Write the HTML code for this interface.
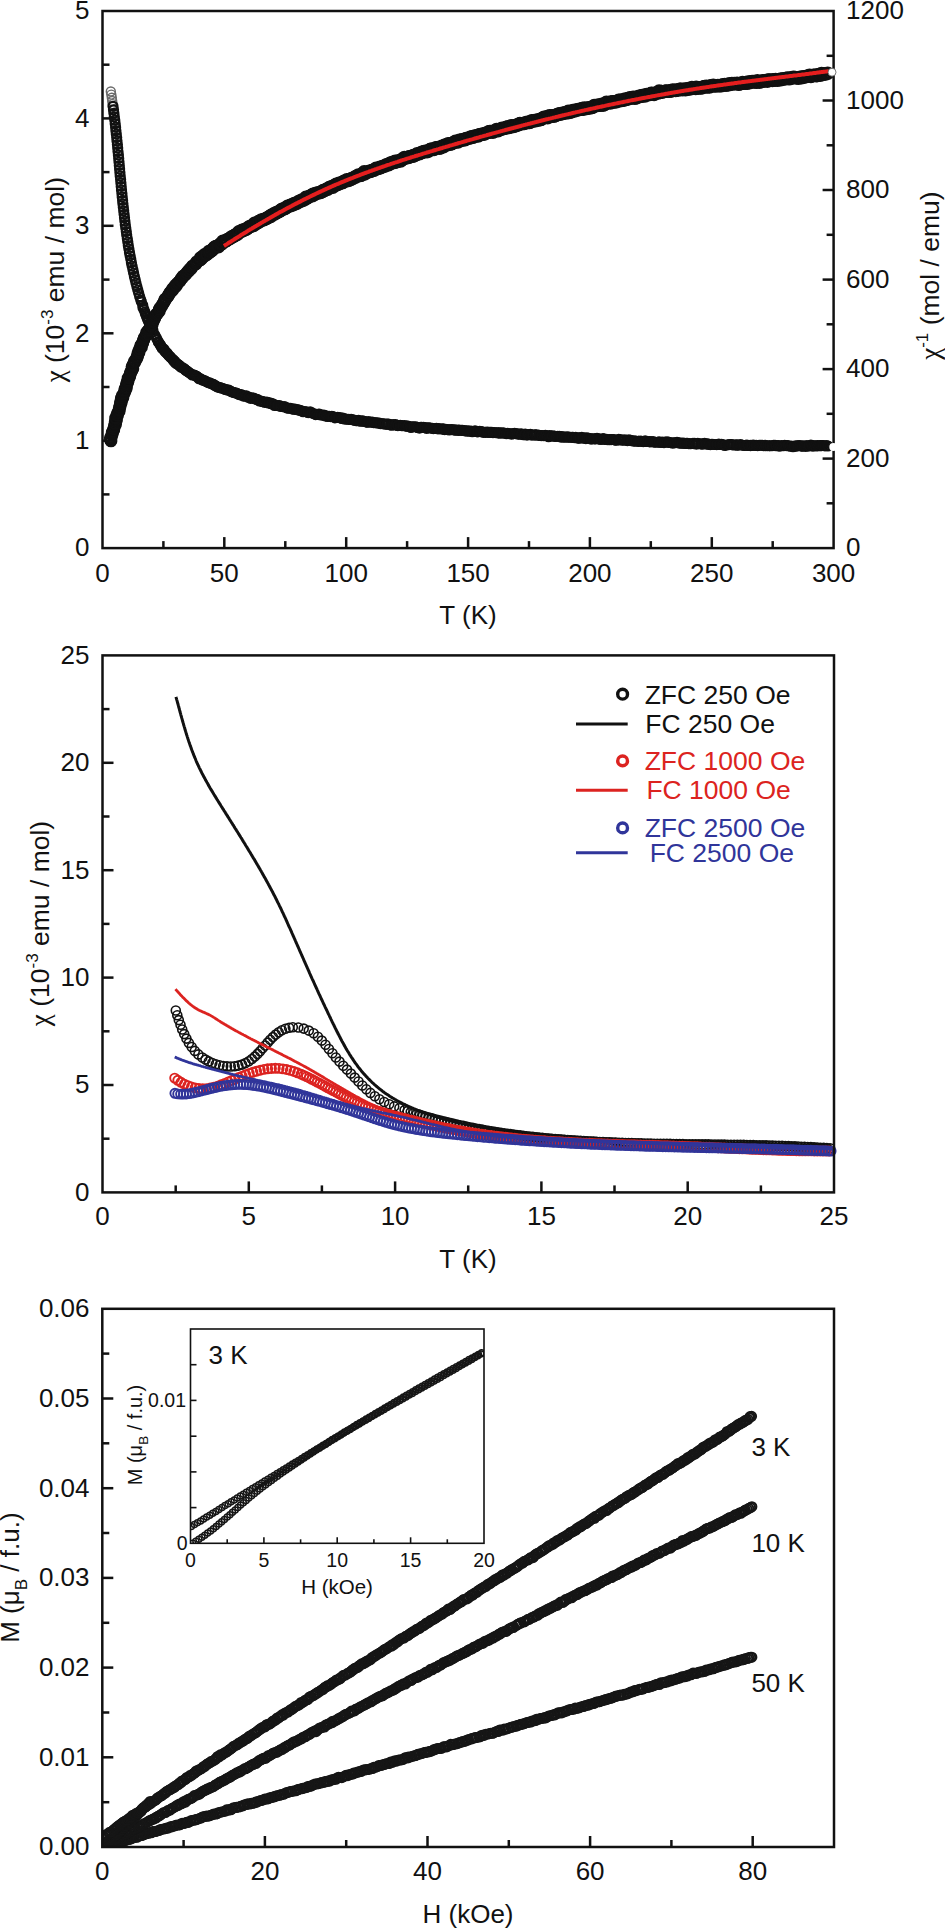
<!DOCTYPE html>
<html><head><meta charset="utf-8"><style>
html,body{margin:0;padding:0;background:#fff;}
svg{display:block;font-family:"Liberation Sans", sans-serif;}
</style></head><body>
<svg width="945" height="1929" viewBox="0 0 945 1929">
<rect width="945" height="1929" fill="#fff"/>
<g fill="none" stroke="#6a6a6a" stroke-width="1.40"><circle cx="110.8" cy="91.5" r="4.50"/><circle cx="111.3" cy="94.6" r="4.50"/><circle cx="111.8" cy="97.8" r="4.50"/><circle cx="112.2" cy="101.0" r="4.50"/><circle cx="112.7" cy="104.1" r="4.50"/></g>
<g fill="none" stroke="#111" stroke-width="2.20"><circle cx="113.0" cy="106.3" r="4.50"/><circle cx="113.5" cy="109.8" r="4.50"/><circle cx="113.9" cy="113.3" r="4.50"/><circle cx="114.3" cy="116.8" r="4.50"/><circle cx="114.8" cy="120.2" r="4.50"/><circle cx="115.2" cy="123.7" r="4.50"/><circle cx="115.6" cy="127.2" r="4.50"/><circle cx="115.9" cy="130.7" r="4.50"/><circle cx="116.3" cy="134.1" r="4.50"/><circle cx="116.7" cy="137.6" r="4.50"/><circle cx="117.0" cy="141.1" r="4.50"/><circle cx="117.4" cy="144.6" r="4.50"/><circle cx="117.7" cy="148.1" r="4.50"/><circle cx="118.0" cy="151.6" r="4.50"/><circle cx="118.4" cy="155.0" r="4.50"/><circle cx="118.7" cy="158.5" r="4.50"/><circle cx="119.0" cy="162.0" r="4.50"/><circle cx="119.3" cy="165.5" r="4.50"/><circle cx="119.6" cy="169.0" r="4.50"/><circle cx="119.9" cy="172.5" r="4.50"/><circle cx="120.2" cy="176.0" r="4.50"/><circle cx="120.6" cy="179.4" r="4.50"/><circle cx="120.9" cy="182.9" r="4.50"/><circle cx="121.2" cy="186.4" r="4.50"/><circle cx="121.5" cy="189.9" r="4.50"/><circle cx="121.9" cy="193.4" r="4.50"/><circle cx="122.2" cy="196.9" r="4.50"/><circle cx="122.6" cy="200.4" r="4.50"/><circle cx="122.9" cy="203.8" r="4.50"/><circle cx="123.3" cy="207.3" r="4.50"/><circle cx="123.7" cy="210.8" r="4.50"/><circle cx="124.1" cy="214.3" r="4.50"/><circle cx="124.5" cy="217.7" r="4.50"/><circle cx="124.9" cy="221.2" r="4.50"/><circle cx="125.3" cy="224.7" r="4.50"/><circle cx="125.8" cy="228.2" r="4.50"/><circle cx="126.3" cy="231.6" r="4.50"/><circle cx="126.7" cy="235.1" r="4.50"/><circle cx="127.3" cy="238.6" r="4.50"/><circle cx="127.8" cy="242.0" r="4.50"/><circle cx="128.3" cy="245.5" r="4.50"/><circle cx="128.9" cy="248.9" r="4.50"/><circle cx="129.5" cy="252.4" r="4.50"/><circle cx="130.1" cy="255.8" r="4.50"/><circle cx="130.8" cy="259.3" r="4.50"/><circle cx="131.4" cy="262.7" r="4.50"/><circle cx="132.1" cy="266.1" r="4.50"/><circle cx="132.9" cy="269.6" r="4.50"/><circle cx="133.6" cy="273.0" r="4.50"/><circle cx="134.4" cy="276.4" r="4.50"/><circle cx="135.2" cy="279.8" r="4.50"/><circle cx="136.0" cy="283.2" r="4.50"/><circle cx="136.9" cy="286.6" r="4.50"/><circle cx="137.8" cy="290.0" r="4.50"/><circle cx="138.7" cy="293.3" r="4.50"/><circle cx="139.7" cy="296.7" r="4.50"/></g>
<g fill="none" stroke="#111" stroke-width="2.30"><circle cx="140.8" cy="299.9" r="4.40"/><circle cx="141.3" cy="301.7" r="4.40"/><circle cx="142.8" cy="305.2" r="4.40"/><circle cx="142.9" cy="307.4" r="4.40"/><circle cx="143.9" cy="309.4" r="4.40"/><circle cx="144.9" cy="311.8" r="4.40"/><circle cx="145.4" cy="314.0" r="4.40"/><circle cx="146.5" cy="316.6" r="4.40"/><circle cx="147.4" cy="318.8" r="4.40"/><circle cx="148.2" cy="321.0" r="4.40"/><circle cx="149.4" cy="323.6" r="4.40"/><circle cx="150.3" cy="326.0" r="4.40"/><circle cx="150.9" cy="328.4" r="4.40"/><circle cx="152.9" cy="329.9" r="4.40"/><circle cx="152.9" cy="332.2" r="4.40"/><circle cx="154.8" cy="334.9" r="4.40"/><circle cx="156.1" cy="337.3" r="4.40"/><circle cx="157.0" cy="339.3" r="4.40"/><circle cx="158.2" cy="341.6" r="4.40"/><circle cx="158.6" cy="342.4" r="4.40"/><circle cx="159.8" cy="344.3" r="4.40"/><circle cx="160.3" cy="344.6" r="4.40"/><circle cx="161.1" cy="346.4" r="4.40"/><circle cx="162.0" cy="347.6" r="4.40"/><circle cx="162.3" cy="348.7" r="4.40"/><circle cx="164.0" cy="349.1" r="4.40"/><circle cx="164.6" cy="351.0" r="4.40"/><circle cx="165.5" cy="352.0" r="4.40"/><circle cx="167.0" cy="352.9" r="4.40"/><circle cx="167.1" cy="353.6" r="4.40"/><circle cx="168.3" cy="354.9" r="4.40"/><circle cx="169.0" cy="355.9" r="4.40"/><circle cx="170.2" cy="356.7" r="4.40"/><circle cx="170.5" cy="357.3" r="4.40"/><circle cx="172.3" cy="359.0" r="4.40"/><circle cx="173.4" cy="360.0" r="4.40"/><circle cx="173.7" cy="361.1" r="4.40"/><circle cx="175.0" cy="361.5" r="4.40"/><circle cx="175.8" cy="363.4" r="4.40"/><circle cx="177.2" cy="363.9" r="4.40"/><circle cx="178.1" cy="364.4" r="4.40"/><circle cx="179.5" cy="365.5" r="4.40"/><circle cx="180.1" cy="366.4" r="4.40"/><circle cx="181.2" cy="367.3" r="4.40"/><circle cx="182.9" cy="367.8" r="4.40"/><circle cx="184.2" cy="368.7" r="4.40"/><circle cx="184.9" cy="369.5" r="4.40"/><circle cx="186.0" cy="370.5" r="4.40"/><circle cx="187.1" cy="371.1" r="4.40"/><circle cx="188.2" cy="371.8" r="4.40"/><circle cx="189.1" cy="372.7" r="4.40"/><circle cx="190.9" cy="373.8" r="4.40"/><circle cx="192.2" cy="375.0" r="4.40"/><circle cx="193.3" cy="374.8" r="4.40"/><circle cx="194.9" cy="375.3" r="4.40"/><circle cx="195.9" cy="376.0" r="4.40"/><circle cx="196.9" cy="376.4" r="4.40"/><circle cx="198.3" cy="377.6" r="4.40"/><circle cx="199.0" cy="378.8" r="4.40"/><circle cx="200.8" cy="378.9" r="4.40"/><circle cx="201.6" cy="379.5" r="4.40"/><circle cx="203.0" cy="380.4" r="4.40"/><circle cx="204.6" cy="380.5" r="4.40"/><circle cx="205.4" cy="381.2" r="4.40"/><circle cx="206.5" cy="381.7" r="4.40"/><circle cx="208.1" cy="382.7" r="4.40"/><circle cx="209.8" cy="382.8" r="4.40"/><circle cx="210.9" cy="383.5" r="4.40"/><circle cx="212.6" cy="384.2" r="4.40"/><circle cx="213.5" cy="384.4" r="4.40"/><circle cx="214.4" cy="385.3" r="4.40"/><circle cx="215.8" cy="385.9" r="4.40"/><circle cx="216.7" cy="386.5" r="4.40"/><circle cx="218.2" cy="387.3" r="4.40"/><circle cx="219.7" cy="387.6" r="4.40"/><circle cx="220.7" cy="387.9" r="4.40"/><circle cx="222.2" cy="388.2" r="4.40"/><circle cx="223.7" cy="388.7" r="4.40"/><circle cx="225.1" cy="389.5" r="4.40"/><circle cx="226.6" cy="389.7" r="4.40"/><circle cx="227.3" cy="390.0" r="4.40"/><circle cx="228.9" cy="390.1" r="4.40"/><circle cx="230.5" cy="391.1" r="4.40"/><circle cx="231.6" cy="391.9" r="4.40"/><circle cx="233.2" cy="392.2" r="4.40"/><circle cx="234.0" cy="392.7" r="4.40"/><circle cx="235.7" cy="392.7" r="4.40"/><circle cx="237.2" cy="393.6" r="4.40"/><circle cx="237.7" cy="393.9" r="4.40"/><circle cx="239.2" cy="394.7" r="4.40"/><circle cx="241.2" cy="394.5" r="4.40"/><circle cx="242.0" cy="395.3" r="4.40"/><circle cx="243.5" cy="396.1" r="4.40"/><circle cx="245.1" cy="396.0" r="4.40"/><circle cx="246.4" cy="395.9" r="4.40"/><circle cx="247.7" cy="397.2" r="4.40"/><circle cx="248.9" cy="397.1" r="4.40"/><circle cx="250.4" cy="398.4" r="4.40"/><circle cx="251.7" cy="397.8" r="4.40"/><circle cx="253.4" cy="398.0" r="4.40"/><circle cx="254.4" cy="398.8" r="4.40"/><circle cx="255.9" cy="399.1" r="4.40"/><circle cx="257.4" cy="399.9" r="4.40"/><circle cx="257.8" cy="399.6" r="4.40"/><circle cx="259.5" cy="401.0" r="4.40"/><circle cx="261.0" cy="401.0" r="4.40"/><circle cx="262.3" cy="401.6" r="4.40"/><circle cx="263.8" cy="401.8" r="4.40"/><circle cx="264.7" cy="402.4" r="4.40"/><circle cx="266.8" cy="402.1" r="4.40"/><circle cx="268.4" cy="403.0" r="4.40"/><circle cx="268.9" cy="402.6" r="4.40"/><circle cx="270.6" cy="403.7" r="4.40"/><circle cx="271.6" cy="403.4" r="4.40"/><circle cx="273.5" cy="404.1" r="4.40"/><circle cx="274.4" cy="405.5" r="4.40"/><circle cx="276.5" cy="405.3" r="4.40"/><circle cx="277.1" cy="405.5" r="4.40"/><circle cx="277.9" cy="405.7" r="4.40"/><circle cx="279.7" cy="405.6" r="4.40"/><circle cx="280.8" cy="406.5" r="4.40"/><circle cx="282.7" cy="406.7" r="4.40"/><circle cx="284.3" cy="406.8" r="4.40"/><circle cx="285.0" cy="406.8" r="4.40"/><circle cx="286.6" cy="407.9" r="4.40"/><circle cx="288.0" cy="408.2" r="4.40"/><circle cx="289.1" cy="408.2" r="4.40"/><circle cx="290.6" cy="408.2" r="4.40"/><circle cx="292.7" cy="409.2" r="4.40"/><circle cx="293.3" cy="409.0" r="4.40"/><circle cx="294.9" cy="409.1" r="4.40"/><circle cx="296.4" cy="409.5" r="4.40"/><circle cx="297.5" cy="409.8" r="4.40"/><circle cx="298.9" cy="410.0" r="4.40"/><circle cx="299.9" cy="410.4" r="4.40"/><circle cx="301.5" cy="410.9" r="4.40"/><circle cx="303.1" cy="411.8" r="4.40"/><circle cx="304.7" cy="411.5" r="4.40"/><circle cx="306.1" cy="411.7" r="4.40"/><circle cx="307.7" cy="412.3" r="4.40"/><circle cx="308.2" cy="412.7" r="4.40"/><circle cx="310.2" cy="411.9" r="4.40"/><circle cx="311.1" cy="412.8" r="4.40"/><circle cx="312.1" cy="412.9" r="4.40"/><circle cx="313.8" cy="413.7" r="4.40"/><circle cx="315.6" cy="414.6" r="4.40"/><circle cx="316.7" cy="414.4" r="4.40"/><circle cx="318.3" cy="414.4" r="4.40"/><circle cx="319.3" cy="414.0" r="4.40"/><circle cx="320.8" cy="415.0" r="4.40"/><circle cx="322.8" cy="415.2" r="4.40"/><circle cx="323.9" cy="415.1" r="4.40"/><circle cx="325.6" cy="416.0" r="4.40"/><circle cx="326.3" cy="415.8" r="4.40"/><circle cx="327.6" cy="416.5" r="4.40"/><circle cx="329.4" cy="416.3" r="4.40"/><circle cx="330.8" cy="416.6" r="4.40"/><circle cx="331.9" cy="416.4" r="4.40"/><circle cx="333.0" cy="416.5" r="4.40"/><circle cx="334.9" cy="417.9" r="4.40"/><circle cx="335.6" cy="417.5" r="4.40"/><circle cx="337.7" cy="417.4" r="4.40"/><circle cx="339.0" cy="417.5" r="4.40"/><circle cx="340.7" cy="417.9" r="4.40"/><circle cx="341.7" cy="418.5" r="4.40"/><circle cx="342.9" cy="418.0" r="4.40"/><circle cx="344.3" cy="419.0" r="4.40"/><circle cx="345.8" cy="419.0" r="4.40"/><circle cx="346.9" cy="419.2" r="4.40"/><circle cx="348.8" cy="419.4" r="4.40"/><circle cx="350.6" cy="419.5" r="4.40"/><circle cx="351.1" cy="419.3" r="4.40"/><circle cx="353.1" cy="419.9" r="4.40"/><circle cx="354.5" cy="420.3" r="4.40"/><circle cx="356.0" cy="420.7" r="4.40"/><circle cx="356.8" cy="420.6" r="4.40"/><circle cx="358.6" cy="420.4" r="4.40"/><circle cx="360.1" cy="421.3" r="4.40"/><circle cx="361.4" cy="421.0" r="4.40"/><circle cx="362.6" cy="420.9" r="4.40"/><circle cx="363.9" cy="421.3" r="4.40"/><circle cx="365.3" cy="421.5" r="4.40"/><circle cx="366.7" cy="422.2" r="4.40"/><circle cx="367.6" cy="422.3" r="4.40"/><circle cx="368.8" cy="421.5" r="4.40"/><circle cx="370.8" cy="422.3" r="4.40"/><circle cx="372.3" cy="422.0" r="4.40"/><circle cx="373.6" cy="422.7" r="4.40"/><circle cx="375.4" cy="422.8" r="4.40"/><circle cx="376.5" cy="422.7" r="4.40"/><circle cx="377.7" cy="423.0" r="4.40"/><circle cx="379.4" cy="423.0" r="4.40"/><circle cx="380.3" cy="423.7" r="4.40"/><circle cx="382.5" cy="423.8" r="4.40"/><circle cx="383.4" cy="423.7" r="4.40"/><circle cx="385.0" cy="424.1" r="4.40"/><circle cx="386.6" cy="424.2" r="4.40"/><circle cx="387.2" cy="424.1" r="4.40"/><circle cx="388.6" cy="424.0" r="4.40"/><circle cx="390.7" cy="424.8" r="4.40"/><circle cx="391.3" cy="425.3" r="4.40"/><circle cx="393.1" cy="424.6" r="4.40"/><circle cx="394.6" cy="425.0" r="4.40"/><circle cx="395.6" cy="424.6" r="4.40"/><circle cx="397.3" cy="425.4" r="4.40"/><circle cx="397.9" cy="425.6" r="4.40"/><circle cx="400.2" cy="425.4" r="4.40"/><circle cx="401.5" cy="425.6" r="4.40"/><circle cx="402.6" cy="425.7" r="4.40"/><circle cx="404.6" cy="425.5" r="4.40"/><circle cx="405.7" cy="426.2" r="4.40"/><circle cx="406.8" cy="426.1" r="4.40"/><circle cx="408.0" cy="426.1" r="4.40"/><circle cx="409.8" cy="426.6" r="4.40"/><circle cx="410.9" cy="427.5" r="4.40"/><circle cx="412.4" cy="426.8" r="4.40"/><circle cx="413.9" cy="426.7" r="4.40"/><circle cx="415.8" cy="426.8" r="4.40"/><circle cx="417.2" cy="427.4" r="4.40"/><circle cx="417.8" cy="427.5" r="4.40"/><circle cx="419.4" cy="428.2" r="4.40"/><circle cx="420.8" cy="427.2" r="4.40"/><circle cx="421.8" cy="427.2" r="4.40"/><circle cx="423.6" cy="427.4" r="4.40"/><circle cx="424.8" cy="427.6" r="4.40"/><circle cx="426.5" cy="428.4" r="4.40"/><circle cx="427.4" cy="427.9" r="4.40"/><circle cx="429.0" cy="427.7" r="4.40"/><circle cx="430.3" cy="428.0" r="4.40"/><circle cx="432.3" cy="428.3" r="4.40"/><circle cx="433.3" cy="428.7" r="4.40"/><circle cx="435.0" cy="428.5" r="4.40"/><circle cx="436.4" cy="428.4" r="4.40"/><circle cx="437.9" cy="428.9" r="4.40"/><circle cx="439.0" cy="428.5" r="4.40"/><circle cx="440.9" cy="429.0" r="4.40"/><circle cx="442.8" cy="428.9" r="4.40"/><circle cx="443.5" cy="429.1" r="4.40"/><circle cx="444.7" cy="429.6" r="4.40"/><circle cx="445.8" cy="429.4" r="4.40"/><circle cx="447.5" cy="429.6" r="4.40"/><circle cx="449.0" cy="429.9" r="4.40"/><circle cx="450.5" cy="429.8" r="4.40"/><circle cx="451.6" cy="429.5" r="4.40"/><circle cx="452.8" cy="429.8" r="4.40"/><circle cx="454.7" cy="429.9" r="4.40"/><circle cx="455.5" cy="430.3" r="4.40"/><circle cx="457.0" cy="430.0" r="4.40"/><circle cx="458.6" cy="430.4" r="4.40"/><circle cx="459.3" cy="430.1" r="4.40"/><circle cx="461.5" cy="430.4" r="4.40"/><circle cx="462.6" cy="430.4" r="4.40"/><circle cx="464.6" cy="430.5" r="4.40"/><circle cx="465.8" cy="431.0" r="4.40"/><circle cx="466.9" cy="431.0" r="4.40"/><circle cx="468.3" cy="430.8" r="4.40"/><circle cx="469.5" cy="431.3" r="4.40"/><circle cx="471.1" cy="431.0" r="4.40"/><circle cx="472.3" cy="431.8" r="4.40"/><circle cx="474.2" cy="431.3" r="4.40"/><circle cx="475.2" cy="430.9" r="4.40"/><circle cx="476.9" cy="431.6" r="4.40"/><circle cx="477.8" cy="431.9" r="4.40"/><circle cx="479.8" cy="431.4" r="4.40"/><circle cx="480.8" cy="431.6" r="4.40"/><circle cx="482.4" cy="431.8" r="4.40"/><circle cx="483.3" cy="432.4" r="4.40"/><circle cx="485.3" cy="432.4" r="4.40"/><circle cx="487.0" cy="432.0" r="4.40"/><circle cx="488.1" cy="432.4" r="4.40"/><circle cx="489.6" cy="432.2" r="4.40"/><circle cx="490.6" cy="432.4" r="4.40"/><circle cx="491.9" cy="432.3" r="4.40"/><circle cx="493.0" cy="432.6" r="4.40"/><circle cx="494.7" cy="432.5" r="4.40"/><circle cx="496.3" cy="432.8" r="4.40"/><circle cx="498.3" cy="432.9" r="4.40"/><circle cx="498.7" cy="432.9" r="4.40"/><circle cx="500.4" cy="433.1" r="4.40"/><circle cx="501.7" cy="432.8" r="4.40"/><circle cx="503.2" cy="433.0" r="4.40"/><circle cx="504.2" cy="433.0" r="4.40"/><circle cx="506.1" cy="433.7" r="4.40"/><circle cx="507.5" cy="433.3" r="4.40"/><circle cx="509.1" cy="433.7" r="4.40"/><circle cx="510.8" cy="433.8" r="4.40"/><circle cx="511.7" cy="434.1" r="4.40"/><circle cx="513.6" cy="433.6" r="4.40"/><circle cx="514.6" cy="433.3" r="4.40"/><circle cx="515.8" cy="433.7" r="4.40"/><circle cx="517.3" cy="433.9" r="4.40"/><circle cx="518.7" cy="434.1" r="4.40"/><circle cx="520.3" cy="434.3" r="4.40"/><circle cx="521.3" cy="433.9" r="4.40"/><circle cx="523.3" cy="434.8" r="4.40"/><circle cx="524.2" cy="434.6" r="4.40"/><circle cx="525.2" cy="434.1" r="4.40"/><circle cx="527.0" cy="435.1" r="4.40"/><circle cx="528.2" cy="434.5" r="4.40"/><circle cx="530.4" cy="434.2" r="4.40"/><circle cx="531.5" cy="435.0" r="4.40"/><circle cx="532.6" cy="435.0" r="4.40"/><circle cx="534.9" cy="434.7" r="4.40"/><circle cx="535.4" cy="435.1" r="4.40"/><circle cx="536.7" cy="434.8" r="4.40"/><circle cx="538.8" cy="435.4" r="4.40"/><circle cx="539.2" cy="435.2" r="4.40"/><circle cx="541.2" cy="435.6" r="4.40"/><circle cx="542.0" cy="435.5" r="4.40"/><circle cx="543.9" cy="435.8" r="4.40"/><circle cx="545.4" cy="435.2" r="4.40"/><circle cx="547.2" cy="435.9" r="4.40"/><circle cx="548.6" cy="436.8" r="4.40"/><circle cx="549.4" cy="435.6" r="4.40"/><circle cx="551.1" cy="436.0" r="4.40"/><circle cx="552.1" cy="435.9" r="4.40"/><circle cx="554.2" cy="436.1" r="4.40"/><circle cx="554.6" cy="436.2" r="4.40"/><circle cx="556.1" cy="436.5" r="4.40"/><circle cx="557.7" cy="436.2" r="4.40"/><circle cx="559.4" cy="436.4" r="4.40"/><circle cx="560.9" cy="437.1" r="4.40"/><circle cx="561.9" cy="436.6" r="4.40"/><circle cx="563.5" cy="437.1" r="4.40"/><circle cx="564.8" cy="437.0" r="4.40"/><circle cx="566.2" cy="437.1" r="4.40"/><circle cx="567.8" cy="436.9" r="4.40"/><circle cx="568.9" cy="437.2" r="4.40"/><circle cx="570.2" cy="437.3" r="4.40"/><circle cx="572.0" cy="437.4" r="4.40"/><circle cx="573.0" cy="437.2" r="4.40"/><circle cx="575.1" cy="437.8" r="4.40"/><circle cx="575.7" cy="437.4" r="4.40"/><circle cx="578.0" cy="438.1" r="4.40"/><circle cx="578.8" cy="438.1" r="4.40"/><circle cx="579.8" cy="437.9" r="4.40"/><circle cx="581.8" cy="437.4" r="4.40"/><circle cx="582.8" cy="438.3" r="4.40"/><circle cx="584.7" cy="437.9" r="4.40"/><circle cx="585.9" cy="438.7" r="4.40"/><circle cx="587.1" cy="437.9" r="4.40"/><circle cx="588.6" cy="438.2" r="4.40"/><circle cx="590.4" cy="438.5" r="4.40"/><circle cx="591.1" cy="439.2" r="4.40"/><circle cx="592.6" cy="438.7" r="4.40"/><circle cx="594.4" cy="438.9" r="4.40"/><circle cx="595.6" cy="438.9" r="4.40"/><circle cx="597.0" cy="438.4" r="4.40"/><circle cx="598.3" cy="438.9" r="4.40"/><circle cx="599.7" cy="439.0" r="4.40"/><circle cx="601.0" cy="439.5" r="4.40"/><circle cx="603.0" cy="438.5" r="4.40"/><circle cx="604.0" cy="439.0" r="4.40"/><circle cx="604.6" cy="439.4" r="4.40"/><circle cx="606.6" cy="439.3" r="4.40"/><circle cx="608.0" cy="439.8" r="4.40"/><circle cx="609.9" cy="439.6" r="4.40"/><circle cx="611.2" cy="439.6" r="4.40"/><circle cx="612.4" cy="439.5" r="4.40"/><circle cx="613.8" cy="439.6" r="4.40"/><circle cx="615.3" cy="440.1" r="4.40"/><circle cx="616.6" cy="440.3" r="4.40"/><circle cx="618.8" cy="439.4" r="4.40"/><circle cx="619.3" cy="439.9" r="4.40"/><circle cx="620.6" cy="439.7" r="4.40"/><circle cx="622.2" cy="440.1" r="4.40"/><circle cx="623.3" cy="440.2" r="4.40"/><circle cx="624.8" cy="439.7" r="4.40"/><circle cx="626.7" cy="440.4" r="4.40"/><circle cx="627.4" cy="440.6" r="4.40"/><circle cx="628.9" cy="439.9" r="4.40"/><circle cx="630.8" cy="440.2" r="4.40"/><circle cx="631.9" cy="440.8" r="4.40"/><circle cx="633.7" cy="441.2" r="4.40"/><circle cx="634.8" cy="440.7" r="4.40"/><circle cx="636.0" cy="441.3" r="4.40"/><circle cx="638.1" cy="441.2" r="4.40"/><circle cx="638.7" cy="441.4" r="4.40"/><circle cx="640.2" cy="441.0" r="4.40"/><circle cx="641.6" cy="441.4" r="4.40"/><circle cx="643.2" cy="441.6" r="4.40"/><circle cx="644.9" cy="441.5" r="4.40"/><circle cx="645.2" cy="440.9" r="4.40"/><circle cx="647.4" cy="441.5" r="4.40"/><circle cx="649.4" cy="441.6" r="4.40"/><circle cx="650.1" cy="441.9" r="4.40"/><circle cx="651.8" cy="441.7" r="4.40"/><circle cx="653.0" cy="441.5" r="4.40"/><circle cx="654.0" cy="442.2" r="4.40"/><circle cx="655.3" cy="442.2" r="4.40"/><circle cx="657.3" cy="442.2" r="4.40"/><circle cx="658.8" cy="442.2" r="4.40"/><circle cx="659.2" cy="441.8" r="4.40"/><circle cx="661.1" cy="442.5" r="4.40"/><circle cx="662.3" cy="442.0" r="4.40"/><circle cx="664.0" cy="442.7" r="4.40"/><circle cx="665.1" cy="442.0" r="4.40"/><circle cx="667.1" cy="441.8" r="4.40"/><circle cx="668.4" cy="442.4" r="4.40"/><circle cx="669.2" cy="442.4" r="4.40"/><circle cx="670.8" cy="442.7" r="4.40"/><circle cx="672.6" cy="443.1" r="4.40"/><circle cx="673.9" cy="442.8" r="4.40"/><circle cx="675.1" cy="442.8" r="4.40"/><circle cx="677.0" cy="442.3" r="4.40"/><circle cx="678.3" cy="442.8" r="4.40"/><circle cx="679.5" cy="443.1" r="4.40"/><circle cx="681.1" cy="443.1" r="4.40"/><circle cx="682.2" cy="443.2" r="4.40"/><circle cx="683.7" cy="443.1" r="4.40"/><circle cx="685.1" cy="443.5" r="4.40"/><circle cx="686.5" cy="443.3" r="4.40"/><circle cx="687.5" cy="443.3" r="4.40"/><circle cx="688.7" cy="443.6" r="4.40"/><circle cx="690.4" cy="443.8" r="4.40"/><circle cx="693.0" cy="443.4" r="4.40"/><circle cx="693.9" cy="443.7" r="4.40"/><circle cx="694.7" cy="443.4" r="4.40"/><circle cx="696.4" cy="444.1" r="4.40"/><circle cx="697.8" cy="443.3" r="4.40"/><circle cx="698.7" cy="443.7" r="4.40"/><circle cx="700.9" cy="443.9" r="4.40"/><circle cx="702.0" cy="444.2" r="4.40"/><circle cx="703.2" cy="443.9" r="4.40"/><circle cx="704.6" cy="443.4" r="4.40"/><circle cx="706.2" cy="444.1" r="4.40"/><circle cx="707.7" cy="443.7" r="4.40"/><circle cx="708.6" cy="444.4" r="4.40"/><circle cx="710.3" cy="444.6" r="4.40"/><circle cx="711.4" cy="444.3" r="4.40"/><circle cx="712.8" cy="444.3" r="4.40"/><circle cx="714.3" cy="444.5" r="4.40"/><circle cx="716.2" cy="444.5" r="4.40"/><circle cx="716.7" cy="444.7" r="4.40"/><circle cx="718.8" cy="444.1" r="4.40"/><circle cx="719.8" cy="444.5" r="4.40"/><circle cx="721.6" cy="444.4" r="4.40"/><circle cx="722.4" cy="444.6" r="4.40"/><circle cx="724.3" cy="445.3" r="4.40"/><circle cx="725.3" cy="445.4" r="4.40"/><circle cx="727.6" cy="444.8" r="4.40"/><circle cx="728.9" cy="444.7" r="4.40"/><circle cx="730.1" cy="444.5" r="4.40"/><circle cx="731.3" cy="444.5" r="4.40"/><circle cx="732.2" cy="444.8" r="4.40"/><circle cx="733.8" cy="445.0" r="4.40"/><circle cx="735.8" cy="444.9" r="4.40"/><circle cx="736.9" cy="445.0" r="4.40"/><circle cx="737.7" cy="445.1" r="4.40"/><circle cx="739.6" cy="445.0" r="4.40"/><circle cx="740.7" cy="444.5" r="4.40"/><circle cx="742.4" cy="445.2" r="4.40"/><circle cx="744.2" cy="445.5" r="4.40"/><circle cx="745.7" cy="445.3" r="4.40"/><circle cx="747.0" cy="445.1" r="4.40"/><circle cx="748.2" cy="445.5" r="4.40"/><circle cx="750.2" cy="445.3" r="4.40"/><circle cx="750.5" cy="445.7" r="4.40"/><circle cx="752.0" cy="445.3" r="4.40"/><circle cx="753.5" cy="445.1" r="4.40"/><circle cx="755.4" cy="445.5" r="4.40"/><circle cx="756.2" cy="445.4" r="4.40"/><circle cx="757.7" cy="445.6" r="4.40"/><circle cx="759.1" cy="445.2" r="4.40"/><circle cx="760.4" cy="445.3" r="4.40"/><circle cx="762.1" cy="445.2" r="4.40"/><circle cx="763.4" cy="445.6" r="4.40"/><circle cx="765.5" cy="445.8" r="4.40"/><circle cx="765.3" cy="445.4" r="4.40"/><circle cx="767.5" cy="445.7" r="4.40"/><circle cx="769.5" cy="445.8" r="4.40"/><circle cx="769.7" cy="445.7" r="4.40"/><circle cx="771.9" cy="445.8" r="4.40"/><circle cx="773.6" cy="445.3" r="4.40"/><circle cx="775.0" cy="445.2" r="4.40"/><circle cx="776.0" cy="445.8" r="4.40"/><circle cx="778.1" cy="445.5" r="4.40"/><circle cx="778.3" cy="445.9" r="4.40"/><circle cx="780.0" cy="446.2" r="4.40"/><circle cx="781.4" cy="445.5" r="4.40"/><circle cx="783.4" cy="445.8" r="4.40"/><circle cx="784.7" cy="445.3" r="4.40"/><circle cx="786.3" cy="445.6" r="4.40"/><circle cx="787.5" cy="445.5" r="4.40"/><circle cx="788.2" cy="445.7" r="4.40"/><circle cx="790.1" cy="446.3" r="4.40"/><circle cx="791.5" cy="446.0" r="4.40"/><circle cx="793.0" cy="446.8" r="4.40"/><circle cx="794.0" cy="446.2" r="4.40"/><circle cx="795.6" cy="445.9" r="4.40"/><circle cx="796.9" cy="446.2" r="4.40"/><circle cx="798.1" cy="445.5" r="4.40"/><circle cx="799.8" cy="445.5" r="4.40"/><circle cx="801.4" cy="446.1" r="4.40"/><circle cx="802.4" cy="446.1" r="4.40"/><circle cx="803.8" cy="445.8" r="4.40"/><circle cx="805.4" cy="446.4" r="4.40"/><circle cx="806.8" cy="445.6" r="4.40"/><circle cx="808.0" cy="446.2" r="4.40"/><circle cx="809.1" cy="445.7" r="4.40"/><circle cx="810.9" cy="445.1" r="4.40"/><circle cx="812.3" cy="446.2" r="4.40"/><circle cx="813.9" cy="445.6" r="4.40"/><circle cx="815.4" cy="446.0" r="4.40"/><circle cx="817.2" cy="445.6" r="4.40"/><circle cx="817.9" cy="445.8" r="4.40"/><circle cx="819.4" cy="445.8" r="4.40"/><circle cx="820.8" cy="445.6" r="4.40"/><circle cx="821.7" cy="445.6" r="4.40"/><circle cx="823.2" cy="445.5" r="4.40"/><circle cx="824.9" cy="445.9" r="4.40"/><circle cx="826.7" cy="445.5" r="4.40"/><circle cx="827.9" cy="446.0" r="4.40"/></g>
<g fill="none" stroke="#111" stroke-width="2.40"><circle cx="111.0" cy="440.9" r="5.20"/><circle cx="110.7" cy="440.4" r="5.20"/><circle cx="110.7" cy="439.1" r="5.20"/><circle cx="110.4" cy="437.8" r="5.20"/><circle cx="111.2" cy="437.8" r="5.20"/><circle cx="112.0" cy="435.0" r="5.20"/><circle cx="112.2" cy="433.5" r="5.20"/><circle cx="112.2" cy="432.3" r="5.20"/><circle cx="113.2" cy="431.0" r="5.20"/><circle cx="113.8" cy="429.7" r="5.20"/><circle cx="113.7" cy="429.0" r="5.20"/><circle cx="114.3" cy="426.9" r="5.20"/><circle cx="114.4" cy="425.9" r="5.20"/><circle cx="115.6" cy="424.2" r="5.20"/><circle cx="115.1" cy="423.4" r="5.20"/><circle cx="115.2" cy="421.5" r="5.20"/><circle cx="116.3" cy="420.5" r="5.20"/><circle cx="116.4" cy="419.2" r="5.20"/><circle cx="115.6" cy="418.0" r="5.20"/><circle cx="116.7" cy="415.6" r="5.20"/><circle cx="117.6" cy="415.2" r="5.20"/><circle cx="117.7" cy="413.1" r="5.20"/><circle cx="118.2" cy="412.2" r="5.20"/><circle cx="119.2" cy="411.2" r="5.20"/><circle cx="119.1" cy="410.0" r="5.20"/><circle cx="119.3" cy="407.8" r="5.20"/><circle cx="120.0" cy="407.1" r="5.20"/><circle cx="120.1" cy="405.2" r="5.20"/><circle cx="120.6" cy="403.1" r="5.20"/><circle cx="121.2" cy="403.0" r="5.20"/><circle cx="120.7" cy="401.5" r="5.20"/><circle cx="121.4" cy="400.4" r="5.20"/><circle cx="121.3" cy="398.4" r="5.20"/><circle cx="122.9" cy="397.9" r="5.20"/><circle cx="122.1" cy="395.9" r="5.20"/><circle cx="123.5" cy="394.5" r="5.20"/><circle cx="124.4" cy="393.0" r="5.20"/><circle cx="124.4" cy="391.7" r="5.20"/><circle cx="125.2" cy="390.7" r="5.20"/><circle cx="124.9" cy="388.7" r="5.20"/><circle cx="126.2" cy="388.4" r="5.20"/><circle cx="126.2" cy="387.2" r="5.20"/><circle cx="126.5" cy="385.2" r="5.20"/><circle cx="126.5" cy="383.8" r="5.20"/><circle cx="127.8" cy="382.2" r="5.20"/><circle cx="127.4" cy="381.3" r="5.20"/><circle cx="128.2" cy="380.3" r="5.20"/><circle cx="128.1" cy="378.1" r="5.20"/><circle cx="129.0" cy="377.9" r="5.20"/><circle cx="129.8" cy="376.2" r="5.20"/><circle cx="129.8" cy="374.9" r="5.20"/><circle cx="130.3" cy="373.8" r="5.20"/><circle cx="130.6" cy="372.2" r="5.20"/><circle cx="131.3" cy="371.1" r="5.20"/><circle cx="131.9" cy="370.6" r="5.20"/><circle cx="132.9" cy="368.8" r="5.20"/><circle cx="132.0" cy="366.8" r="5.20"/><circle cx="133.0" cy="365.8" r="5.20"/><circle cx="132.9" cy="364.8" r="5.20"/><circle cx="134.7" cy="362.5" r="5.20"/><circle cx="134.4" cy="361.3" r="5.20"/><circle cx="135.3" cy="360.6" r="5.20"/><circle cx="136.6" cy="359.0" r="5.20"/><circle cx="136.6" cy="357.8" r="5.20"/><circle cx="137.5" cy="356.7" r="5.20"/><circle cx="137.9" cy="354.7" r="5.20"/><circle cx="137.8" cy="353.5" r="5.20"/><circle cx="139.0" cy="352.8" r="5.20"/><circle cx="138.8" cy="351.1" r="5.20"/><circle cx="139.6" cy="349.7" r="5.20"/><circle cx="139.6" cy="348.9" r="5.20"/><circle cx="141.5" cy="347.3" r="5.20"/><circle cx="140.9" cy="345.6" r="5.20"/><circle cx="141.1" cy="345.0" r="5.20"/><circle cx="142.5" cy="343.5" r="5.20"/><circle cx="142.9" cy="342.3" r="5.20"/><circle cx="143.4" cy="340.4" r="5.20"/><circle cx="143.7" cy="339.7" r="5.20"/><circle cx="144.2" cy="338.2" r="5.20"/><circle cx="144.7" cy="337.0" r="5.20"/><circle cx="146.0" cy="335.7" r="5.20"/><circle cx="146.2" cy="334.9" r="5.20"/><circle cx="147.1" cy="334.0" r="5.20"/><circle cx="146.6" cy="332.4" r="5.20"/><circle cx="147.9" cy="330.9" r="5.20"/><circle cx="149.0" cy="330.0" r="5.20"/><circle cx="149.7" cy="328.4" r="5.20"/><circle cx="150.6" cy="327.0" r="5.20"/><circle cx="150.5" cy="326.1" r="5.20"/><circle cx="151.0" cy="325.4" r="5.20"/><circle cx="152.3" cy="324.2" r="5.20"/><circle cx="152.5" cy="321.9" r="5.20"/><circle cx="153.2" cy="321.2" r="5.20"/><circle cx="153.6" cy="319.8" r="5.20"/><circle cx="154.5" cy="319.0" r="5.20"/><circle cx="154.9" cy="317.6" r="5.20"/><circle cx="155.6" cy="315.6" r="5.20"/><circle cx="156.2" cy="314.2" r="5.20"/><circle cx="157.3" cy="313.9" r="5.20"/><circle cx="158.0" cy="312.5" r="5.20"/><circle cx="159.3" cy="311.2" r="5.20"/><circle cx="159.4" cy="309.8" r="5.20"/><circle cx="159.4" cy="309.0" r="5.20"/><circle cx="160.1" cy="307.7" r="5.20"/><circle cx="161.5" cy="306.7" r="5.20"/><circle cx="162.2" cy="304.7" r="5.20"/><circle cx="163.1" cy="303.7" r="5.20"/><circle cx="163.6" cy="302.7" r="5.20"/><circle cx="164.4" cy="301.4" r="5.20"/><circle cx="164.9" cy="300.3" r="5.20"/><circle cx="165.1" cy="299.1" r="5.20"/><circle cx="166.3" cy="298.5" r="5.20"/><circle cx="168.0" cy="296.1" r="5.20"/><circle cx="168.4" cy="295.6" r="5.20"/><circle cx="168.7" cy="294.7" r="5.20"/><circle cx="169.7" cy="292.7" r="5.20"/><circle cx="170.6" cy="292.2" r="5.20"/><circle cx="171.6" cy="290.6" r="5.20"/><circle cx="172.6" cy="290.3" r="5.20"/><circle cx="172.7" cy="288.6" r="5.20"/><circle cx="174.0" cy="287.5" r="5.20"/><circle cx="175.6" cy="286.7" r="5.20"/><circle cx="175.3" cy="285.2" r="5.20"/><circle cx="176.6" cy="285.3" r="5.20"/><circle cx="177.4" cy="283.3" r="5.20"/><circle cx="178.5" cy="282.2" r="5.20"/><circle cx="180.1" cy="280.9" r="5.20"/><circle cx="180.4" cy="280.1" r="5.20"/><circle cx="181.2" cy="278.5" r="5.20"/><circle cx="182.6" cy="277.8" r="5.20"/><circle cx="182.8" cy="276.4" r="5.20"/><circle cx="183.4" cy="276.0" r="5.20"/><circle cx="185.1" cy="275.0" r="5.20"/><circle cx="186.1" cy="274.0" r="5.20"/><circle cx="186.6" cy="273.0" r="5.20"/><circle cx="187.7" cy="271.6" r="5.20"/><circle cx="188.7" cy="271.1" r="5.20"/><circle cx="189.5" cy="269.4" r="5.20"/><circle cx="190.7" cy="269.3" r="5.20"/><circle cx="191.3" cy="267.5" r="5.20"/><circle cx="192.3" cy="267.1" r="5.20"/><circle cx="192.6" cy="265.8" r="5.20"/><circle cx="194.9" cy="264.3" r="5.20"/><circle cx="196.0" cy="263.9" r="5.20"/><circle cx="196.2" cy="262.8" r="5.20"/><circle cx="196.8" cy="261.6" r="5.20"/><circle cx="199.2" cy="260.5" r="5.20"/><circle cx="200.3" cy="259.9" r="5.20"/><circle cx="201.0" cy="259.0" r="5.60"/><circle cx="200.8" cy="257.9" r="5.60"/><circle cx="202.8" cy="256.7" r="5.60"/><circle cx="203.3" cy="256.4" r="5.60"/><circle cx="204.6" cy="254.7" r="5.60"/><circle cx="205.7" cy="254.9" r="5.60"/><circle cx="206.9" cy="254.1" r="5.60"/><circle cx="208.8" cy="252.8" r="5.60"/><circle cx="208.9" cy="251.5" r="5.60"/><circle cx="210.4" cy="251.5" r="5.60"/><circle cx="211.7" cy="250.5" r="5.60"/><circle cx="212.5" cy="249.6" r="5.60"/><circle cx="213.7" cy="248.5" r="5.60"/><circle cx="214.5" cy="247.2" r="5.60"/><circle cx="215.9" cy="246.6" r="5.60"/><circle cx="216.9" cy="246.5" r="5.60"/><circle cx="218.4" cy="246.6" r="5.60"/><circle cx="220.0" cy="244.4" r="5.60"/><circle cx="221.1" cy="244.1" r="5.60"/><circle cx="221.7" cy="243.6" r="5.60"/><circle cx="222.8" cy="241.2" r="5.60"/><circle cx="224.6" cy="241.4" r="5.60"/><circle cx="226.1" cy="240.6" r="5.60"/><circle cx="226.2" cy="240.7" r="5.60"/><circle cx="227.4" cy="239.5" r="5.60"/><circle cx="229.6" cy="238.7" r="5.60"/><circle cx="230.2" cy="238.0" r="5.60"/><circle cx="231.8" cy="236.9" r="5.60"/><circle cx="232.9" cy="236.7" r="5.60"/><circle cx="234.8" cy="235.6" r="5.60"/><circle cx="234.7" cy="235.3" r="5.60"/><circle cx="236.1" cy="234.5" r="5.60"/><circle cx="237.5" cy="234.1" r="5.60"/><circle cx="238.4" cy="232.9" r="5.60"/><circle cx="238.9" cy="231.9" r="5.60"/><circle cx="241.7" cy="231.3" r="5.60"/><circle cx="242.0" cy="230.4" r="5.60"/><circle cx="243.8" cy="230.2" r="5.60"/><circle cx="244.3" cy="229.7" r="5.60"/><circle cx="246.1" cy="229.1" r="5.60"/><circle cx="246.9" cy="228.8" r="5.60"/><circle cx="248.6" cy="227.4" r="5.60"/><circle cx="249.4" cy="226.7" r="5.60"/><circle cx="251.2" cy="226.0" r="5.60"/><circle cx="252.5" cy="225.7" r="5.60"/><circle cx="253.9" cy="225.1" r="5.60"/><circle cx="254.5" cy="223.3" r="5.60"/><circle cx="255.9" cy="223.7" r="5.60"/><circle cx="257.1" cy="223.0" r="5.60"/><circle cx="258.1" cy="221.9" r="5.60"/><circle cx="259.1" cy="222.0" r="5.60"/><circle cx="260.8" cy="220.6" r="5.60"/><circle cx="261.4" cy="220.0" r="5.60"/><circle cx="263.8" cy="219.6" r="5.60"/><circle cx="264.2" cy="219.4" r="5.60"/><circle cx="266.3" cy="218.5" r="5.60"/><circle cx="267.2" cy="218.0" r="5.60"/><circle cx="268.4" cy="217.2" r="5.60"/><circle cx="269.1" cy="216.8" r="5.60"/><circle cx="270.7" cy="216.4" r="5.60"/><circle cx="271.1" cy="215.2" r="5.60"/><circle cx="273.5" cy="214.1" r="5.60"/><circle cx="274.6" cy="213.9" r="5.60"/><circle cx="275.9" cy="212.8" r="5.60"/><circle cx="276.8" cy="212.8" r="5.60"/><circle cx="278.6" cy="211.8" r="5.60"/><circle cx="279.4" cy="211.2" r="5.60"/><circle cx="281.0" cy="210.1" r="5.60"/><circle cx="281.4" cy="209.9" r="5.60"/><circle cx="282.7" cy="209.0" r="5.60"/><circle cx="284.4" cy="208.8" r="5.60"/><circle cx="285.2" cy="208.3" r="5.60"/><circle cx="286.2" cy="207.6" r="5.60"/><circle cx="287.5" cy="206.2" r="5.60"/><circle cx="289.7" cy="206.0" r="5.60"/><circle cx="290.4" cy="205.4" r="5.60"/><circle cx="292.1" cy="204.9" r="5.60"/><circle cx="293.2" cy="204.7" r="5.60"/><circle cx="294.2" cy="203.5" r="5.60"/><circle cx="295.5" cy="203.6" r="5.60"/><circle cx="297.4" cy="203.0" r="5.60"/><circle cx="298.2" cy="201.8" r="5.60"/><circle cx="299.9" cy="201.1" r="5.60"/><circle cx="301.1" cy="201.0" r="5.60"/><circle cx="301.8" cy="200.1" r="5.60"/><circle cx="303.3" cy="200.2" r="5.60"/><circle cx="305.6" cy="198.9" r="5.60"/><circle cx="305.9" cy="197.4" r="5.60"/><circle cx="307.2" cy="197.7" r="5.60"/><circle cx="308.0" cy="197.5" r="5.60"/><circle cx="309.0" cy="196.5" r="5.60"/><circle cx="311.0" cy="195.5" r="5.60"/><circle cx="312.5" cy="195.8" r="5.60"/><circle cx="312.9" cy="194.2" r="5.60"/><circle cx="315.0" cy="194.2" r="5.60"/><circle cx="315.5" cy="193.5" r="5.60"/><circle cx="317.3" cy="193.0" r="5.60"/><circle cx="318.9" cy="192.7" r="5.60"/><circle cx="320.6" cy="192.5" r="5.60"/><circle cx="321.4" cy="191.8" r="5.60"/><circle cx="323.0" cy="191.1" r="5.60"/><circle cx="323.2" cy="190.6" r="5.60"/><circle cx="325.0" cy="190.3" r="5.60"/><circle cx="326.3" cy="189.3" r="5.60"/><circle cx="327.7" cy="189.2" r="5.60"/><circle cx="328.9" cy="187.9" r="5.60"/><circle cx="330.2" cy="187.3" r="5.60"/><circle cx="331.5" cy="186.9" r="5.60"/><circle cx="332.8" cy="187.1" r="5.60"/><circle cx="333.8" cy="185.8" r="5.60"/><circle cx="335.2" cy="185.5" r="5.60"/><circle cx="336.1" cy="184.4" r="5.60"/><circle cx="337.8" cy="184.4" r="5.60"/><circle cx="339.1" cy="183.4" r="5.60"/><circle cx="340.1" cy="183.3" r="5.60"/><circle cx="342.3" cy="182.6" r="5.60"/><circle cx="343.1" cy="182.1" r="5.60"/><circle cx="343.9" cy="181.3" r="5.60"/><circle cx="345.5" cy="181.0" r="5.60"/><circle cx="346.9" cy="179.9" r="5.60"/><circle cx="348.6" cy="180.5" r="5.60"/><circle cx="349.4" cy="179.5" r="5.60"/><circle cx="350.9" cy="179.1" r="5.60"/><circle cx="351.5" cy="178.9" r="5.60"/><circle cx="353.2" cy="178.2" r="5.60"/><circle cx="354.7" cy="177.0" r="5.60"/><circle cx="355.9" cy="177.0" r="5.60"/><circle cx="356.9" cy="176.0" r="5.60"/><circle cx="358.4" cy="175.0" r="5.60"/><circle cx="360.4" cy="175.4" r="5.60"/><circle cx="361.2" cy="175.1" r="5.60"/><circle cx="362.1" cy="174.1" r="5.60"/><circle cx="364.5" cy="174.0" r="5.60"/><circle cx="364.2" cy="171.7" r="5.60"/><circle cx="366.0" cy="173.0" r="5.60"/><circle cx="367.5" cy="172.0" r="5.60"/><circle cx="369.2" cy="171.2" r="5.60"/><circle cx="370.4" cy="171.4" r="5.60"/><circle cx="371.8" cy="170.7" r="5.60"/><circle cx="372.7" cy="170.3" r="5.60"/><circle cx="374.1" cy="170.1" r="5.60"/><circle cx="376.6" cy="168.8" r="5.60"/><circle cx="376.0" cy="168.4" r="5.60"/><circle cx="378.3" cy="168.5" r="5.60"/><circle cx="379.9" cy="167.3" r="5.60"/><circle cx="380.5" cy="167.6" r="5.60"/><circle cx="381.7" cy="167.0" r="5.60"/><circle cx="383.3" cy="166.4" r="5.60"/><circle cx="385.0" cy="165.9" r="5.60"/><circle cx="386.4" cy="164.8" r="5.60"/><circle cx="387.5" cy="164.7" r="5.60"/><circle cx="388.8" cy="164.7" r="5.60"/><circle cx="389.9" cy="163.4" r="5.60"/><circle cx="391.0" cy="163.1" r="5.60"/><circle cx="392.9" cy="162.4" r="5.60"/><circle cx="394.4" cy="162.4" r="5.60"/><circle cx="395.2" cy="161.3" r="5.60"/><circle cx="396.7" cy="161.6" r="5.60"/><circle cx="397.2" cy="161.4" r="5.60"/><circle cx="399.9" cy="160.5" r="5.60"/><circle cx="400.7" cy="160.9" r="5.60"/><circle cx="402.3" cy="159.1" r="5.60"/><circle cx="403.2" cy="159.0" r="5.60"/><circle cx="404.4" cy="157.6" r="5.60"/><circle cx="406.1" cy="157.8" r="5.60"/><circle cx="407.2" cy="157.6" r="5.60"/><circle cx="408.8" cy="157.1" r="5.60"/><circle cx="409.5" cy="156.9" r="5.60"/><circle cx="411.7" cy="156.2" r="5.60"/><circle cx="413.0" cy="155.9" r="5.60"/><circle cx="413.5" cy="156.0" r="5.60"/><circle cx="414.8" cy="155.3" r="5.60"/><circle cx="416.2" cy="154.7" r="5.60"/><circle cx="417.2" cy="153.7" r="5.60"/><circle cx="419.5" cy="153.7" r="5.60"/><circle cx="420.4" cy="153.0" r="5.60"/><circle cx="421.9" cy="152.2" r="5.60"/><circle cx="422.6" cy="152.2" r="5.60"/><circle cx="424.1" cy="151.6" r="5.60"/><circle cx="425.7" cy="151.3" r="5.60"/><circle cx="427.0" cy="151.6" r="5.60"/><circle cx="428.8" cy="151.0" r="5.60"/><circle cx="429.7" cy="149.9" r="5.60"/><circle cx="430.5" cy="149.5" r="5.60"/><circle cx="431.5" cy="149.0" r="5.60"/><circle cx="434.0" cy="149.5" r="5.60"/><circle cx="435.4" cy="148.0" r="5.60"/><circle cx="436.6" cy="147.7" r="5.60"/><circle cx="438.0" cy="147.5" r="5.60"/><circle cx="439.4" cy="148.2" r="5.60"/><circle cx="440.8" cy="147.6" r="5.60"/><circle cx="441.8" cy="146.2" r="5.60"/><circle cx="443.6" cy="146.6" r="5.60"/><circle cx="444.2" cy="145.5" r="5.60"/><circle cx="445.2" cy="145.0" r="5.60"/><circle cx="447.4" cy="144.6" r="5.60"/><circle cx="448.2" cy="143.7" r="5.60"/><circle cx="449.9" cy="144.1" r="5.60"/><circle cx="451.3" cy="143.5" r="5.60"/><circle cx="451.9" cy="143.7" r="5.60"/><circle cx="453.7" cy="142.5" r="5.60"/><circle cx="455.4" cy="141.3" r="5.60"/><circle cx="456.4" cy="141.7" r="5.60"/><circle cx="457.9" cy="141.9" r="5.60"/><circle cx="459.3" cy="140.2" r="5.60"/><circle cx="460.3" cy="140.7" r="5.60"/><circle cx="461.9" cy="139.7" r="5.60"/><circle cx="462.5" cy="140.0" r="5.60"/><circle cx="464.6" cy="139.4" r="5.60"/><circle cx="465.2" cy="139.7" r="5.60"/><circle cx="466.0" cy="138.5" r="5.60"/><circle cx="469.4" cy="138.2" r="5.60"/><circle cx="470.0" cy="137.4" r="5.60"/><circle cx="471.8" cy="136.9" r="5.60"/><circle cx="472.7" cy="137.1" r="5.60"/><circle cx="473.5" cy="137.0" r="5.60"/><circle cx="474.7" cy="136.0" r="5.60"/><circle cx="476.6" cy="135.7" r="5.60"/><circle cx="478.1" cy="135.9" r="5.60"/><circle cx="479.2" cy="134.9" r="5.60"/><circle cx="480.4" cy="134.6" r="5.60"/><circle cx="482.3" cy="134.3" r="5.60"/><circle cx="483.5" cy="134.0" r="5.60"/><circle cx="484.4" cy="134.0" r="5.60"/><circle cx="485.6" cy="133.3" r="5.60"/><circle cx="488.0" cy="132.5" r="5.60"/><circle cx="488.7" cy="131.9" r="5.60"/><circle cx="489.9" cy="131.6" r="5.60"/><circle cx="491.3" cy="131.6" r="5.60"/><circle cx="492.9" cy="132.1" r="5.60"/><circle cx="494.3" cy="131.3" r="5.60"/><circle cx="495.5" cy="130.6" r="5.60"/><circle cx="496.5" cy="129.6" r="5.60"/><circle cx="498.2" cy="130.6" r="5.60"/><circle cx="499.8" cy="129.4" r="5.60"/><circle cx="501.6" cy="129.1" r="5.60"/><circle cx="502.0" cy="128.4" r="5.60"/><circle cx="503.2" cy="128.5" r="5.60"/><circle cx="505.8" cy="128.1" r="5.60"/><circle cx="505.9" cy="127.6" r="5.60"/><circle cx="507.6" cy="126.8" r="5.60"/><circle cx="509.1" cy="127.4" r="5.60"/><circle cx="510.5" cy="127.0" r="5.60"/><circle cx="511.2" cy="125.8" r="5.60"/><circle cx="513.6" cy="126.5" r="5.60"/><circle cx="513.9" cy="125.8" r="5.60"/><circle cx="515.8" cy="125.6" r="5.60"/><circle cx="517.3" cy="124.9" r="5.60"/><circle cx="518.6" cy="124.8" r="5.60"/><circle cx="519.9" cy="123.6" r="5.60"/><circle cx="520.1" cy="123.7" r="5.60"/><circle cx="522.0" cy="123.8" r="5.60"/><circle cx="524.2" cy="123.4" r="5.60"/><circle cx="525.2" cy="123.0" r="5.60"/><circle cx="527.1" cy="122.3" r="5.60"/><circle cx="528.4" cy="122.5" r="5.60"/><circle cx="529.5" cy="122.5" r="5.60"/><circle cx="530.4" cy="121.9" r="5.60"/><circle cx="531.7" cy="120.9" r="5.60"/><circle cx="533.0" cy="121.0" r="5.60"/><circle cx="534.4" cy="120.5" r="5.60"/><circle cx="535.7" cy="120.6" r="5.60"/><circle cx="538.2" cy="119.9" r="5.60"/><circle cx="539.5" cy="119.7" r="5.60"/><circle cx="541.1" cy="119.1" r="5.60"/><circle cx="541.0" cy="119.4" r="5.60"/><circle cx="542.9" cy="118.0" r="5.60"/><circle cx="544.0" cy="117.4" r="5.60"/><circle cx="545.6" cy="117.3" r="5.60"/><circle cx="547.6" cy="117.7" r="5.60"/><circle cx="547.7" cy="116.5" r="5.60"/><circle cx="549.5" cy="115.9" r="5.60"/><circle cx="551.0" cy="116.4" r="5.60"/><circle cx="552.1" cy="115.8" r="5.60"/><circle cx="554.0" cy="116.3" r="5.60"/><circle cx="555.8" cy="115.4" r="5.60"/><circle cx="556.9" cy="114.8" r="5.60"/><circle cx="558.1" cy="114.3" r="5.60"/><circle cx="559.5" cy="113.9" r="5.60"/><circle cx="560.2" cy="114.1" r="5.60"/><circle cx="562.2" cy="113.2" r="5.60"/><circle cx="563.1" cy="113.5" r="5.60"/><circle cx="564.8" cy="112.8" r="5.60"/><circle cx="566.1" cy="112.7" r="5.60"/><circle cx="568.0" cy="112.7" r="5.60"/><circle cx="568.3" cy="111.2" r="5.60"/><circle cx="570.2" cy="112.3" r="5.60"/><circle cx="571.6" cy="111.8" r="5.60"/><circle cx="572.7" cy="110.6" r="5.60"/><circle cx="574.5" cy="110.9" r="5.60"/><circle cx="575.9" cy="110.0" r="5.60"/><circle cx="577.0" cy="110.0" r="5.60"/><circle cx="578.6" cy="109.7" r="5.60"/><circle cx="579.4" cy="109.3" r="5.60"/><circle cx="581.6" cy="109.3" r="5.60"/><circle cx="582.1" cy="108.6" r="5.60"/><circle cx="583.4" cy="109.2" r="5.60"/><circle cx="584.4" cy="108.0" r="5.60"/><circle cx="586.8" cy="108.5" r="5.60"/><circle cx="587.8" cy="108.0" r="5.60"/><circle cx="589.6" cy="107.8" r="5.60"/><circle cx="590.6" cy="107.8" r="5.60"/><circle cx="592.1" cy="107.4" r="5.60"/><circle cx="592.9" cy="106.9" r="5.60"/><circle cx="594.2" cy="105.6" r="5.60"/><circle cx="596.3" cy="105.6" r="5.60"/><circle cx="597.6" cy="105.2" r="5.60"/><circle cx="599.5" cy="105.3" r="5.60"/><circle cx="599.7" cy="105.1" r="5.60"/><circle cx="601.9" cy="104.4" r="5.60"/><circle cx="603.1" cy="105.2" r="5.60"/><circle cx="604.6" cy="104.1" r="5.60"/><circle cx="605.4" cy="104.0" r="5.60"/><circle cx="606.4" cy="102.2" r="5.60"/><circle cx="608.1" cy="102.7" r="5.60"/><circle cx="610.5" cy="102.9" r="5.60"/><circle cx="610.7" cy="102.1" r="5.60"/><circle cx="612.7" cy="101.9" r="5.60"/><circle cx="613.6" cy="101.9" r="5.60"/><circle cx="615.3" cy="101.7" r="5.60"/><circle cx="616.6" cy="101.8" r="5.60"/><circle cx="618.6" cy="100.4" r="5.60"/><circle cx="620.4" cy="100.8" r="5.60"/><circle cx="621.2" cy="100.1" r="5.60"/><circle cx="622.2" cy="100.2" r="5.60"/><circle cx="623.5" cy="100.2" r="5.60"/><circle cx="625.1" cy="99.1" r="5.60"/><circle cx="626.1" cy="99.5" r="5.60"/><circle cx="627.8" cy="98.8" r="5.60"/><circle cx="628.8" cy="98.6" r="5.60"/><circle cx="629.8" cy="97.8" r="5.60"/><circle cx="632.3" cy="97.9" r="5.60"/><circle cx="633.1" cy="97.4" r="5.60"/><circle cx="634.9" cy="98.1" r="5.60"/><circle cx="635.7" cy="97.4" r="5.60"/><circle cx="636.8" cy="97.6" r="5.60"/><circle cx="638.9" cy="96.2" r="5.60"/><circle cx="640.4" cy="96.4" r="5.60"/><circle cx="641.4" cy="96.1" r="5.60"/><circle cx="642.3" cy="95.5" r="5.60"/><circle cx="644.2" cy="95.4" r="5.60"/><circle cx="645.0" cy="95.9" r="5.60"/><circle cx="646.6" cy="94.6" r="5.60"/><circle cx="647.8" cy="94.8" r="5.60"/><circle cx="649.8" cy="94.4" r="5.60"/><circle cx="651.2" cy="93.4" r="5.60"/><circle cx="652.0" cy="93.5" r="5.60"/><circle cx="653.6" cy="93.6" r="5.60"/><circle cx="654.1" cy="94.4" r="5.60"/><circle cx="656.0" cy="93.0" r="5.60"/><circle cx="658.0" cy="92.9" r="5.60"/><circle cx="659.1" cy="91.1" r="5.60"/><circle cx="660.0" cy="92.4" r="5.60"/><circle cx="661.4" cy="91.5" r="5.60"/><circle cx="662.3" cy="92.2" r="5.60"/><circle cx="664.8" cy="91.2" r="5.60"/><circle cx="665.9" cy="91.3" r="5.60"/><circle cx="666.9" cy="91.1" r="5.60"/><circle cx="668.9" cy="91.2" r="5.60"/><circle cx="670.6" cy="90.9" r="5.60"/><circle cx="671.3" cy="90.9" r="5.60"/><circle cx="672.7" cy="90.0" r="5.60"/><circle cx="674.8" cy="90.2" r="5.60"/><circle cx="675.7" cy="90.5" r="5.60"/><circle cx="676.6" cy="90.3" r="5.60"/><circle cx="678.7" cy="89.8" r="5.60"/><circle cx="680.0" cy="89.4" r="5.60"/><circle cx="680.4" cy="89.4" r="5.60"/><circle cx="682.3" cy="89.7" r="5.60"/><circle cx="684.1" cy="89.0" r="5.60"/><circle cx="685.5" cy="89.6" r="5.60"/><circle cx="687.3" cy="89.1" r="5.60"/><circle cx="688.4" cy="88.6" r="5.60"/><circle cx="689.6" cy="88.8" r="5.60"/><circle cx="690.9" cy="88.6" r="5.60"/><circle cx="691.9" cy="87.6" r="5.60"/><circle cx="693.1" cy="87.9" r="5.60"/><circle cx="695.7" cy="88.4" r="5.60"/><circle cx="696.2" cy="87.2" r="5.60"/><circle cx="698.3" cy="87.8" r="5.60"/><circle cx="698.8" cy="87.9" r="5.60"/><circle cx="700.8" cy="87.9" r="5.60"/><circle cx="702.3" cy="87.6" r="5.60"/><circle cx="703.6" cy="86.7" r="5.60"/><circle cx="704.8" cy="86.6" r="5.60"/><circle cx="706.6" cy="86.4" r="5.60"/><circle cx="707.1" cy="86.9" r="5.60"/><circle cx="709.5" cy="87.0" r="5.60"/><circle cx="710.9" cy="85.7" r="5.60"/><circle cx="711.6" cy="85.9" r="5.60"/><circle cx="713.3" cy="85.2" r="5.60"/><circle cx="714.7" cy="86.0" r="5.60"/><circle cx="715.7" cy="85.8" r="5.60"/><circle cx="717.9" cy="85.6" r="5.60"/><circle cx="719.3" cy="85.8" r="5.60"/><circle cx="720.4" cy="85.5" r="5.60"/><circle cx="721.5" cy="85.7" r="5.60"/><circle cx="722.8" cy="84.7" r="5.60"/><circle cx="724.7" cy="84.6" r="5.60"/><circle cx="726.0" cy="85.2" r="5.60"/><circle cx="727.2" cy="84.6" r="5.60"/><circle cx="729.0" cy="84.8" r="5.60"/><circle cx="729.4" cy="83.8" r="5.60"/><circle cx="731.9" cy="84.3" r="5.60"/><circle cx="731.9" cy="83.5" r="5.60"/><circle cx="734.2" cy="83.5" r="5.60"/><circle cx="735.7" cy="83.8" r="5.60"/><circle cx="737.1" cy="83.2" r="5.60"/><circle cx="738.6" cy="84.3" r="5.60"/><circle cx="739.4" cy="83.9" r="5.60"/><circle cx="741.5" cy="83.5" r="5.60"/><circle cx="742.5" cy="82.6" r="5.60"/><circle cx="743.6" cy="83.3" r="5.60"/><circle cx="745.7" cy="83.3" r="5.60"/><circle cx="747.1" cy="83.1" r="5.60"/><circle cx="747.9" cy="82.1" r="5.60"/><circle cx="749.6" cy="82.6" r="5.60"/><circle cx="750.9" cy="81.7" r="5.60"/><circle cx="752.1" cy="81.6" r="5.60"/><circle cx="753.7" cy="81.6" r="5.60"/><circle cx="755.0" cy="82.0" r="5.60"/><circle cx="756.5" cy="82.3" r="5.60"/><circle cx="757.4" cy="80.8" r="5.60"/><circle cx="759.6" cy="82.1" r="5.60"/><circle cx="761.2" cy="81.5" r="5.60"/><circle cx="762.3" cy="81.3" r="5.60"/><circle cx="762.9" cy="80.9" r="5.60"/><circle cx="765.0" cy="80.7" r="5.60"/><circle cx="767.0" cy="80.2" r="5.60"/><circle cx="767.4" cy="81.1" r="5.60"/><circle cx="768.8" cy="80.0" r="5.60"/><circle cx="769.8" cy="80.0" r="5.60"/><circle cx="772.4" cy="80.4" r="5.60"/><circle cx="773.4" cy="79.8" r="5.60"/><circle cx="774.9" cy="79.9" r="5.60"/><circle cx="775.6" cy="79.6" r="5.60"/><circle cx="777.4" cy="80.1" r="5.60"/><circle cx="778.7" cy="79.7" r="5.60"/><circle cx="780.9" cy="79.0" r="5.60"/><circle cx="781.0" cy="79.6" r="5.60"/><circle cx="783.1" cy="79.0" r="5.60"/><circle cx="784.4" cy="78.7" r="5.60"/><circle cx="785.9" cy="78.6" r="5.60"/><circle cx="787.4" cy="78.1" r="5.60"/><circle cx="788.2" cy="78.5" r="5.60"/><circle cx="789.7" cy="78.6" r="5.60"/><circle cx="791.3" cy="77.9" r="5.60"/><circle cx="792.8" cy="77.8" r="5.60"/><circle cx="793.4" cy="77.4" r="5.60"/><circle cx="795.1" cy="77.5" r="5.60"/><circle cx="796.9" cy="78.0" r="5.60"/><circle cx="798.5" cy="78.2" r="5.60"/><circle cx="800.1" cy="77.2" r="5.60"/><circle cx="801.7" cy="77.6" r="5.60"/><circle cx="802.2" cy="77.1" r="5.60"/><circle cx="804.2" cy="76.9" r="5.60"/><circle cx="805.6" cy="76.8" r="5.60"/><circle cx="806.9" cy="76.3" r="5.60"/><circle cx="808.1" cy="76.1" r="5.60"/><circle cx="809.6" cy="75.4" r="5.60"/><circle cx="810.9" cy="76.4" r="5.60"/><circle cx="812.4" cy="75.7" r="5.60"/><circle cx="813.7" cy="75.2" r="5.60"/><circle cx="814.6" cy="75.2" r="5.60"/><circle cx="816.2" cy="75.6" r="5.60"/><circle cx="817.3" cy="75.4" r="5.60"/><circle cx="818.5" cy="74.5" r="5.60"/><circle cx="820.5" cy="75.1" r="5.60"/><circle cx="821.6" cy="73.6" r="5.60"/><circle cx="823.4" cy="74.3" r="5.60"/><circle cx="824.2" cy="73.7" r="5.60"/><circle cx="825.7" cy="74.0" r="5.60"/><circle cx="827.7" cy="73.2" r="5.60"/></g>
<path d="M223.9 246.0L224.7 245.5L225.5 244.9L226.4 244.4L227.2 243.9L228.1 243.3L228.9 242.8L229.7 242.2L230.6 241.7L231.4 241.2L232.3 240.6L233.1 240.1L233.9 239.6L234.8 239.0L235.6 238.5L236.5 238.0L237.3 237.4L238.2 236.9L239.0 236.4L239.9 235.9L240.7 235.3L241.5 234.8L242.4 234.3L243.2 233.8L244.1 233.2L244.9 232.7L245.8 232.2L246.6 231.7L247.5 231.1L248.3 230.6L249.2 230.1L250.0 229.6L250.9 229.1L251.7 228.6L252.6 228.0L253.5 227.5L254.3 227.0L255.2 226.5L256.0 226.0L256.9 225.5L257.7 225.0L258.6 224.5L259.4 224.0L260.3 223.5L261.2 222.9L262.0 222.4L262.9 221.9L263.7 221.4L264.6 220.9L265.5 220.4L266.3 219.9L267.2 219.4L268.1 218.9L268.9 218.5L269.8 218.0L270.6 217.5L271.5 217.0L272.4 216.5L273.2 216.0L274.1 215.5L275.0 215.0L275.8 214.5L276.7 214.0L277.6 213.6L278.4 213.1L279.3 212.6L280.2 212.1L281.1 211.6L281.9 211.2L282.8 210.7L283.7 210.2L284.5 209.7L285.4 209.3L286.3 208.8L287.2 208.3L288.0 207.8L288.9 207.4L289.8 206.9L290.7 206.4L291.6 206.0L292.4 205.5L293.3 205.0L294.2 204.6L295.1 204.1L296.0 203.7L296.8 203.2L297.7 202.8L298.6 202.3L299.5 201.9L300.4 201.4L301.3 200.9L302.1 200.5L303.0 200.1L303.9 199.6L304.8 199.2L305.7 198.7L306.6 198.3L307.5 197.8L308.4 197.4L309.2 197.0L310.1 196.5L311.0 196.1L311.9 195.7L312.8 195.2L313.7 194.8L314.6 194.4L315.5 193.9L316.4 193.5L317.3 193.1L318.2 192.7L319.1 192.2L320.0 191.8L320.9 191.4L321.8 191.0L322.7 190.6L323.6 190.2L324.5 189.7L325.4 189.3L326.3 188.9L327.2 188.5L328.1 188.1L329.0 187.7L329.9 187.3L330.8 186.9L331.7 186.5L332.6 186.1L333.5 185.7L334.4 185.3L335.3 184.9L336.2 184.5L337.2 184.1L338.1 183.8L339.0 183.4L339.9 183.0L340.8 182.6L341.7 182.2L342.6 181.8L343.6 181.5L344.5 181.1L345.4 180.7L346.3 180.3L347.2 180.0L348.1 179.6L349.1 179.2L350.0 178.8L350.9 178.5L351.8 178.1L352.7 177.8L353.7 177.4L354.6 177.0L355.5 176.7L356.4 176.3L357.4 176.0L358.3 175.6L359.2 175.3L360.1 174.9L361.1 174.5L362.0 174.2L362.9 173.8L363.8 173.5L364.8 173.2L365.7 172.8L366.6 172.5L367.6 172.1L368.5 171.8L369.4 171.4L370.3 171.1L371.3 170.8L372.2 170.4L373.1 170.1L374.1 169.8L375.0 169.4L375.9 169.1L376.9 168.8L377.8 168.4L378.8 168.1L379.7 167.8L380.6 167.5L381.6 167.1L382.5 166.8L383.4 166.5L384.4 166.2L385.3 165.9L386.3 165.5L387.2 165.2L388.1 164.9L389.1 164.6L390.0 164.3L391.0 163.9L391.9 163.6L392.8 163.3L393.8 163.0L394.7 162.7L395.7 162.4L396.6 162.1L397.6 161.8L398.5 161.5L399.4 161.2L400.4 160.8L401.3 160.5L402.3 160.2L403.2 159.9L404.2 159.6L405.1 159.3L406.1 159.0L407.0 158.7L408.0 158.4L408.9 158.1L409.9 157.8L410.8 157.5L411.7 157.2L412.7 156.9L413.6 156.6L414.6 156.3L415.5 156.0L416.5 155.8L417.4 155.5L418.4 155.2L419.3 154.9L420.3 154.6L421.2 154.3L422.2 154.0L423.1 153.7L424.1 153.4L425.0 153.1L426.0 152.8L426.9 152.5L427.9 152.3L428.9 152.0L429.8 151.7L430.8 151.4L431.7 151.1L432.7 150.8L433.6 150.5L434.6 150.3L435.5 150.0L436.5 149.7L437.4 149.4L438.4 149.1L439.3 148.8L440.3 148.5L441.2 148.3L442.2 148.0L443.1 147.7L444.1 147.4L445.1 147.1L446.0 146.8L447.0 146.6L447.9 146.3L448.9 146.0L449.8 145.7L450.8 145.4L451.7 145.2L452.7 144.9L453.6 144.6L454.6 144.3L455.6 144.0L456.5 143.8L457.5 143.5L458.4 143.2L459.4 142.9L460.3 142.7L461.3 142.4L462.2 142.1L463.2 141.8L464.2 141.5L465.1 141.3L466.1 141.0L467.0 140.7L468.0 140.4L468.9 140.2L469.9 139.9L470.9 139.6L471.8 139.4L472.8 139.1L473.7 138.8L474.7 138.5L475.6 138.3L476.6 138.0L477.6 137.7L478.5 137.5L479.5 137.2L480.4 136.9L481.4 136.6L482.3 136.4L483.3 136.1L484.3 135.8L485.2 135.6L486.2 135.3L487.1 135.0L488.1 134.8L489.1 134.5L490.0 134.2L491.0 134.0L491.9 133.7L492.9 133.4L493.8 133.2L494.8 132.9L495.8 132.7L496.7 132.4L497.7 132.1L498.6 131.9L499.6 131.6L500.6 131.3L501.5 131.1L502.5 130.8L503.4 130.6L504.4 130.3L505.4 130.0L506.3 129.8L507.3 129.5L508.3 129.3L509.2 129.0L510.2 128.8L511.1 128.5L512.1 128.2L513.1 128.0L514.0 127.7L515.0 127.5L515.9 127.2L516.9 127.0L517.9 126.7L518.8 126.5L519.8 126.2L520.8 126.0L521.7 125.7L522.7 125.4L523.6 125.2L524.6 124.9L525.6 124.7L526.5 124.4L527.5 124.2L528.5 123.9L529.4 123.7L530.4 123.5L531.3 123.2L532.3 123.0L533.3 122.7L534.2 122.5L535.2 122.2L536.2 122.0L537.1 121.7L538.1 121.5L539.0 121.2L540.0 121.0L541.0 120.8L541.9 120.5L542.9 120.3L543.9 120.0L544.8 119.8L545.8 119.5L546.8 119.3L547.7 119.1L548.7 118.8L549.7 118.6L550.6 118.4L551.6 118.1L552.6 117.9L553.5 117.6L554.5 117.4L555.5 117.2L556.4 116.9L557.4 116.7L558.3 116.5L559.3 116.2L560.3 116.0L561.2 115.8L562.2 115.5L563.2 115.3L564.1 115.1L565.1 114.8L566.1 114.6L567.0 114.4L568.0 114.2L569.0 113.9L569.9 113.7L570.9 113.5L571.9 113.2L572.8 113.0L573.8 112.8L574.8 112.6L575.7 112.3L576.7 112.1L577.7 111.9L578.6 111.7L579.6 111.5L580.6 111.2L581.6 111.0L582.5 110.8L583.5 110.6L584.5 110.3L585.4 110.1L586.4 109.9L587.4 109.7L588.3 109.5L589.3 109.3L590.3 109.0L591.2 108.8L592.2 108.6L593.2 108.4L594.1 108.2L595.1 108.0L596.1 107.7L597.1 107.5L598.0 107.3L599.0 107.1L600.0 106.9L600.9 106.7L601.9 106.5L602.9 106.3L603.8 106.1L604.8 105.9L605.8 105.6L606.8 105.4L607.7 105.2L608.7 105.0L609.7 104.8L610.6 104.6L611.6 104.4L612.6 104.2L613.5 104.0L614.5 103.8L615.5 103.6L616.5 103.4L617.4 103.2L618.4 103.0L619.4 102.8L620.3 102.6L621.3 102.4L622.3 102.2L623.3 102.0L624.2 101.8L625.2 101.6L626.2 101.4L627.2 101.2L628.1 101.0L629.1 100.8L630.1 100.6L631.0 100.4L632.0 100.2L633.0 100.0L634.0 99.9L634.9 99.7L635.9 99.5L636.9 99.3L637.9 99.1L638.8 98.9L639.8 98.7L640.8 98.5L641.8 98.3L642.7 98.1L643.7 98.0L644.7 97.8L645.7 97.6L646.6 97.4L647.6 97.2L648.6 97.0L649.6 96.9L650.5 96.7L651.5 96.5L652.5 96.3L653.5 96.1L654.4 95.9L655.4 95.8L656.4 95.6L657.4 95.4L658.3 95.2L659.3 95.1L660.3 94.9L661.3 94.7L662.2 94.5L663.2 94.4L664.2 94.2L665.2 94.0L666.1 93.8L667.1 93.7L668.1 93.5L669.1 93.3L670.1 93.1L671.0 93.0L672.0 92.8L673.0 92.6L674.0 92.5L674.9 92.3L675.9 92.1L676.9 92.0L677.9 91.8L678.9 91.6L679.8 91.5L680.8 91.3L681.8 91.1L682.8 91.0L683.7 90.8L684.7 90.6L685.7 90.5L686.7 90.3L687.7 90.2L688.6 90.0L689.6 89.8L690.6 89.7L691.6 89.5L692.6 89.4L693.5 89.2L694.5 89.1L695.5 88.9L696.5 88.7L697.5 88.6L698.4 88.4L699.4 88.3L700.4 88.1L701.4 88.0L702.4 87.8L703.4 87.7L704.3 87.5L705.3 87.4L706.3 87.2L707.3 87.1L708.3 86.9L709.2 86.8L710.2 86.6L711.2 86.5L712.2 86.3L713.2 86.2L714.2 86.0L715.1 85.9L716.1 85.8L717.1 85.6L718.1 85.5L719.1 85.3L720.1 85.2L721.0 85.1L722.0 84.9L723.0 84.8L724.0 84.6L725.0 84.5L726.0 84.4L727.0 84.2L727.9 84.1L728.9 83.9L729.9 83.8L730.9 83.7L731.9 83.5L732.9 83.4L733.8 83.3L734.8 83.1L735.8 83.0L736.8 82.9L737.8 82.7L738.8 82.6L739.8 82.5L740.7 82.4L741.7 82.2L742.7 82.1L743.7 82.0L744.7 81.8L745.7 81.7L746.7 81.6L747.7 81.4L748.6 81.3L749.6 81.2L750.6 81.1L751.6 80.9L752.6 80.8L753.6 80.7L754.6 80.6L755.5 80.4L756.5 80.3L757.5 80.2L758.5 80.1L759.5 79.9L760.5 79.8L761.5 79.7L762.5 79.6L763.4 79.4L764.4 79.3L765.4 79.2L766.4 79.1L767.4 78.9L768.4 78.8L769.4 78.7L770.4 78.6L771.3 78.4L772.3 78.3L773.3 78.2L774.3 78.1L775.3 78.0L776.3 77.8L777.3 77.7L778.3 77.6L779.2 77.5L780.2 77.3L781.2 77.2L782.2 77.1L783.2 77.0L784.2 76.9L785.2 76.7L786.1 76.6L787.1 76.5L788.1 76.4L789.1 76.2L790.1 76.1L791.1 76.0L792.1 75.9L793.1 75.7L794.0 75.6L795.0 75.5L796.0 75.4L797.0 75.3L798.0 75.1L799.0 75.0L800.0 74.9L801.0 74.8L801.9 74.6L802.9 74.5L803.9 74.4L804.9 74.3L805.9 74.1L806.9 74.0L807.9 73.9L808.8 73.8L809.8 73.6L810.8 73.5L811.8 73.4L812.8 73.2L813.8 73.1L814.8 73.0L815.7 72.9L816.7 72.7L817.7 72.6L818.7 72.5L819.7 72.3L820.7 72.2L821.6 72.1L822.6 72.0L823.6 71.8L824.6 71.7L825.6 71.6L826.6 71.4L827.6 71.3L828.5 71.2" fill="none" stroke="#e41e1e" stroke-width="4.00" stroke-linejoin="round" stroke-linecap="butt" />
<rect x="102.5" y="11.0" width="731.1" height="537.1" fill="none" stroke="#111" stroke-width="2.50"/>
<circle cx="833.3" cy="446.9" r="4" fill="#fff"/><circle cx="832" cy="72.2" r="4" fill="#fff" stroke="#555" stroke-width="0.8"/>
<line x1="102.5" y1="494.4" x2="109.5" y2="494.4" stroke="#111" stroke-width="2.50"/>
<line x1="102.5" y1="440.7" x2="113.5" y2="440.7" stroke="#111" stroke-width="2.50"/>
<line x1="102.5" y1="387.0" x2="109.5" y2="387.0" stroke="#111" stroke-width="2.50"/>
<line x1="102.5" y1="333.3" x2="113.5" y2="333.3" stroke="#111" stroke-width="2.50"/>
<line x1="102.5" y1="279.6" x2="109.5" y2="279.6" stroke="#111" stroke-width="2.50"/>
<line x1="102.5" y1="225.8" x2="113.5" y2="225.8" stroke="#111" stroke-width="2.50"/>
<line x1="102.5" y1="172.1" x2="109.5" y2="172.1" stroke="#111" stroke-width="2.50"/>
<line x1="102.5" y1="118.4" x2="113.5" y2="118.4" stroke="#111" stroke-width="2.50"/>
<line x1="102.5" y1="64.7" x2="109.5" y2="64.7" stroke="#111" stroke-width="2.50"/>
<line x1="833.6" y1="503.3" x2="826.6" y2="503.3" stroke="#111" stroke-width="2.50"/>
<line x1="833.6" y1="458.6" x2="822.6" y2="458.6" stroke="#111" stroke-width="2.50"/>
<line x1="833.6" y1="413.8" x2="826.6" y2="413.8" stroke="#111" stroke-width="2.50"/>
<line x1="833.6" y1="369.1" x2="822.6" y2="369.1" stroke="#111" stroke-width="2.50"/>
<line x1="833.6" y1="324.3" x2="826.6" y2="324.3" stroke="#111" stroke-width="2.50"/>
<line x1="833.6" y1="279.6" x2="822.6" y2="279.6" stroke="#111" stroke-width="2.50"/>
<line x1="833.6" y1="234.8" x2="826.6" y2="234.8" stroke="#111" stroke-width="2.50"/>
<line x1="833.6" y1="190.0" x2="822.6" y2="190.0" stroke="#111" stroke-width="2.50"/>
<line x1="833.6" y1="145.3" x2="826.6" y2="145.3" stroke="#111" stroke-width="2.50"/>
<line x1="833.6" y1="100.5" x2="822.6" y2="100.5" stroke="#111" stroke-width="2.50"/>
<line x1="833.6" y1="55.8" x2="826.6" y2="55.8" stroke="#111" stroke-width="2.50"/>
<line x1="163.4" y1="548.1" x2="163.4" y2="541.1" stroke="#111" stroke-width="2.50"/>
<line x1="224.3" y1="548.1" x2="224.3" y2="537.1" stroke="#111" stroke-width="2.50"/>
<line x1="285.3" y1="548.1" x2="285.3" y2="541.1" stroke="#111" stroke-width="2.50"/>
<line x1="346.2" y1="548.1" x2="346.2" y2="537.1" stroke="#111" stroke-width="2.50"/>
<line x1="407.1" y1="548.1" x2="407.1" y2="541.1" stroke="#111" stroke-width="2.50"/>
<line x1="468.1" y1="548.1" x2="468.1" y2="537.1" stroke="#111" stroke-width="2.50"/>
<line x1="529.0" y1="548.1" x2="529.0" y2="541.1" stroke="#111" stroke-width="2.50"/>
<line x1="589.9" y1="548.1" x2="589.9" y2="537.1" stroke="#111" stroke-width="2.50"/>
<line x1="650.8" y1="548.1" x2="650.8" y2="541.1" stroke="#111" stroke-width="2.50"/>
<line x1="711.8" y1="548.1" x2="711.8" y2="537.1" stroke="#111" stroke-width="2.50"/>
<line x1="772.7" y1="548.1" x2="772.7" y2="541.1" stroke="#111" stroke-width="2.50"/>
<text x="89.5" y="556.4" font-size="26.0" text-anchor="end" fill="#111" >0</text>
<text x="89.5" y="449.0" font-size="26.0" text-anchor="end" fill="#111" >1</text>
<text x="89.5" y="341.6" font-size="26.0" text-anchor="end" fill="#111" >2</text>
<text x="89.5" y="234.1" font-size="26.0" text-anchor="end" fill="#111" >3</text>
<text x="89.5" y="126.7" font-size="26.0" text-anchor="end" fill="#111" >4</text>
<text x="89.5" y="19.3" font-size="26.0" text-anchor="end" fill="#111" >5</text>
<text x="846.0" y="556.4" font-size="26.0" text-anchor="start" fill="#111" >0</text>
<text x="846.0" y="466.9" font-size="26.0" text-anchor="start" fill="#111" >200</text>
<text x="846.0" y="377.4" font-size="26.0" text-anchor="start" fill="#111" >400</text>
<text x="846.0" y="287.9" font-size="26.0" text-anchor="start" fill="#111" >600</text>
<text x="846.0" y="198.3" font-size="26.0" text-anchor="start" fill="#111" >800</text>
<text x="846.0" y="108.8" font-size="26.0" text-anchor="start" fill="#111" >1000</text>
<text x="846.0" y="19.3" font-size="26.0" text-anchor="start" fill="#111" >1200</text>
<text x="102.5" y="581.5" font-size="26.0" text-anchor="middle" fill="#111" >0</text>
<text x="224.3" y="581.5" font-size="26.0" text-anchor="middle" fill="#111" >50</text>
<text x="346.2" y="581.5" font-size="26.0" text-anchor="middle" fill="#111" >100</text>
<text x="468.1" y="581.5" font-size="26.0" text-anchor="middle" fill="#111" >150</text>
<text x="589.9" y="581.5" font-size="26.0" text-anchor="middle" fill="#111" >200</text>
<text x="711.8" y="581.5" font-size="26.0" text-anchor="middle" fill="#111" >250</text>
<text x="833.6" y="581.5" font-size="26.0" text-anchor="middle" fill="#111" >300</text>
<text x="468.0" y="624.3" font-size="26.0" text-anchor="middle" fill="#111" >T (K)</text>
<text transform="translate(64.3,279.7) rotate(-90)" font-size="26.5" text-anchor="middle" fill="#111"><tspan font-family="Liberation Serif" font-size="27">&#967;</tspan> (10<tspan dy="-11" font-size="17">-3</tspan><tspan dy="11"> emu / mol)</tspan></text>
<text transform="translate(939,275.6) rotate(-90)" font-size="26.5" text-anchor="middle" fill="#111"><tspan font-family="Liberation Serif" font-size="27">&#967;</tspan><tspan dy="-11" font-size="17">-1</tspan><tspan dy="11"> (mol / emu)</tspan></text>
<g fill="none" stroke="#111" stroke-width="1.60"><circle cx="175.8" cy="1010.5" r="4.50"/><circle cx="177.3" cy="1015.3" r="4.50"/><circle cx="178.8" cy="1020.1" r="4.50"/><circle cx="180.5" cy="1024.8" r="4.50"/><circle cx="182.2" cy="1029.5" r="4.50"/><circle cx="184.2" cy="1034.1" r="4.50"/><circle cx="186.4" cy="1038.6" r="4.50"/><circle cx="188.9" cy="1042.9" r="4.50"/><circle cx="191.7" cy="1047.0" r="4.50"/><circle cx="194.8" cy="1050.9" r="4.50"/><circle cx="198.4" cy="1054.4" r="4.50"/><circle cx="202.3" cy="1057.5" r="4.50"/><circle cx="205.5" cy="1059.6" r="4.50"/><circle cx="208.8" cy="1061.4" r="4.50"/><circle cx="212.3" cy="1063.0" r="4.50"/><circle cx="215.8" cy="1064.3" r="4.50"/><circle cx="219.5" cy="1065.3" r="4.50"/><circle cx="223.2" cy="1066.0" r="4.50"/><circle cx="227.0" cy="1066.4" r="4.50"/><circle cx="230.8" cy="1066.5" r="4.50"/><circle cx="234.6" cy="1066.3" r="4.50"/><circle cx="238.3" cy="1065.6" r="4.50"/><circle cx="242.0" cy="1064.6" r="4.50"/><circle cx="245.5" cy="1063.1" r="4.50"/><circle cx="248.8" cy="1061.2" r="4.50"/><circle cx="251.9" cy="1059.0" r="4.50"/><circle cx="254.8" cy="1056.6" r="4.50"/><circle cx="257.5" cy="1053.9" r="4.50"/><circle cx="260.1" cy="1051.2" r="4.50"/><circle cx="262.6" cy="1048.3" r="4.50"/><circle cx="265.2" cy="1045.5" r="4.50"/><circle cx="267.7" cy="1042.6" r="4.50"/><circle cx="270.2" cy="1039.8" r="4.50"/><circle cx="272.9" cy="1037.1" r="4.50"/><circle cx="275.7" cy="1034.6" r="4.50"/><circle cx="278.7" cy="1032.2" r="4.50"/><circle cx="281.9" cy="1030.2" r="4.50"/><circle cx="285.4" cy="1028.7" r="4.50"/><circle cx="289.1" cy="1027.7" r="4.50"/><circle cx="292.8" cy="1027.2" r="4.50"/><circle cx="298.3" cy="1027.5" r="4.50"/><circle cx="303.7" cy="1028.6" r="4.50"/><circle cx="308.8" cy="1030.6" r="4.50"/><circle cx="313.6" cy="1033.3" r="4.50"/><circle cx="317.9" cy="1036.7" r="4.50"/><circle cx="321.8" cy="1040.6" r="4.50"/><circle cx="325.5" cy="1044.7" r="4.50"/><circle cx="328.9" cy="1049.0" r="4.50"/><circle cx="332.4" cy="1053.3" r="4.50"/><circle cx="335.9" cy="1057.5" r="4.50"/><circle cx="339.5" cy="1061.6" r="4.50"/><circle cx="343.2" cy="1065.7" r="4.50"/><circle cx="347.0" cy="1069.6" r="4.50"/><circle cx="350.9" cy="1073.6" r="4.50"/><circle cx="354.7" cy="1077.6" r="4.50"/><circle cx="358.5" cy="1081.5" r="4.50"/><circle cx="362.3" cy="1085.5" r="4.50"/><circle cx="366.3" cy="1089.3" r="4.50"/><circle cx="370.4" cy="1092.9" r="4.50"/><circle cx="374.8" cy="1096.3" r="4.50"/><circle cx="379.4" cy="1099.3" r="4.50"/><circle cx="384.2" cy="1102.0" r="4.50"/><circle cx="389.2" cy="1104.3" r="4.50"/><circle cx="394.2" cy="1106.4" r="4.50"/><circle cx="399.4" cy="1108.3" r="4.50"/><circle cx="404.6" cy="1110.1" r="4.50"/><circle cx="407.6" cy="1111.1" r="4.50"/><circle cx="410.7" cy="1112.1" r="4.50"/><circle cx="413.7" cy="1113.0" r="4.50"/><circle cx="416.8" cy="1114.0" r="4.50"/><circle cx="419.9" cy="1114.9" r="4.50"/><circle cx="422.9" cy="1115.8" r="4.50"/><circle cx="426.0" cy="1116.7" r="4.50"/><circle cx="429.1" cy="1117.6" r="4.50"/><circle cx="432.2" cy="1118.4" r="4.50"/><circle cx="435.3" cy="1119.3" r="4.50"/><circle cx="438.3" cy="1120.1" r="4.50"/><circle cx="441.4" cy="1120.9" r="4.50"/><circle cx="444.6" cy="1121.6" r="4.50"/><circle cx="447.7" cy="1122.4" r="4.50"/><circle cx="450.8" cy="1123.1" r="4.50"/><circle cx="453.9" cy="1123.9" r="4.50"/><circle cx="457.0" cy="1124.6" r="4.50"/><circle cx="460.1" cy="1125.3" r="4.50"/><circle cx="463.3" cy="1125.9" r="4.50"/><circle cx="466.4" cy="1126.6" r="4.50"/><circle cx="469.5" cy="1127.2" r="4.50"/><circle cx="472.7" cy="1127.8" r="4.50"/><circle cx="475.8" cy="1128.5" r="4.50"/><circle cx="479.0" cy="1129.0" r="4.50"/><circle cx="482.1" cy="1129.6" r="4.50"/><circle cx="485.3" cy="1130.2" r="4.50"/><circle cx="488.4" cy="1130.7" r="4.50"/><circle cx="491.6" cy="1131.3" r="4.50"/><circle cx="494.7" cy="1131.8" r="4.50"/><circle cx="497.9" cy="1132.3" r="4.50"/><circle cx="501.0" cy="1132.8" r="4.50"/><circle cx="504.2" cy="1133.2" r="4.50"/><circle cx="507.4" cy="1133.7" r="4.50"/><circle cx="510.5" cy="1134.1" r="4.50"/><circle cx="513.7" cy="1134.6" r="4.50"/><circle cx="516.9" cy="1135.0" r="4.50"/><circle cx="520.1" cy="1135.4" r="4.50"/><circle cx="523.2" cy="1135.8" r="4.50"/><circle cx="526.4" cy="1136.2" r="4.50"/><circle cx="529.6" cy="1136.5" r="4.50"/><circle cx="532.8" cy="1136.9" r="4.50"/><circle cx="536.0" cy="1137.2" r="4.50"/><circle cx="539.1" cy="1137.6" r="4.50"/><circle cx="542.3" cy="1137.9" r="4.50"/><circle cx="545.5" cy="1138.2" r="4.50"/><circle cx="548.7" cy="1138.5" r="4.50"/><circle cx="551.9" cy="1138.8" r="4.50"/><circle cx="555.1" cy="1139.1" r="4.50"/><circle cx="558.3" cy="1139.3" r="4.50"/><circle cx="561.4" cy="1139.6" r="4.50"/><circle cx="564.6" cy="1139.8" r="4.50"/><circle cx="567.8" cy="1140.1" r="4.50"/><circle cx="571.0" cy="1140.3" r="4.50"/><circle cx="574.2" cy="1140.5" r="4.50"/><circle cx="577.4" cy="1140.7" r="4.50"/><circle cx="580.6" cy="1140.9" r="4.50"/><circle cx="583.8" cy="1141.1" r="4.50"/><circle cx="587.0" cy="1141.3" r="4.50"/><circle cx="590.2" cy="1141.5" r="4.50"/><circle cx="593.4" cy="1141.6" r="4.50"/><circle cx="596.6" cy="1141.8" r="4.50"/><circle cx="599.8" cy="1142.0" r="4.50"/><circle cx="603.0" cy="1142.1" r="4.50"/><circle cx="606.2" cy="1142.2" r="4.50"/><circle cx="609.4" cy="1142.4" r="4.50"/><circle cx="612.6" cy="1142.5" r="4.50"/><circle cx="615.8" cy="1142.6" r="4.50"/><circle cx="619.0" cy="1142.7" r="4.50"/><circle cx="622.2" cy="1142.8" r="4.50"/><circle cx="625.4" cy="1143.0" r="4.50"/><circle cx="628.6" cy="1143.0" r="4.50"/><circle cx="631.8" cy="1143.1" r="4.50"/><circle cx="635.0" cy="1143.2" r="4.50"/><circle cx="638.1" cy="1143.3" r="4.50"/><circle cx="641.3" cy="1143.4" r="4.50"/><circle cx="644.5" cy="1143.5" r="4.50"/><circle cx="647.7" cy="1143.5" r="4.50"/><circle cx="650.9" cy="1143.6" r="4.50"/><circle cx="654.1" cy="1143.7" r="4.50"/><circle cx="657.3" cy="1143.7" r="4.50"/><circle cx="660.5" cy="1143.8" r="4.50"/><circle cx="663.7" cy="1143.8" r="4.50"/><circle cx="666.9" cy="1143.9" r="4.50"/><circle cx="670.1" cy="1143.9" r="4.50"/><circle cx="673.3" cy="1144.0" r="4.50"/><circle cx="676.5" cy="1144.0" r="4.50"/><circle cx="679.7" cy="1144.1" r="4.50"/><circle cx="682.9" cy="1144.1" r="4.50"/><circle cx="686.1" cy="1144.2" r="4.50"/><circle cx="689.3" cy="1144.2" r="4.50"/><circle cx="692.5" cy="1144.2" r="4.50"/><circle cx="695.7" cy="1144.3" r="4.50"/><circle cx="698.9" cy="1144.3" r="4.50"/><circle cx="702.1" cy="1144.4" r="4.50"/><circle cx="705.3" cy="1144.4" r="4.50"/><circle cx="708.5" cy="1144.4" r="4.50"/><circle cx="711.7" cy="1144.5" r="4.50"/><circle cx="714.9" cy="1144.5" r="4.50"/><circle cx="718.1" cy="1144.6" r="4.50"/><circle cx="721.3" cy="1144.6" r="4.50"/><circle cx="724.5" cy="1144.6" r="4.50"/><circle cx="727.7" cy="1144.7" r="4.50"/><circle cx="730.9" cy="1144.7" r="4.50"/><circle cx="734.1" cy="1144.8" r="4.50"/><circle cx="737.3" cy="1144.8" r="4.50"/><circle cx="740.5" cy="1144.9" r="4.50"/><circle cx="743.7" cy="1144.9" r="4.50"/><circle cx="746.9" cy="1145.0" r="4.50"/><circle cx="750.1" cy="1145.1" r="4.50"/><circle cx="753.3" cy="1145.1" r="4.50"/><circle cx="756.5" cy="1145.2" r="4.50"/><circle cx="759.7" cy="1145.3" r="4.50"/><circle cx="762.9" cy="1145.3" r="4.50"/><circle cx="766.1" cy="1145.4" r="4.50"/><circle cx="769.3" cy="1145.5" r="4.50"/><circle cx="772.5" cy="1145.6" r="4.50"/><circle cx="775.7" cy="1145.7" r="4.50"/><circle cx="778.9" cy="1145.8" r="4.50"/><circle cx="782.1" cy="1145.9" r="4.50"/><circle cx="785.3" cy="1146.0" r="4.50"/><circle cx="788.5" cy="1146.1" r="4.50"/><circle cx="791.7" cy="1146.3" r="4.50"/><circle cx="794.9" cy="1146.4" r="4.50"/><circle cx="798.1" cy="1146.5" r="4.50"/><circle cx="801.3" cy="1146.7" r="4.50"/><circle cx="804.5" cy="1146.8" r="4.50"/><circle cx="807.7" cy="1147.0" r="4.50"/><circle cx="810.9" cy="1147.1" r="4.50"/><circle cx="814.1" cy="1147.3" r="4.50"/><circle cx="817.3" cy="1147.5" r="4.50"/><circle cx="820.5" cy="1147.7" r="4.50"/><circle cx="823.7" cy="1147.9" r="4.50"/><circle cx="826.9" cy="1148.1" r="4.50"/><circle cx="830.1" cy="1148.3" r="4.50"/></g>
<path d="M176.0 696.8L176.2 697.7L176.5 698.7L176.7 699.6L177.0 700.6L177.3 701.6L177.5 702.5L177.8 703.5L178.1 704.5L178.3 705.4L178.6 706.4L178.8 707.3L179.1 708.3L179.4 709.3L179.6 710.2L179.9 711.2L180.1 712.2L180.4 713.1L180.7 714.1L180.9 715.1L181.2 716.0L181.5 717.0L181.7 717.9L182.0 718.9L182.3 719.9L182.5 720.8L182.8 721.8L183.1 722.8L183.4 723.7L183.6 724.7L183.9 725.6L184.2 726.6L184.5 727.5L184.8 728.5L185.0 729.5L185.3 730.4L185.6 731.4L185.9 732.3L186.2 733.3L186.5 734.2L186.8 735.2L187.1 736.1L187.4 737.1L187.7 738.0L188.0 739.0L188.3 739.9L188.6 740.9L188.9 741.8L189.3 742.7L189.6 743.7L189.9 744.6L190.2 745.6L190.6 746.5L190.9 747.4L191.2 748.4L191.6 749.3L191.9 750.2L192.3 751.2L192.6 752.1L193.0 753.0L193.3 753.9L193.7 754.9L194.1 755.8L194.4 756.7L194.8 757.6L195.2 758.5L195.6 759.4L195.9 760.3L196.3 761.3L196.7 762.2L197.1 763.1L197.5 764.0L198.0 764.9L198.4 765.8L198.8 766.7L199.2 767.6L199.6 768.4L200.1 769.3L200.5 770.2L200.9 771.1L201.4 772.0L201.8 772.9L202.3 773.8L202.7 774.6L203.2 775.5L203.7 776.4L204.1 777.3L204.6 778.1L205.1 779.0L205.5 779.9L206.0 780.7L206.5 781.6L207.0 782.5L207.5 783.3L208.0 784.2L208.4 785.1L208.9 785.9L209.4 786.8L209.9 787.7L210.4 788.5L210.9 789.4L211.4 790.2L212.0 791.1L212.5 791.9L213.0 792.8L213.5 793.6L214.0 794.5L214.5 795.3L215.0 796.2L215.6 797.0L216.1 797.9L216.6 798.7L217.1 799.6L217.7 800.4L218.2 801.3L218.7 802.1L219.2 803.0L219.8 803.8L220.3 804.6L220.8 805.5L221.3 806.3L221.9 807.2L222.4 808.0L222.9 808.9L223.5 809.7L224.0 810.6L224.5 811.4L225.1 812.2L225.6 813.1L226.1 813.9L226.7 814.8L227.2 815.6L227.7 816.5L228.3 817.3L228.8 818.1L229.3 819.0L229.8 819.8L230.4 820.7L230.9 821.5L231.4 822.3L232.0 823.2L232.5 824.0L233.0 824.9L233.6 825.7L234.1 826.6L234.6 827.4L235.1 828.3L235.7 829.1L236.2 829.9L236.7 830.8L237.3 831.6L237.8 832.5L238.3 833.3L238.8 834.2L239.4 835.0L239.9 835.9L240.4 836.7L240.9 837.5L241.5 838.4L242.0 839.2L242.5 840.1L243.0 840.9L243.5 841.8L244.1 842.6L244.6 843.5L245.1 844.3L245.6 845.2L246.1 846.0L246.7 846.9L247.2 847.7L247.7 848.6L248.2 849.4L248.7 850.3L249.2 851.1L249.8 852.0L250.3 852.8L250.8 853.7L251.3 854.5L251.8 855.4L252.3 856.2L252.8 857.1L253.3 857.9L253.9 858.8L254.4 859.6L254.9 860.5L255.4 861.4L255.9 862.2L256.4 863.1L256.9 863.9L257.4 864.8L257.9 865.6L258.4 866.5L258.9 867.4L259.4 868.2L259.9 869.1L260.4 870.0L260.9 870.8L261.4 871.7L261.9 872.5L262.4 873.4L262.8 874.3L263.3 875.1L263.8 876.0L264.3 876.9L264.8 877.7L265.3 878.6L265.8 879.5L266.2 880.3L266.7 881.2L267.2 882.1L267.7 883.0L268.2 883.8L268.6 884.7L269.1 885.6L269.6 886.5L270.0 887.3L270.5 888.2L271.0 889.1L271.4 890.0L271.9 890.8L272.4 891.7L272.8 892.6L273.3 893.5L273.7 894.4L274.2 895.2L274.7 896.1L275.1 897.0L275.6 897.9L276.0 898.8L276.5 899.7L276.9 900.6L277.3 901.5L277.8 902.4L278.2 903.2L278.7 904.1L279.1 905.0L279.5 905.9L280.0 906.8L280.4 907.7L280.8 908.6L281.3 909.5L281.7 910.4L282.1 911.3L282.5 912.2L283.0 913.1L283.4 914.0L283.8 914.9L284.2 915.8L284.6 916.7L285.1 917.6L285.5 918.5L285.9 919.4L286.3 920.3L286.7 921.2L287.1 922.2L287.5 923.1L287.9 924.0L288.3 924.9L288.7 925.8L289.1 926.7L289.6 927.6L290.0 928.5L290.4 929.4L290.8 930.3L291.2 931.2L291.6 932.1L292.0 933.1L292.4 934.0L292.8 934.9L293.2 935.8L293.6 936.7L294.0 937.6L294.4 938.5L294.8 939.4L295.2 940.3L295.6 941.3L296.0 942.2L296.4 943.1L296.8 944.0L297.2 944.9L297.6 945.8L298.0 946.7L298.4 947.6L298.8 948.5L299.2 949.4L299.6 950.4L300.0 951.3L300.4 952.2L300.8 953.1L301.2 954.0L301.6 954.9L302.0 955.8L302.4 956.7L302.8 957.6L303.2 958.5L303.6 959.4L304.0 960.4L304.4 961.3L304.8 962.2L305.2 963.1L305.6 964.0L306.0 964.9L306.4 965.8L306.8 966.7L307.2 967.6L307.6 968.5L308.0 969.4L308.4 970.3L308.8 971.2L309.2 972.1L309.6 973.1L310.0 974.0L310.4 974.9L310.8 975.8L311.2 976.7L311.6 977.6L312.0 978.5L312.4 979.4L312.9 980.3L313.3 981.2L313.7 982.1L314.1 983.0L314.5 983.9L314.9 984.8L315.3 985.7L315.7 986.6L316.1 987.5L316.6 988.4L317.0 989.3L317.4 990.3L317.8 991.2L318.2 992.1L318.6 993.0L319.0 993.9L319.5 994.8L319.9 995.7L320.3 996.6L320.7 997.5L321.1 998.4L321.5 999.3L322.0 1000.2L322.4 1001.1L322.8 1002.0L323.2 1002.9L323.6 1003.8L324.1 1004.7L324.5 1005.6L324.9 1006.5L325.3 1007.4L325.8 1008.3L326.2 1009.2L326.6 1010.1L327.1 1011.0L327.5 1011.9L327.9 1012.8L328.3 1013.7L328.8 1014.6L329.2 1015.5L329.6 1016.4L330.1 1017.3L330.5 1018.2L330.9 1019.1L331.4 1020.1L331.8 1021.0L332.2 1021.9L332.7 1022.8L333.1 1023.7L333.6 1024.6L334.0 1025.5L334.5 1026.4L334.9 1027.3L335.3 1028.2L335.8 1029.1L336.2 1030.0L336.7 1030.9L337.1 1031.8L337.6 1032.7L338.0 1033.6L338.5 1034.4L339.0 1035.3L339.4 1036.2L339.9 1037.1L340.3 1038.0L340.8 1038.9L341.3 1039.8L341.7 1040.7L342.2 1041.6L342.7 1042.4L343.2 1043.3L343.7 1044.2L344.1 1045.1L344.6 1045.9L345.1 1046.8L345.6 1047.7L346.1 1048.6L346.6 1049.4L347.1 1050.3L347.6 1051.1L348.2 1052.0L348.7 1052.8L349.2 1053.7L349.7 1054.5L350.2 1055.4L350.8 1056.2L351.3 1057.1L351.9 1057.9L352.4 1058.7L353.0 1059.5L353.5 1060.4L354.1 1061.2L354.6 1062.0L355.2 1062.8L355.8 1063.6L356.4 1064.4L357.0 1065.2L357.5 1066.0L358.1 1066.8L358.7 1067.6L359.3 1068.4L360.0 1069.1L360.6 1069.9L361.2 1070.7L361.8 1071.4L362.5 1072.2L363.1 1072.9L363.8 1073.7L364.4 1074.4L365.1 1075.1L365.7 1075.9L366.4 1076.6L367.1 1077.3L367.7 1078.0L368.4 1078.7L369.1 1079.4L369.8 1080.1L370.5 1080.8L371.2 1081.5L371.9 1082.2L372.6 1082.9L373.4 1083.5L374.1 1084.2L374.8 1084.9L375.6 1085.5L376.3 1086.2L377.1 1086.8L377.8 1087.4L378.6 1088.1L379.3 1088.7L380.1 1089.3L380.9 1089.9L381.7 1090.5L382.4 1091.1L383.2 1091.7L384.0 1092.3L384.8 1092.9L385.6 1093.4L386.4 1094.0L387.3 1094.5L388.1 1095.1L388.9 1095.6L389.7 1096.2L390.6 1096.7L391.4 1097.2L392.2 1097.8L393.1 1098.3L394.0 1098.8L394.8 1099.3L395.7 1099.8L396.5 1100.3L397.4 1100.8L398.3 1101.2L399.2 1101.7L400.0 1102.2L400.9 1102.6L401.8 1103.1L402.7 1103.6L403.6 1104.0L404.5 1104.4L405.4 1104.9L406.3 1105.3L407.2 1105.7L408.1 1106.2L409.0 1106.6L409.9 1107.0L410.9 1107.4L411.8 1107.8L412.7 1108.2L413.6 1108.6L414.5 1109.0L415.5 1109.4L416.4 1109.7L417.3 1110.1L418.3 1110.5L419.2 1110.8L420.2 1111.2L421.1 1111.6L422.0 1111.9L423.0 1112.3L423.9 1112.6L424.9 1112.9L425.8 1113.3L426.8 1113.6L427.7 1113.9L428.7 1114.3L429.6 1114.6L430.6 1114.9L431.5 1115.2L432.5 1115.5L433.4 1115.8L434.4 1116.1L435.3 1116.4L436.3 1116.7L437.3 1117.0L438.2 1117.3L439.2 1117.6L440.1 1117.9L441.1 1118.2L442.0 1118.5L443.0 1118.7L444.0 1119.0L444.9 1119.3L445.9 1119.5L446.9 1119.8L447.8 1120.0L448.8 1120.3L449.7 1120.6L450.7 1120.8L451.7 1121.0L452.6 1121.3L453.6 1121.5L454.6 1121.8L455.5 1122.0L456.5 1122.2L457.5 1122.5L458.5 1122.7L459.4 1122.9L460.4 1123.1L461.4 1123.3L462.3 1123.6L463.3 1123.8L464.3 1124.0L465.3 1124.2L466.2 1124.4L467.2 1124.6L468.2 1124.8L469.2 1125.0L470.1 1125.2L471.1 1125.4L472.1 1125.6L473.1 1125.8L474.0 1125.9L475.0 1126.1L476.0 1126.3L477.0 1126.5L477.9 1126.7L478.9 1126.8L479.9 1127.0L480.9 1127.2L481.9 1127.3L482.8 1127.5L483.8 1127.7L484.8 1127.8L485.8 1128.0L486.8 1128.1L487.8 1128.3L488.7 1128.5L489.7 1128.6L490.7 1128.8L491.7 1128.9L492.7 1129.0L493.7 1129.2L494.6 1129.3L495.6 1129.5L496.6 1129.6L497.6 1129.7L498.6 1129.9L499.6 1130.0L500.6 1130.1L501.5 1130.3L502.5 1130.4L503.5 1130.5L504.5 1130.7L505.5 1130.8L506.5 1130.9L507.5 1131.0L508.4 1131.1L509.4 1131.3L510.4 1131.4L511.4 1131.5L512.4 1131.6L513.4 1131.7L514.4 1131.8L515.4 1131.9L516.4 1132.1L517.3 1132.2L518.3 1132.3L519.3 1132.4L520.3 1132.5L521.3 1132.6L522.3 1132.7L523.3 1132.8L524.3 1132.9L525.3 1133.0L526.3 1133.1L527.2 1133.2L528.2 1133.3L529.2 1133.4L530.2 1133.5L531.2 1133.6L532.2 1133.7L533.2 1133.8L534.2 1133.9L535.2 1133.9L536.2 1134.0L537.2 1134.1L538.1 1134.2L539.1 1134.3L540.1 1134.4L541.1 1134.5L542.1 1134.6L543.1 1134.7L544.1 1134.7L545.1 1134.8L546.1 1134.9L547.1 1135.0L548.1 1135.1L549.1 1135.2L550.0 1135.2L551.0 1135.3L552.0 1135.4L553.0 1135.5L554.0 1135.6L555.0 1135.6L556.0 1135.7L557.0 1135.8L558.0 1135.9L559.0 1136.0L560.0 1136.0L561.0 1136.1L561.9 1136.2L562.9 1136.2L563.9 1136.3L564.9 1136.4L565.9 1136.5L566.9 1136.5L567.9 1136.6L568.9 1136.7L569.9 1136.7L570.9 1136.8L571.9 1136.9L572.9 1136.9L573.9 1137.0L574.8 1137.1L575.8 1137.1L576.8 1137.2L577.8 1137.3L578.8 1137.3L579.8 1137.4L580.8 1137.5L581.8 1137.5L582.8 1137.6L583.8 1137.6L584.8 1137.7L585.8 1137.8L586.8 1137.8L587.8 1137.9L588.8 1137.9L589.7 1138.0L590.7 1138.1L591.7 1138.1L592.7 1138.2L593.7 1138.2L594.7 1138.3L595.7 1138.3L596.7 1138.4L597.7 1138.4L598.7 1138.5L599.7 1138.5L600.7 1138.6L601.7 1138.6L602.7 1138.7L603.7 1138.8L604.6 1138.8L605.6 1138.9L606.6 1138.9L607.6 1138.9L608.6 1139.0L609.6 1139.0L610.6 1139.1L611.6 1139.1L612.6 1139.2L613.6 1139.2L614.6 1139.3L615.6 1139.3L616.6 1139.4L617.6 1139.4L618.6 1139.5L619.6 1139.5L620.6 1139.5L621.5 1139.6L622.5 1139.6L623.5 1139.7L624.5 1139.7L625.5 1139.8L626.5 1139.8L627.5 1139.8L628.5 1139.9L629.5 1139.9L630.5 1140.0L631.5 1140.0L632.5 1140.0L633.5 1140.1L634.5 1140.1L635.5 1140.1L636.5 1140.2L637.5 1140.2L638.5 1140.3L639.5 1140.3L640.4 1140.3L641.4 1140.4L642.4 1140.4L643.4 1140.4L644.4 1140.5L645.4 1140.5L646.4 1140.5L647.4 1140.6L648.4 1140.6L649.4 1140.6L650.4 1140.7L651.4 1140.7L652.4 1140.7L653.4 1140.8L654.4 1140.8L655.4 1140.8L656.4 1140.9L657.4 1140.9L658.4 1140.9L659.3 1141.0L660.3 1141.0L661.3 1141.0L662.3 1141.0L663.3 1141.1L664.3 1141.1L665.3 1141.1L666.3 1141.2L667.3 1141.2L668.3 1141.2L669.3 1141.3L670.3 1141.3L671.3 1141.3L672.3 1141.3L673.3 1141.4L674.3 1141.4L675.3 1141.4L676.3 1141.4L677.3 1141.5L678.3 1141.5L679.3 1141.5L680.3 1141.6L681.2 1141.6L682.2 1141.6L683.2 1141.6L684.2 1141.7L685.2 1141.7L686.2 1141.7L687.2 1141.7L688.2 1141.8L689.2 1141.8L690.2 1141.8L691.2 1141.8L692.2 1141.9L693.2 1141.9L694.2 1141.9L695.2 1141.9L696.2 1142.0L697.2 1142.0L698.2 1142.0L699.2 1142.0L700.2 1142.1L701.2 1142.1L702.2 1142.1L703.1 1142.1L704.1 1142.1L705.1 1142.2L706.1 1142.2L707.1 1142.2L708.1 1142.2L709.1 1142.3L710.1 1142.3L711.1 1142.3L712.1 1142.3L713.1 1142.4L714.1 1142.4L715.1 1142.4L716.1 1142.4L717.1 1142.5L718.1 1142.5L719.1 1142.5L720.1 1142.5L721.1 1142.5L722.1 1142.6L723.1 1142.6L724.1 1142.6L725.0 1142.6L726.0 1142.7L727.0 1142.7L728.0 1142.7L729.0 1142.7L730.0 1142.8L731.0 1142.8L732.0 1142.8L733.0 1142.8L734.0 1142.8L735.0 1142.9L736.0 1142.9L737.0 1142.9L738.0 1142.9L739.0 1143.0L740.0 1143.0L741.0 1143.0L742.0 1143.0L743.0 1143.1L744.0 1143.1L745.0 1143.1L746.0 1143.1L747.0 1143.2L747.9 1143.2L748.9 1143.2L749.9 1143.2L750.9 1143.3L751.9 1143.3L752.9 1143.3L753.9 1143.3L754.9 1143.4L755.9 1143.4L756.9 1143.4L757.9 1143.4L758.9 1143.5L759.9 1143.5L760.9 1143.5L761.9 1143.5L762.9 1143.6L763.9 1143.6L764.9 1143.6L765.9 1143.7L766.9 1143.7L767.9 1143.7L768.8 1143.7L769.8 1143.8L770.8 1143.8L771.8 1143.8L772.8 1143.9L773.8 1143.9L774.8 1143.9L775.8 1143.9L776.8 1144.0L777.8 1144.0L778.8 1144.0L779.8 1144.1L780.8 1144.1L781.8 1144.1L782.8 1144.2L783.8 1144.2L784.8 1144.2L785.8 1144.2L786.8 1144.3L787.8 1144.3L788.7 1144.3L789.7 1144.4L790.7 1144.4L791.7 1144.4L792.7 1144.5L793.7 1144.5L794.7 1144.5L795.7 1144.6L796.7 1144.6L797.7 1144.7L798.7 1144.7L799.7 1144.7L800.7 1144.8L801.7 1144.8L802.7 1144.8L803.7 1144.9L804.7 1144.9L805.7 1144.9L806.6 1145.0L807.6 1145.0L808.6 1145.1L809.6 1145.1L810.6 1145.1L811.6 1145.2L812.6 1145.2L813.6 1145.3L814.6 1145.3L815.6 1145.3L816.6 1145.4L817.6 1145.4L818.6 1145.5L819.6 1145.5L820.6 1145.6L821.6 1145.6L822.6 1145.6L823.5 1145.7L824.5 1145.7L825.5 1145.8L826.5 1145.8L827.5 1145.9L828.5 1145.9L829.5 1146.0L830.5 1146.0L831.5 1146.1" fill="none" stroke="#111" stroke-width="3.00" stroke-linejoin="round" stroke-linecap="butt" />
<g fill="none" stroke="#dc2320" stroke-width="1.90"><circle cx="174.7" cy="1078.1" r="4.50"/><circle cx="177.8" cy="1080.3" r="4.50"/><circle cx="181.0" cy="1082.3" r="4.50"/><circle cx="184.4" cy="1084.1" r="4.50"/><circle cx="187.9" cy="1085.6" r="4.50"/><circle cx="191.4" cy="1086.9" r="4.50"/><circle cx="195.1" cy="1087.9" r="4.50"/><circle cx="198.9" cy="1088.5" r="4.50"/><circle cx="202.7" cy="1088.7" r="4.50"/><circle cx="206.4" cy="1088.6" r="4.50"/><circle cx="210.2" cy="1088.0" r="4.50"/><circle cx="213.9" cy="1087.2" r="4.50"/><circle cx="217.6" cy="1086.1" r="4.50"/><circle cx="221.1" cy="1084.8" r="4.50"/><circle cx="224.7" cy="1083.4" r="4.50"/><circle cx="228.2" cy="1081.9" r="4.50"/><circle cx="231.7" cy="1080.4" r="4.50"/><circle cx="235.2" cy="1079.0" r="4.50"/><circle cx="238.7" cy="1077.5" r="4.50"/><circle cx="242.2" cy="1076.1" r="4.50"/><circle cx="245.7" cy="1074.7" r="4.50"/><circle cx="249.3" cy="1073.4" r="4.50"/><circle cx="252.9" cy="1072.2" r="4.50"/><circle cx="256.6" cy="1071.2" r="4.50"/><circle cx="260.3" cy="1070.2" r="4.50"/><circle cx="264.0" cy="1069.4" r="4.50"/><circle cx="267.7" cy="1068.8" r="4.50"/><circle cx="271.5" cy="1068.5" r="4.50"/><circle cx="275.3" cy="1068.3" r="4.50"/><circle cx="279.1" cy="1068.4" r="4.50"/><circle cx="282.9" cy="1068.9" r="4.50"/><circle cx="286.6" cy="1069.5" r="4.50"/><circle cx="290.3" cy="1070.4" r="4.50"/><circle cx="293.9" cy="1071.5" r="4.50"/><circle cx="297.5" cy="1072.8" r="4.50"/><circle cx="301.1" cy="1074.2" r="4.50"/><circle cx="303.8" cy="1075.4" r="4.50"/><circle cx="306.5" cy="1076.6" r="4.50"/><circle cx="309.2" cy="1078.0" r="4.50"/><circle cx="311.9" cy="1079.3" r="4.50"/><circle cx="314.6" cy="1080.7" r="4.50"/><circle cx="317.2" cy="1082.1" r="4.50"/><circle cx="319.9" cy="1083.5" r="4.50"/><circle cx="322.5" cy="1084.9" r="4.50"/><circle cx="325.2" cy="1086.3" r="4.50"/><circle cx="327.8" cy="1087.8" r="4.50"/><circle cx="330.4" cy="1089.2" r="4.50"/><circle cx="333.1" cy="1090.6" r="4.50"/><circle cx="335.7" cy="1092.0" r="4.50"/><circle cx="338.4" cy="1093.5" r="4.50"/><circle cx="341.0" cy="1094.9" r="4.50"/><circle cx="343.7" cy="1096.3" r="4.50"/><circle cx="346.3" cy="1097.6" r="4.50"/><circle cx="349.0" cy="1099.0" r="4.50"/><circle cx="351.7" cy="1100.3" r="4.50"/><circle cx="354.4" cy="1101.6" r="4.50"/><circle cx="357.1" cy="1102.9" r="4.50"/><circle cx="359.9" cy="1104.1" r="4.50"/><circle cx="362.6" cy="1105.3" r="4.50"/><circle cx="365.4" cy="1106.5" r="4.50"/><circle cx="368.2" cy="1107.6" r="4.50"/><circle cx="371.0" cy="1108.6" r="4.50"/><circle cx="373.8" cy="1109.6" r="4.50"/><circle cx="376.6" cy="1110.6" r="4.50"/><circle cx="379.5" cy="1111.5" r="4.50"/><circle cx="382.4" cy="1112.4" r="4.50"/><circle cx="385.2" cy="1113.3" r="4.50"/><circle cx="388.1" cy="1114.1" r="4.50"/><circle cx="391.0" cy="1115.0" r="4.50"/><circle cx="393.9" cy="1115.8" r="4.50"/><circle cx="396.8" cy="1116.5" r="4.50"/><circle cx="399.7" cy="1117.3" r="4.50"/><circle cx="402.6" cy="1118.1" r="4.50"/><circle cx="405.5" cy="1118.8" r="4.50"/><circle cx="408.4" cy="1119.6" r="4.50"/><circle cx="411.3" cy="1120.3" r="4.50"/><circle cx="414.2" cy="1121.0" r="4.50"/><circle cx="417.1" cy="1121.7" r="4.50"/><circle cx="420.0" cy="1122.4" r="4.50"/><circle cx="423.0" cy="1123.1" r="4.50"/><circle cx="425.9" cy="1123.8" r="4.50"/><circle cx="428.8" cy="1124.5" r="4.50"/><circle cx="431.7" cy="1125.1" r="4.50"/><circle cx="434.7" cy="1125.8" r="4.50"/><circle cx="437.6" cy="1126.4" r="4.50"/><circle cx="440.5" cy="1127.0" r="4.50"/><circle cx="443.5" cy="1127.6" r="4.50"/><circle cx="446.4" cy="1128.2" r="4.50"/><circle cx="449.4" cy="1128.8" r="4.50"/><circle cx="452.3" cy="1129.4" r="4.50"/><circle cx="455.3" cy="1129.9" r="4.50"/><circle cx="458.2" cy="1130.5" r="4.50"/><circle cx="461.2" cy="1131.0" r="4.50"/><circle cx="464.1" cy="1131.5" r="4.50"/><circle cx="467.1" cy="1132.0" r="4.50"/><circle cx="470.0" cy="1132.5" r="4.50"/><circle cx="473.0" cy="1133.0" r="4.50"/><circle cx="476.0" cy="1133.4" r="4.50"/><circle cx="478.9" cy="1133.9" r="4.50"/><circle cx="481.9" cy="1134.3" r="4.50"/><circle cx="484.9" cy="1134.7" r="4.50"/><circle cx="487.8" cy="1135.1" r="4.50"/><circle cx="490.8" cy="1135.5" r="4.50"/><circle cx="493.8" cy="1135.9" r="4.50"/><circle cx="496.8" cy="1136.3" r="4.50"/><circle cx="499.7" cy="1136.6" r="4.50"/><circle cx="502.7" cy="1137.0" r="4.50"/><circle cx="505.7" cy="1137.3" r="4.50"/><circle cx="508.7" cy="1137.7" r="4.50"/><circle cx="511.7" cy="1138.0" r="4.50"/><circle cx="514.7" cy="1138.3" r="4.50"/><circle cx="517.6" cy="1138.6" r="4.50"/><circle cx="520.6" cy="1138.9" r="4.50"/><circle cx="523.6" cy="1139.1" r="4.50"/><circle cx="526.6" cy="1139.4" r="4.50"/><circle cx="529.6" cy="1139.7" r="4.50"/><circle cx="532.6" cy="1139.9" r="4.50"/><circle cx="535.6" cy="1140.2" r="4.50"/><circle cx="538.6" cy="1140.4" r="4.50"/><circle cx="541.5" cy="1140.6" r="4.50"/><circle cx="544.5" cy="1140.8" r="4.50"/><circle cx="547.5" cy="1141.1" r="4.50"/><circle cx="550.5" cy="1141.3" r="4.50"/><circle cx="553.5" cy="1141.5" r="4.50"/><circle cx="556.5" cy="1141.6" r="4.50"/><circle cx="559.5" cy="1141.8" r="4.50"/><circle cx="562.5" cy="1142.0" r="4.50"/><circle cx="565.5" cy="1142.2" r="4.50"/><circle cx="568.5" cy="1142.3" r="4.50"/><circle cx="571.5" cy="1142.5" r="4.50"/><circle cx="574.5" cy="1142.6" r="4.50"/><circle cx="577.5" cy="1142.8" r="4.50"/><circle cx="580.5" cy="1142.9" r="4.50"/><circle cx="583.5" cy="1143.1" r="4.50"/><circle cx="586.5" cy="1143.2" r="4.50"/><circle cx="589.5" cy="1143.3" r="4.50"/><circle cx="592.5" cy="1143.4" r="4.50"/><circle cx="595.5" cy="1143.6" r="4.50"/><circle cx="598.5" cy="1143.7" r="4.50"/><circle cx="601.5" cy="1143.8" r="4.50"/><circle cx="604.5" cy="1143.9" r="4.50"/><circle cx="607.5" cy="1144.0" r="4.50"/><circle cx="610.5" cy="1144.1" r="4.50"/><circle cx="613.5" cy="1144.2" r="4.50"/><circle cx="616.5" cy="1144.3" r="4.50"/><circle cx="619.5" cy="1144.4" r="4.50"/><circle cx="622.5" cy="1144.5" r="4.50"/><circle cx="625.4" cy="1144.6" r="4.50"/><circle cx="628.4" cy="1144.7" r="4.50"/><circle cx="631.4" cy="1144.7" r="4.50"/><circle cx="634.4" cy="1144.8" r="4.50"/><circle cx="637.4" cy="1144.9" r="4.50"/><circle cx="640.4" cy="1145.0" r="4.50"/><circle cx="643.4" cy="1145.1" r="4.50"/><circle cx="646.4" cy="1145.2" r="4.50"/><circle cx="649.4" cy="1145.3" r="4.50"/><circle cx="652.4" cy="1145.3" r="4.50"/><circle cx="655.4" cy="1145.4" r="4.50"/><circle cx="658.4" cy="1145.5" r="4.50"/><circle cx="661.4" cy="1145.6" r="4.50"/><circle cx="664.4" cy="1145.7" r="4.50"/><circle cx="667.4" cy="1145.8" r="4.50"/><circle cx="670.4" cy="1145.9" r="4.50"/><circle cx="673.4" cy="1146.0" r="4.50"/><circle cx="676.4" cy="1146.1" r="4.50"/><circle cx="679.4" cy="1146.2" r="4.50"/><circle cx="682.4" cy="1146.3" r="4.50"/><circle cx="685.4" cy="1146.4" r="4.50"/><circle cx="688.4" cy="1146.5" r="4.50"/><circle cx="691.4" cy="1146.6" r="4.50"/><circle cx="694.4" cy="1146.7" r="4.50"/><circle cx="697.4" cy="1146.8" r="4.50"/><circle cx="700.4" cy="1147.0" r="4.50"/><circle cx="703.4" cy="1147.1" r="4.50"/><circle cx="706.4" cy="1147.2" r="4.50"/><circle cx="709.4" cy="1147.3" r="4.50"/><circle cx="712.4" cy="1147.5" r="4.50"/><circle cx="715.4" cy="1147.6" r="4.50"/><circle cx="718.4" cy="1147.7" r="4.50"/><circle cx="721.4" cy="1147.9" r="4.50"/><circle cx="724.4" cy="1148.0" r="4.50"/><circle cx="727.4" cy="1148.1" r="4.50"/><circle cx="730.4" cy="1148.3" r="4.50"/><circle cx="733.4" cy="1148.4" r="4.50"/><circle cx="736.4" cy="1148.5" r="4.50"/><circle cx="739.4" cy="1148.7" r="4.50"/><circle cx="742.4" cy="1148.8" r="4.50"/><circle cx="745.4" cy="1148.9" r="4.50"/><circle cx="748.4" cy="1149.1" r="4.50"/><circle cx="751.4" cy="1149.2" r="4.50"/><circle cx="754.4" cy="1149.3" r="4.50"/><circle cx="757.4" cy="1149.4" r="4.50"/><circle cx="760.4" cy="1149.6" r="4.50"/><circle cx="763.4" cy="1149.7" r="4.50"/><circle cx="766.4" cy="1149.8" r="4.50"/><circle cx="769.3" cy="1149.9" r="4.50"/><circle cx="772.3" cy="1150.0" r="4.50"/><circle cx="775.3" cy="1150.1" r="4.50"/><circle cx="778.3" cy="1150.2" r="4.50"/><circle cx="781.3" cy="1150.3" r="4.50"/><circle cx="784.3" cy="1150.4" r="4.50"/><circle cx="787.3" cy="1150.5" r="4.50"/><circle cx="790.3" cy="1150.6" r="4.50"/><circle cx="793.3" cy="1150.6" r="4.50"/><circle cx="796.3" cy="1150.7" r="4.50"/><circle cx="799.3" cy="1150.8" r="4.50"/><circle cx="802.3" cy="1150.8" r="4.50"/><circle cx="805.3" cy="1150.9" r="4.50"/><circle cx="808.3" cy="1150.9" r="4.50"/><circle cx="811.3" cy="1150.9" r="4.50"/><circle cx="814.3" cy="1151.0" r="4.50"/><circle cx="817.3" cy="1151.0" r="4.50"/><circle cx="820.3" cy="1151.0" r="4.50"/><circle cx="823.3" cy="1151.0" r="4.50"/><circle cx="826.3" cy="1151.0" r="4.50"/><circle cx="829.3" cy="1151.0" r="4.50"/></g>
<path d="M175.5 989.2L176.2 990.0L176.9 990.7L177.5 991.5L178.2 992.2L178.9 993.0L179.5 993.7L180.2 994.5L180.9 995.2L181.6 995.9L182.3 996.7L183.0 997.4L183.7 998.1L184.4 998.8L185.1 999.5L185.8 1000.2L186.5 1000.9L187.3 1001.6L188.0 1002.3L188.7 1003.0L189.5 1003.6L190.2 1004.2L191.0 1004.9L191.8 1005.5L192.6 1006.1L193.3 1006.6L194.1 1007.2L194.9 1007.7L195.7 1008.3L196.6 1008.8L197.4 1009.3L198.2 1009.7L199.1 1010.2L199.9 1010.6L200.8 1011.0L201.7 1011.4L202.5 1011.8L203.4 1012.1L204.3 1012.5L205.2 1012.9L206.0 1013.3L206.9 1013.7L207.8 1014.1L208.7 1014.5L209.5 1014.9L210.4 1015.4L211.2 1015.9L212.1 1016.4L212.9 1016.9L213.7 1017.4L214.6 1017.9L215.4 1018.5L216.2 1019.0L217.1 1019.5L217.9 1020.1L218.7 1020.6L219.6 1021.1L220.4 1021.7L221.2 1022.2L222.1 1022.7L222.9 1023.2L223.8 1023.7L224.6 1024.2L225.5 1024.7L226.3 1025.2L227.2 1025.7L228.0 1026.2L228.9 1026.7L229.7 1027.2L230.6 1027.7L231.4 1028.2L232.3 1028.7L233.2 1029.2L234.0 1029.7L234.9 1030.2L235.7 1030.7L236.6 1031.1L237.5 1031.6L238.3 1032.1L239.2 1032.6L240.1 1033.0L240.9 1033.5L241.8 1034.0L242.7 1034.4L243.5 1034.9L244.4 1035.4L245.3 1035.8L246.2 1036.3L247.0 1036.8L247.9 1037.2L248.8 1037.7L249.7 1038.1L250.5 1038.6L251.4 1039.1L252.3 1039.5L253.2 1040.0L254.1 1040.4L254.9 1040.9L255.8 1041.3L256.7 1041.8L257.6 1042.2L258.5 1042.7L259.3 1043.1L260.2 1043.6L261.1 1044.0L262.0 1044.5L262.9 1044.9L263.8 1045.4L264.6 1045.8L265.5 1046.3L266.4 1046.7L267.3 1047.2L268.2 1047.6L269.1 1048.0L270.0 1048.5L270.8 1048.9L271.7 1049.4L272.6 1049.8L273.5 1050.3L274.4 1050.7L275.3 1051.2L276.2 1051.6L277.0 1052.1L277.9 1052.5L278.8 1053.0L279.7 1053.4L280.6 1053.9L281.5 1054.3L282.3 1054.8L283.2 1055.2L284.1 1055.7L285.0 1056.1L285.9 1056.6L286.8 1057.0L287.6 1057.5L288.5 1057.9L289.4 1058.4L290.3 1058.8L291.2 1059.3L292.1 1059.8L292.9 1060.2L293.8 1060.7L294.7 1061.2L295.6 1061.6L296.5 1062.1L297.3 1062.6L298.2 1063.0L299.1 1063.5L300.0 1064.0L300.8 1064.4L301.7 1064.9L302.6 1065.4L303.5 1065.9L304.3 1066.4L305.2 1066.8L306.1 1067.3L306.9 1067.8L307.8 1068.3L308.7 1068.8L309.5 1069.3L310.4 1069.8L311.3 1070.3L312.1 1070.8L313.0 1071.3L313.9 1071.8L314.7 1072.3L315.6 1072.8L316.4 1073.3L317.3 1073.8L318.2 1074.3L319.0 1074.8L319.9 1075.3L320.7 1075.8L321.6 1076.3L322.5 1076.8L323.3 1077.3L324.2 1077.8L325.0 1078.4L325.9 1078.9L326.8 1079.4L327.6 1079.9L328.5 1080.4L329.3 1080.9L330.2 1081.4L331.0 1081.9L331.9 1082.4L332.8 1083.0L333.6 1083.5L334.5 1084.0L335.3 1084.5L336.2 1085.0L337.0 1085.5L337.9 1086.0L338.8 1086.5L339.6 1087.0L340.5 1087.5L341.3 1088.0L342.2 1088.5L343.1 1089.0L343.9 1089.5L344.8 1090.0L345.6 1090.5L346.5 1091.0L347.4 1091.5L348.2 1092.0L349.1 1092.5L350.0 1093.0L350.8 1093.5L351.7 1094.0L352.6 1094.5L353.4 1095.0L354.3 1095.4L355.2 1095.9L356.0 1096.4L356.9 1096.9L357.8 1097.3L358.7 1097.8L359.5 1098.3L360.4 1098.8L361.3 1099.2L362.2 1099.7L363.0 1100.1L363.9 1100.6L364.8 1101.0L365.7 1101.5L366.6 1101.9L367.5 1102.4L368.3 1102.8L369.2 1103.3L370.1 1103.7L371.0 1104.1L371.9 1104.6L372.8 1105.0L373.7 1105.4L374.6 1105.8L375.5 1106.2L376.4 1106.6L377.3 1107.1L378.2 1107.5L379.1 1107.9L380.0 1108.2L380.9 1108.6L381.8 1109.0L382.7 1109.4L383.6 1109.8L384.5 1110.2L385.5 1110.5L386.4 1110.9L387.3 1111.3L388.2 1111.6L389.1 1112.0L390.1 1112.3L391.0 1112.7L391.9 1113.0L392.8 1113.3L393.8 1113.7L394.7 1114.0L395.6 1114.3L396.6 1114.7L397.5 1115.0L398.4 1115.3L399.4 1115.6L400.3 1115.9L401.3 1116.2L402.2 1116.5L403.2 1116.8L404.1 1117.1L405.0 1117.4L406.0 1117.7L406.9 1118.0L407.9 1118.3L408.8 1118.5L409.8 1118.8L410.8 1119.1L411.7 1119.4L412.7 1119.6L413.6 1119.9L414.6 1120.2L415.5 1120.4L416.5 1120.7L417.5 1120.9L418.4 1121.2L419.4 1121.4L420.4 1121.7L421.3 1121.9L422.3 1122.1L423.2 1122.4L424.2 1122.6L425.2 1122.8L426.2 1123.1L427.1 1123.3L428.1 1123.5L429.1 1123.7L430.0 1123.9L431.0 1124.2L432.0 1124.4L433.0 1124.6L433.9 1124.8L434.9 1125.0L435.9 1125.2L436.9 1125.4L437.8 1125.6L438.8 1125.8L439.8 1126.0L440.8 1126.2L441.8 1126.4L442.7 1126.6L443.7 1126.8L444.7 1126.9L445.7 1127.1L446.7 1127.3L447.6 1127.5L448.6 1127.7L449.6 1127.8L450.6 1128.0L451.6 1128.2L452.6 1128.4L453.5 1128.5L454.5 1128.7L455.5 1128.9L456.5 1129.0L457.5 1129.2L458.5 1129.3L459.5 1129.5L460.4 1129.7L461.4 1129.8L462.4 1130.0L463.4 1130.1L464.4 1130.3L465.4 1130.4L466.4 1130.6L467.3 1130.7L468.3 1130.9L469.3 1131.0L470.3 1131.2L471.3 1131.3L472.3 1131.5L473.3 1131.6L474.2 1131.8L475.2 1131.9L476.2 1132.0L477.2 1132.2L478.2 1132.3L479.2 1132.5L480.2 1132.6L481.1 1132.7L482.1 1132.8L483.1 1133.0L484.1 1133.1L485.1 1133.2L486.1 1133.4L487.1 1133.5L488.1 1133.6L489.0 1133.7L490.0 1133.9L491.0 1134.0L492.0 1134.1L493.0 1134.2L494.0 1134.3L495.0 1134.5L496.0 1134.6L496.9 1134.7L497.9 1134.8L498.9 1134.9L499.9 1135.0L500.9 1135.1L501.9 1135.2L502.9 1135.4L503.9 1135.5L504.8 1135.6L505.8 1135.7L506.8 1135.8L507.8 1135.9L508.8 1136.0L509.8 1136.1L510.8 1136.2L511.8 1136.3L512.8 1136.4L513.7 1136.5L514.7 1136.6L515.7 1136.7L516.7 1136.8L517.7 1136.9L518.7 1137.0L519.7 1137.0L520.7 1137.1L521.7 1137.2L522.7 1137.3L523.6 1137.4L524.6 1137.5L525.6 1137.6L526.6 1137.7L527.6 1137.7L528.6 1137.8L529.6 1137.9L530.6 1138.0L531.6 1138.1L532.5 1138.2L533.5 1138.2L534.5 1138.3L535.5 1138.4L536.5 1138.5L537.5 1138.5L538.5 1138.6L539.5 1138.7L540.5 1138.8L541.5 1138.8L542.5 1138.9L543.4 1139.0L544.4 1139.1L545.4 1139.1L546.4 1139.2L547.4 1139.3L548.4 1139.3L549.4 1139.4L550.4 1139.5L551.4 1139.5L552.4 1139.6L553.4 1139.7L554.3 1139.7L555.3 1139.8L556.3 1139.9L557.3 1139.9L558.3 1140.0L559.3 1140.0L560.3 1140.1L561.3 1140.2L562.3 1140.2L563.3 1140.3L564.3 1140.3L565.2 1140.4L566.2 1140.4L567.2 1140.5L568.2 1140.5L569.2 1140.6L570.2 1140.7L571.2 1140.7L572.2 1140.8L573.2 1140.8L574.2 1140.9L575.2 1140.9L576.2 1141.0L577.1 1141.0L578.1 1141.1L579.1 1141.1L580.1 1141.2L581.1 1141.2L582.1 1141.3L583.1 1141.3L584.1 1141.3L585.1 1141.4L586.1 1141.4L587.1 1141.5L588.1 1141.5L589.1 1141.6L590.0 1141.6L591.0 1141.7L592.0 1141.7L593.0 1141.7L594.0 1141.8L595.0 1141.8L596.0 1141.9L597.0 1141.9L598.0 1141.9L599.0 1142.0L600.0 1142.0L601.0 1142.1L602.0 1142.1L603.0 1142.1L603.9 1142.2L604.9 1142.2L605.9 1142.3L606.9 1142.3L607.9 1142.3L608.9 1142.4L609.9 1142.4L610.9 1142.4L611.9 1142.5L612.9 1142.5L613.9 1142.5L614.9 1142.6L615.9 1142.6L616.9 1142.6L617.9 1142.7L618.8 1142.7L619.8 1142.7L620.8 1142.8L621.8 1142.8L622.8 1142.8L623.8 1142.9L624.8 1142.9L625.8 1142.9L626.8 1143.0L627.8 1143.0L628.8 1143.0L629.8 1143.1L630.8 1143.1L631.8 1143.1L632.8 1143.1L633.7 1143.2L634.7 1143.2L635.7 1143.2L636.7 1143.3L637.7 1143.3L638.7 1143.3L639.7 1143.4L640.7 1143.4L641.7 1143.4L642.7 1143.4L643.7 1143.5L644.7 1143.5L645.7 1143.5L646.7 1143.6L647.7 1143.6L648.7 1143.6L649.6 1143.6L650.6 1143.7L651.6 1143.7L652.6 1143.7L653.6 1143.8L654.6 1143.8L655.6 1143.8L656.6 1143.8L657.6 1143.9L658.6 1143.9L659.6 1143.9L660.6 1144.0L661.6 1144.0L662.6 1144.0L663.6 1144.0L664.6 1144.1L665.5 1144.1L666.5 1144.1L667.5 1144.2L668.5 1144.2L669.5 1144.2L670.5 1144.2L671.5 1144.3L672.5 1144.3L673.5 1144.3L674.5 1144.4L675.5 1144.4L676.5 1144.4L677.5 1144.5L678.5 1144.5L679.5 1144.5L680.5 1144.5L681.4 1144.6L682.4 1144.6L683.4 1144.6L684.4 1144.7L685.4 1144.7L686.4 1144.7L687.4 1144.8L688.4 1144.8L689.4 1144.8L690.4 1144.9L691.4 1144.9L692.4 1144.9L693.4 1145.0L694.4 1145.0L695.4 1145.0L696.4 1145.1L697.3 1145.1L698.3 1145.1L699.3 1145.2L700.3 1145.2L701.3 1145.2L702.3 1145.3L703.3 1145.3L704.3 1145.3L705.3 1145.4L706.3 1145.4L707.3 1145.5L708.3 1145.5L709.3 1145.5L710.3 1145.6L711.3 1145.6L712.3 1145.6L713.3 1145.7L714.2 1145.7L715.2 1145.7L716.2 1145.8L717.2 1145.8L718.2 1145.9L719.2 1145.9L720.2 1145.9L721.2 1146.0L722.2 1146.0L723.2 1146.0L724.2 1146.1L725.2 1146.1L726.2 1146.2L727.2 1146.2L728.2 1146.2L729.2 1146.3L730.1 1146.3L731.1 1146.3L732.1 1146.4L733.1 1146.4L734.1 1146.4L735.1 1146.5L736.1 1146.5L737.1 1146.6L738.1 1146.6L739.1 1146.6L740.1 1146.7L741.1 1146.7L742.1 1146.7L743.1 1146.8L744.1 1146.8L745.0 1146.9L746.0 1146.9L747.0 1146.9L748.0 1147.0L749.0 1147.0L750.0 1147.0L751.0 1147.1L752.0 1147.1L753.0 1147.1L754.0 1147.2L755.0 1147.2L756.0 1147.2L757.0 1147.3L758.0 1147.3L759.0 1147.4L760.0 1147.4L760.9 1147.4L761.9 1147.5L762.9 1147.5L763.9 1147.5L764.9 1147.6L765.9 1147.6L766.9 1147.6L767.9 1147.7L768.9 1147.7L769.9 1147.7L770.9 1147.8L771.9 1147.8L772.9 1147.8L773.9 1147.8L774.9 1147.9L775.9 1147.9L776.8 1147.9L777.8 1148.0L778.8 1148.0L779.8 1148.0L780.8 1148.1L781.8 1148.1L782.8 1148.1L783.8 1148.1L784.8 1148.2L785.8 1148.2L786.8 1148.2L787.8 1148.3L788.8 1148.3L789.8 1148.3L790.8 1148.3L791.8 1148.4L792.7 1148.4L793.7 1148.4L794.7 1148.4L795.7 1148.5L796.7 1148.5L797.7 1148.5L798.7 1148.5L799.7 1148.5L800.7 1148.6L801.7 1148.6L802.7 1148.6L803.7 1148.6L804.7 1148.6L805.7 1148.7L806.7 1148.7L807.7 1148.7L808.6 1148.7L809.6 1148.7L810.6 1148.8L811.6 1148.8L812.6 1148.8L813.6 1148.8L814.6 1148.8L815.6 1148.8L816.6 1148.8L817.6 1148.9L818.6 1148.9L819.6 1148.9L820.6 1148.9L821.6 1148.9L822.6 1148.9L823.6 1148.9L824.5 1148.9L825.5 1148.9L826.5 1149.0L827.5 1149.0L828.5 1149.0L829.5 1149.0L830.5 1149.0L831.5 1149.0" fill="none" stroke="#dc2320" stroke-width="2.80" stroke-linejoin="round" stroke-linecap="butt" />
<g fill="none" stroke="#30359a" stroke-width="1.90"><circle cx="174.9" cy="1093.3" r="4.50"/><circle cx="177.7" cy="1093.9" r="4.50"/><circle cx="180.6" cy="1094.1" r="4.50"/><circle cx="183.5" cy="1094.1" r="4.50"/><circle cx="186.4" cy="1094.0" r="4.50"/><circle cx="189.3" cy="1093.6" r="4.50"/><circle cx="192.2" cy="1093.1" r="4.50"/><circle cx="195.0" cy="1092.5" r="4.50"/><circle cx="197.8" cy="1091.9" r="4.50"/><circle cx="200.6" cy="1091.1" r="4.50"/><circle cx="203.4" cy="1090.4" r="4.50"/><circle cx="206.3" cy="1089.7" r="4.50"/><circle cx="209.1" cy="1089.0" r="4.50"/><circle cx="211.9" cy="1088.3" r="4.50"/><circle cx="214.7" cy="1087.6" r="4.50"/><circle cx="217.5" cy="1087.0" r="4.50"/><circle cx="220.4" cy="1086.4" r="4.50"/><circle cx="223.2" cy="1085.9" r="4.50"/><circle cx="226.1" cy="1085.5" r="4.50"/><circle cx="229.0" cy="1085.1" r="4.50"/><circle cx="231.9" cy="1084.8" r="4.50"/><circle cx="234.7" cy="1084.6" r="4.50"/><circle cx="237.6" cy="1084.4" r="4.50"/><circle cx="240.5" cy="1084.4" r="4.50"/><circle cx="243.4" cy="1084.5" r="4.50"/><circle cx="246.3" cy="1084.6" r="4.50"/><circle cx="249.2" cy="1084.9" r="4.50"/><circle cx="252.1" cy="1085.2" r="4.50"/><circle cx="255.0" cy="1085.6" r="4.50"/><circle cx="257.8" cy="1086.0" r="4.50"/><circle cx="260.7" cy="1086.5" r="4.50"/><circle cx="263.6" cy="1087.1" r="4.50"/><circle cx="266.4" cy="1087.7" r="4.50"/><circle cx="269.2" cy="1088.3" r="4.50"/><circle cx="272.0" cy="1089.0" r="4.50"/><circle cx="274.9" cy="1089.7" r="4.50"/><circle cx="277.7" cy="1090.4" r="4.50"/><circle cx="280.5" cy="1091.1" r="4.50"/><circle cx="283.3" cy="1091.8" r="4.50"/><circle cx="286.1" cy="1092.6" r="4.50"/><circle cx="288.9" cy="1093.3" r="4.50"/><circle cx="291.7" cy="1094.0" r="4.50"/><circle cx="294.5" cy="1094.7" r="4.50"/><circle cx="297.3" cy="1095.5" r="4.50"/><circle cx="300.1" cy="1096.2" r="4.50"/><circle cx="302.9" cy="1096.9" r="4.50"/><circle cx="305.7" cy="1097.7" r="4.50"/><circle cx="308.5" cy="1098.4" r="4.50"/><circle cx="311.3" cy="1099.2" r="4.50"/><circle cx="314.1" cy="1099.9" r="4.50"/><circle cx="316.9" cy="1100.7" r="4.50"/><circle cx="319.7" cy="1101.4" r="4.50"/><circle cx="322.5" cy="1102.2" r="4.50"/><circle cx="325.3" cy="1103.0" r="4.50"/><circle cx="328.1" cy="1103.8" r="4.50"/><circle cx="330.9" cy="1104.6" r="4.50"/><circle cx="333.7" cy="1105.4" r="4.50"/><circle cx="336.5" cy="1106.2" r="4.50"/><circle cx="339.3" cy="1107.0" r="4.50"/><circle cx="342.0" cy="1107.9" r="4.50"/><circle cx="344.8" cy="1108.7" r="4.50"/><circle cx="347.6" cy="1109.6" r="4.50"/><circle cx="350.3" cy="1110.5" r="4.50"/><circle cx="353.1" cy="1111.3" r="4.50"/><circle cx="355.9" cy="1112.3" r="4.50"/><circle cx="358.6" cy="1113.2" r="4.50"/><circle cx="361.3" cy="1114.1" r="4.50"/><circle cx="364.1" cy="1115.1" r="4.50"/><circle cx="366.8" cy="1116.0" r="4.50"/><circle cx="369.6" cy="1116.9" r="4.50"/><circle cx="372.3" cy="1117.9" r="4.50"/><circle cx="375.1" cy="1118.8" r="4.50"/><circle cx="377.8" cy="1119.7" r="4.50"/><circle cx="380.6" cy="1120.6" r="4.50"/><circle cx="383.3" cy="1121.5" r="4.50"/><circle cx="386.1" cy="1122.3" r="4.50"/><circle cx="388.9" cy="1123.2" r="4.50"/><circle cx="391.7" cy="1124.0" r="4.50"/><circle cx="394.5" cy="1124.7" r="4.50"/><circle cx="397.3" cy="1125.4" r="4.50"/><circle cx="400.1" cy="1126.1" r="4.50"/><circle cx="402.9" cy="1126.7" r="4.50"/><circle cx="405.8" cy="1127.4" r="4.50"/><circle cx="408.6" cy="1128.0" r="4.50"/><circle cx="411.5" cy="1128.5" r="4.50"/><circle cx="414.3" cy="1129.0" r="4.50"/><circle cx="417.2" cy="1129.6" r="4.50"/><circle cx="420.0" cy="1130.0" r="4.50"/><circle cx="422.9" cy="1130.5" r="4.50"/><circle cx="425.8" cy="1130.9" r="4.50"/><circle cx="428.6" cy="1131.4" r="4.50"/><circle cx="431.5" cy="1131.8" r="4.50"/><circle cx="434.4" cy="1132.1" r="4.50"/><circle cx="437.3" cy="1132.5" r="4.50"/><circle cx="440.1" cy="1132.9" r="4.50"/><circle cx="443.0" cy="1133.2" r="4.50"/><circle cx="445.9" cy="1133.5" r="4.50"/><circle cx="448.8" cy="1133.8" r="4.50"/><circle cx="451.7" cy="1134.1" r="4.50"/><circle cx="454.5" cy="1134.4" r="4.50"/><circle cx="457.4" cy="1134.7" r="4.50"/><circle cx="460.3" cy="1135.0" r="4.50"/><circle cx="463.2" cy="1135.3" r="4.50"/><circle cx="466.1" cy="1135.6" r="4.50"/><circle cx="469.0" cy="1135.9" r="4.50"/><circle cx="471.9" cy="1136.1" r="4.50"/><circle cx="474.7" cy="1136.4" r="4.50"/><circle cx="477.6" cy="1136.7" r="4.50"/><circle cx="480.5" cy="1136.9" r="4.50"/><circle cx="483.4" cy="1137.2" r="4.50"/><circle cx="486.3" cy="1137.4" r="4.50"/><circle cx="489.2" cy="1137.7" r="4.50"/><circle cx="492.1" cy="1137.9" r="4.50"/><circle cx="495.0" cy="1138.2" r="4.50"/><circle cx="497.9" cy="1138.4" r="4.50"/><circle cx="500.8" cy="1138.6" r="4.50"/><circle cx="503.6" cy="1138.9" r="4.50"/><circle cx="506.5" cy="1139.1" r="4.50"/><circle cx="509.4" cy="1139.3" r="4.50"/><circle cx="512.3" cy="1139.5" r="4.50"/><circle cx="515.2" cy="1139.7" r="4.50"/><circle cx="518.1" cy="1139.9" r="4.50"/><circle cx="521.0" cy="1140.2" r="4.50"/><circle cx="523.9" cy="1140.4" r="4.50"/><circle cx="526.8" cy="1140.6" r="4.50"/><circle cx="529.7" cy="1140.8" r="4.50"/><circle cx="532.6" cy="1140.9" r="4.50"/><circle cx="535.5" cy="1141.1" r="4.50"/><circle cx="538.4" cy="1141.3" r="4.50"/><circle cx="541.2" cy="1141.5" r="4.50"/><circle cx="544.1" cy="1141.7" r="4.50"/><circle cx="547.0" cy="1141.9" r="4.50"/><circle cx="549.9" cy="1142.0" r="4.50"/><circle cx="552.8" cy="1142.2" r="4.50"/><circle cx="555.7" cy="1142.4" r="4.50"/><circle cx="558.6" cy="1142.5" r="4.50"/><circle cx="561.5" cy="1142.7" r="4.50"/><circle cx="564.4" cy="1142.9" r="4.50"/><circle cx="567.3" cy="1143.0" r="4.50"/><circle cx="570.2" cy="1143.2" r="4.50"/><circle cx="573.1" cy="1143.3" r="4.50"/><circle cx="576.0" cy="1143.5" r="4.50"/><circle cx="578.9" cy="1143.6" r="4.50"/><circle cx="581.8" cy="1143.8" r="4.50"/><circle cx="584.7" cy="1143.9" r="4.50"/><circle cx="587.6" cy="1144.0" r="4.50"/><circle cx="590.5" cy="1144.2" r="4.50"/><circle cx="593.4" cy="1144.3" r="4.50"/><circle cx="596.3" cy="1144.4" r="4.50"/><circle cx="599.2" cy="1144.5" r="4.50"/><circle cx="602.1" cy="1144.7" r="4.50"/><circle cx="605.0" cy="1144.8" r="4.50"/><circle cx="607.9" cy="1144.9" r="4.50"/><circle cx="610.8" cy="1145.0" r="4.50"/><circle cx="613.7" cy="1145.1" r="4.50"/><circle cx="616.6" cy="1145.2" r="4.50"/><circle cx="619.5" cy="1145.3" r="4.50"/><circle cx="622.4" cy="1145.4" r="4.50"/><circle cx="625.2" cy="1145.5" r="4.50"/><circle cx="628.1" cy="1145.6" r="4.50"/><circle cx="631.0" cy="1145.7" r="4.50"/><circle cx="633.9" cy="1145.8" r="4.50"/><circle cx="636.8" cy="1145.9" r="4.50"/><circle cx="639.7" cy="1146.0" r="4.50"/><circle cx="642.6" cy="1146.1" r="4.50"/><circle cx="645.5" cy="1146.2" r="4.50"/><circle cx="648.4" cy="1146.3" r="4.50"/><circle cx="651.3" cy="1146.3" r="4.50"/><circle cx="654.2" cy="1146.4" r="4.50"/><circle cx="657.1" cy="1146.5" r="4.50"/><circle cx="660.0" cy="1146.6" r="4.50"/><circle cx="662.9" cy="1146.7" r="4.50"/><circle cx="665.8" cy="1146.7" r="4.50"/><circle cx="668.7" cy="1146.8" r="4.50"/><circle cx="671.6" cy="1146.9" r="4.50"/><circle cx="674.5" cy="1147.0" r="4.50"/><circle cx="677.4" cy="1147.0" r="4.50"/><circle cx="680.3" cy="1147.1" r="4.50"/><circle cx="683.2" cy="1147.2" r="4.50"/><circle cx="686.1" cy="1147.2" r="4.50"/><circle cx="689.0" cy="1147.3" r="4.50"/><circle cx="691.9" cy="1147.4" r="4.50"/><circle cx="694.8" cy="1147.5" r="4.50"/><circle cx="697.7" cy="1147.5" r="4.50"/><circle cx="700.6" cy="1147.6" r="4.50"/><circle cx="703.5" cy="1147.6" r="4.50"/><circle cx="706.4" cy="1147.7" r="4.50"/><circle cx="709.3" cy="1147.8" r="4.50"/><circle cx="712.2" cy="1147.8" r="4.50"/><circle cx="715.1" cy="1147.9" r="4.50"/><circle cx="718.0" cy="1148.0" r="4.50"/><circle cx="720.9" cy="1148.0" r="4.50"/><circle cx="723.8" cy="1148.1" r="4.50"/><circle cx="726.7" cy="1148.2" r="4.50"/><circle cx="729.6" cy="1148.2" r="4.50"/><circle cx="732.5" cy="1148.3" r="4.50"/><circle cx="735.4" cy="1148.4" r="4.50"/><circle cx="738.3" cy="1148.4" r="4.50"/><circle cx="741.2" cy="1148.5" r="4.50"/><circle cx="744.1" cy="1148.6" r="4.50"/><circle cx="747.0" cy="1148.6" r="4.50"/><circle cx="749.9" cy="1148.7" r="4.50"/><circle cx="752.8" cy="1148.8" r="4.50"/><circle cx="755.7" cy="1148.8" r="4.50"/><circle cx="758.6" cy="1148.9" r="4.50"/><circle cx="761.5" cy="1149.0" r="4.50"/><circle cx="764.4" cy="1149.0" r="4.50"/><circle cx="767.3" cy="1149.1" r="4.50"/><circle cx="770.2" cy="1149.2" r="4.50"/><circle cx="773.1" cy="1149.2" r="4.50"/><circle cx="776.0" cy="1149.3" r="4.50"/><circle cx="778.9" cy="1149.4" r="4.50"/><circle cx="781.8" cy="1149.5" r="4.50"/><circle cx="784.7" cy="1149.6" r="4.50"/><circle cx="787.6" cy="1149.6" r="4.50"/><circle cx="790.5" cy="1149.7" r="4.50"/><circle cx="793.4" cy="1149.8" r="4.50"/><circle cx="796.3" cy="1149.9" r="4.50"/><circle cx="799.2" cy="1150.0" r="4.50"/><circle cx="802.1" cy="1150.1" r="4.50"/><circle cx="805.0" cy="1150.2" r="4.50"/><circle cx="807.9" cy="1150.2" r="4.50"/><circle cx="810.8" cy="1150.3" r="4.50"/><circle cx="813.7" cy="1150.4" r="4.50"/><circle cx="816.6" cy="1150.5" r="4.50"/><circle cx="819.5" cy="1150.6" r="4.50"/><circle cx="822.4" cy="1150.7" r="4.50"/><circle cx="825.3" cy="1150.8" r="4.50"/><circle cx="828.2" cy="1151.0" r="4.50"/><circle cx="831.1" cy="1151.1" r="4.50"/></g>
<path d="M174.7 1057.0L175.6 1057.4L176.5 1057.8L177.4 1058.1L178.3 1058.5L179.3 1058.9L180.2 1059.3L181.1 1059.6L182.0 1060.0L182.9 1060.3L183.9 1060.7L184.8 1061.0L185.7 1061.3L186.7 1061.7L187.6 1062.0L188.5 1062.3L189.5 1062.6L190.4 1062.9L191.3 1063.2L192.3 1063.5L193.2 1063.8L194.2 1064.1L195.1 1064.4L196.1 1064.6L197.0 1064.9L198.0 1065.2L198.9 1065.5L199.9 1065.7L200.8 1066.0L201.8 1066.3L202.8 1066.5L203.7 1066.8L204.7 1067.0L205.6 1067.3L206.6 1067.6L207.5 1067.8L208.5 1068.1L209.5 1068.3L210.4 1068.6L211.4 1068.8L212.3 1069.1L213.3 1069.4L214.3 1069.6L215.2 1069.9L216.2 1070.1L217.1 1070.4L218.1 1070.6L219.1 1070.9L220.0 1071.1L221.0 1071.4L221.9 1071.6L222.9 1071.9L223.9 1072.2L224.8 1072.4L225.8 1072.7L226.7 1072.9L227.7 1073.2L228.7 1073.4L229.6 1073.6L230.6 1073.9L231.6 1074.1L232.5 1074.4L233.5 1074.6L234.4 1074.9L235.4 1075.1L236.4 1075.4L237.3 1075.6L238.3 1075.8L239.3 1076.1L240.2 1076.3L241.2 1076.5L242.2 1076.8L243.1 1077.0L244.1 1077.2L245.0 1077.5L246.0 1077.7L247.0 1077.9L247.9 1078.1L248.9 1078.4L249.9 1078.6L250.8 1078.8L251.8 1079.0L252.8 1079.2L253.8 1079.4L254.7 1079.6L255.7 1079.9L256.7 1080.1L257.6 1080.3L258.6 1080.5L259.6 1080.7L260.5 1080.9L261.5 1081.1L262.5 1081.3L263.5 1081.5L264.4 1081.7L265.4 1081.9L266.4 1082.1L267.3 1082.4L268.3 1082.6L269.3 1082.8L270.2 1083.0L271.2 1083.2L272.2 1083.4L273.2 1083.6L274.1 1083.8L275.1 1084.1L276.1 1084.3L277.0 1084.5L278.0 1084.7L279.0 1084.9L279.9 1085.2L280.9 1085.4L281.9 1085.6L282.8 1085.9L283.8 1086.1L284.7 1086.3L285.7 1086.6L286.7 1086.8L287.6 1087.1L288.6 1087.3L289.6 1087.6L290.5 1087.8L291.5 1088.1L292.4 1088.3L293.4 1088.6L294.3 1088.8L295.3 1089.1L296.3 1089.4L297.2 1089.6L298.2 1089.9L299.1 1090.2L300.1 1090.4L301.0 1090.7L302.0 1091.0L302.9 1091.3L303.9 1091.5L304.9 1091.8L305.8 1092.1L306.8 1092.4L307.7 1092.7L308.7 1093.0L309.6 1093.2L310.6 1093.5L311.5 1093.8L312.5 1094.1L313.4 1094.4L314.4 1094.7L315.3 1095.0L316.3 1095.2L317.2 1095.5L318.2 1095.8L319.1 1096.1L320.1 1096.4L321.0 1096.7L322.0 1097.0L322.9 1097.3L323.9 1097.6L324.8 1097.9L325.8 1098.1L326.7 1098.4L327.7 1098.7L328.7 1099.0L329.6 1099.3L330.6 1099.6L331.5 1099.9L332.5 1100.2L333.4 1100.4L334.4 1100.7L335.3 1101.0L336.3 1101.3L337.2 1101.6L338.2 1101.9L339.1 1102.1L340.1 1102.4L341.0 1102.7L342.0 1103.0L343.0 1103.2L343.9 1103.5L344.9 1103.8L345.8 1104.0L346.8 1104.3L347.7 1104.6L348.7 1104.8L349.7 1105.1L350.6 1105.4L351.6 1105.6L352.5 1105.9L353.5 1106.1L354.5 1106.4L355.4 1106.6L356.4 1106.9L357.4 1107.1L358.3 1107.3L359.3 1107.6L360.2 1107.8L361.2 1108.0L362.2 1108.3L363.1 1108.5L364.1 1108.7L365.1 1108.9L366.0 1109.2L367.0 1109.4L368.0 1109.6L369.0 1109.8L369.9 1110.0L370.9 1110.3L371.9 1110.5L372.8 1110.7L373.8 1110.9L374.8 1111.1L375.7 1111.3L376.7 1111.5L377.7 1111.7L378.7 1111.9L379.6 1112.2L380.6 1112.4L381.6 1112.6L382.5 1112.8L383.5 1113.0L384.5 1113.2L385.5 1113.4L386.4 1113.6L387.4 1113.8L388.4 1114.0L389.4 1114.2L390.3 1114.4L391.3 1114.6L392.3 1114.9L393.2 1115.1L394.2 1115.3L395.2 1115.5L396.2 1115.7L397.1 1115.9L398.1 1116.1L399.1 1116.4L400.0 1116.6L401.0 1116.8L402.0 1117.0L402.9 1117.2L403.9 1117.5L404.9 1117.7L405.9 1117.9L406.8 1118.1L407.8 1118.4L408.8 1118.6L409.7 1118.8L410.7 1119.1L411.7 1119.3L412.6 1119.5L413.6 1119.8L414.6 1120.0L415.5 1120.2L416.5 1120.5L417.5 1120.7L418.4 1121.0L419.4 1121.2L420.3 1121.4L421.3 1121.7L422.3 1121.9L423.2 1122.1L424.2 1122.4L425.2 1122.6L426.1 1122.9L427.1 1123.1L428.1 1123.3L429.0 1123.6L430.0 1123.8L431.0 1124.0L431.9 1124.3L432.9 1124.5L433.9 1124.7L434.8 1125.0L435.8 1125.2L436.8 1125.4L437.7 1125.7L438.7 1125.9L439.7 1126.1L440.6 1126.4L441.6 1126.6L442.6 1126.8L443.5 1127.0L444.5 1127.3L445.5 1127.5L446.4 1127.7L447.4 1127.9L448.4 1128.1L449.3 1128.3L450.3 1128.6L451.3 1128.8L452.2 1129.0L453.2 1129.2L454.2 1129.4L455.1 1129.6L456.1 1129.8L457.1 1130.0L458.1 1130.2L459.0 1130.4L460.0 1130.6L461.0 1130.8L462.0 1130.9L462.9 1131.1L463.9 1131.3L464.9 1131.5L465.8 1131.7L466.8 1131.8L467.8 1132.0L468.8 1132.2L469.8 1132.4L470.7 1132.5L471.7 1132.7L472.7 1132.8L473.7 1133.0L474.6 1133.2L475.6 1133.3L476.6 1133.5L477.6 1133.6L478.6 1133.8L479.5 1133.9L480.5 1134.0L481.5 1134.2L482.5 1134.3L483.5 1134.5L484.4 1134.6L485.4 1134.7L486.4 1134.9L487.4 1135.0L488.4 1135.1L489.3 1135.2L490.3 1135.4L491.3 1135.5L492.3 1135.6L493.3 1135.7L494.3 1135.8L495.3 1136.0L496.2 1136.1L497.2 1136.2L498.2 1136.3L499.2 1136.4L500.2 1136.5L501.2 1136.6L502.2 1136.7L503.1 1136.8L504.1 1136.9L505.1 1137.0L506.1 1137.1L507.1 1137.2L508.1 1137.3L509.1 1137.4L510.1 1137.5L511.1 1137.6L512.0 1137.6L513.0 1137.7L514.0 1137.8L515.0 1137.9L516.0 1138.0L517.0 1138.1L518.0 1138.1L519.0 1138.2L520.0 1138.3L521.0 1138.4L521.9 1138.4L522.9 1138.5L523.9 1138.6L524.9 1138.6L525.9 1138.7L526.9 1138.8L527.9 1138.8L528.9 1138.9L529.9 1139.0L530.9 1139.0L531.9 1139.1L532.9 1139.1L533.9 1139.2L534.9 1139.3L535.8 1139.3L536.8 1139.4L537.8 1139.4L538.8 1139.5L539.8 1139.5L540.8 1139.6L541.8 1139.6L542.8 1139.7L543.8 1139.7L544.8 1139.8L545.8 1139.8L546.8 1139.9L547.8 1139.9L548.8 1140.0L549.8 1140.0L550.8 1140.0L551.8 1140.1L552.8 1140.1L553.8 1140.2L554.8 1140.2L555.7 1140.2L556.7 1140.3L557.7 1140.3L558.7 1140.4L559.7 1140.4L560.7 1140.4L561.7 1140.5L562.7 1140.5L563.7 1140.5L564.7 1140.6L565.7 1140.6L566.7 1140.6L567.7 1140.7L568.7 1140.7L569.7 1140.7L570.7 1140.8L571.7 1140.8L572.7 1140.8L573.7 1140.9L574.7 1140.9L575.7 1140.9L576.7 1141.0L577.7 1141.0L578.7 1141.0L579.7 1141.0L580.7 1141.1L581.7 1141.1L582.7 1141.1L583.7 1141.2L584.7 1141.2L585.7 1141.2L586.6 1141.3L587.6 1141.3L588.6 1141.3L589.6 1141.3L590.6 1141.4L591.6 1141.4L592.6 1141.4L593.6 1141.5L594.6 1141.5L595.6 1141.5L596.6 1141.5L597.6 1141.6L598.6 1141.6L599.6 1141.6L600.6 1141.7L601.6 1141.7L602.6 1141.7L603.6 1141.8L604.6 1141.8L605.6 1141.8L606.6 1141.8L607.6 1141.9L608.6 1141.9L609.6 1141.9L610.6 1142.0L611.5 1142.0L612.5 1142.0L613.5 1142.1L614.5 1142.1L615.5 1142.1L616.5 1142.2L617.5 1142.2L618.5 1142.2L619.5 1142.3L620.5 1142.3L621.5 1142.3L622.5 1142.4L623.5 1142.4L624.5 1142.4L625.5 1142.5L626.5 1142.5L627.5 1142.5L628.5 1142.6L629.4 1142.6L630.4 1142.6L631.4 1142.7L632.4 1142.7L633.4 1142.8L634.4 1142.8L635.4 1142.8L636.4 1142.9L637.4 1142.9L638.4 1142.9L639.4 1143.0L640.4 1143.0L641.4 1143.0L642.4 1143.1L643.4 1143.1L644.3 1143.2L645.3 1143.2L646.3 1143.2L647.3 1143.3L648.3 1143.3L649.3 1143.3L650.3 1143.4L651.3 1143.4L652.3 1143.5L653.3 1143.5L654.3 1143.5L655.3 1143.6L656.3 1143.6L657.3 1143.6L658.2 1143.7L659.2 1143.7L660.2 1143.8L661.2 1143.8L662.2 1143.8L663.2 1143.9L664.2 1143.9L665.2 1144.0L666.2 1144.0L667.2 1144.0L668.2 1144.1L669.2 1144.1L670.1 1144.1L671.1 1144.2L672.1 1144.2L673.1 1144.3L674.1 1144.3L675.1 1144.3L676.1 1144.4L677.1 1144.4L678.1 1144.5L679.1 1144.5L680.1 1144.5L681.1 1144.6L682.1 1144.6L683.0 1144.7L684.0 1144.7L685.0 1144.7L686.0 1144.8L687.0 1144.8L688.0 1144.8L689.0 1144.9L690.0 1144.9L691.0 1145.0L692.0 1145.0L693.0 1145.0L693.9 1145.1L694.9 1145.1L695.9 1145.2L696.9 1145.2L697.9 1145.2L698.9 1145.3L699.9 1145.3L700.9 1145.4L701.9 1145.4L702.9 1145.4L703.9 1145.5L704.9 1145.5L705.8 1145.5L706.8 1145.6L707.8 1145.6L708.8 1145.7L709.8 1145.7L710.8 1145.7L711.8 1145.8L712.8 1145.8L713.8 1145.8L714.8 1145.9L715.8 1145.9L716.8 1146.0L717.7 1146.0L718.7 1146.0L719.7 1146.1L720.7 1146.1L721.7 1146.1L722.7 1146.2L723.7 1146.2L724.7 1146.3L725.7 1146.3L726.7 1146.3L727.7 1146.4L728.7 1146.4L729.6 1146.4L730.6 1146.5L731.6 1146.5L732.6 1146.5L733.6 1146.6L734.6 1146.6L735.6 1146.6L736.6 1146.7L737.6 1146.7L738.6 1146.8L739.6 1146.8L740.6 1146.8L741.5 1146.9L742.5 1146.9L743.5 1146.9L744.5 1147.0L745.5 1147.0L746.5 1147.0L747.5 1147.1L748.5 1147.1L749.5 1147.1L750.5 1147.2L751.5 1147.2L752.5 1147.2L753.5 1147.3L754.4 1147.3L755.4 1147.3L756.4 1147.3L757.4 1147.4L758.4 1147.4L759.4 1147.4L760.4 1147.5L761.4 1147.5L762.4 1147.5L763.4 1147.6L764.4 1147.6L765.4 1147.6L766.4 1147.6L767.3 1147.7L768.3 1147.7L769.3 1147.7L770.3 1147.8L771.3 1147.8L772.3 1147.8L773.3 1147.8L774.3 1147.9L775.3 1147.9L776.3 1147.9L777.3 1148.0L778.3 1148.0L779.3 1148.0L780.3 1148.0L781.3 1148.1L782.2 1148.1L783.2 1148.1L784.2 1148.1L785.2 1148.2L786.2 1148.2L787.2 1148.2L788.2 1148.2L789.2 1148.3L790.2 1148.3L791.2 1148.3L792.2 1148.3L793.2 1148.3L794.2 1148.4L795.2 1148.4L796.2 1148.4L797.2 1148.4L798.2 1148.5L799.1 1148.5L800.1 1148.5L801.1 1148.5L802.1 1148.5L803.1 1148.6L804.1 1148.6L805.1 1148.6L806.1 1148.6L807.1 1148.6L808.1 1148.6L809.1 1148.7L810.1 1148.7L811.1 1148.7L812.1 1148.7L813.1 1148.7L814.1 1148.7L815.1 1148.8L816.1 1148.8L817.1 1148.8L818.1 1148.8L819.1 1148.8L820.1 1148.8L821.0 1148.8L822.0 1148.8L823.0 1148.9L824.0 1148.9L825.0 1148.9L826.0 1148.9L827.0 1148.9L828.0 1148.9L829.0 1148.9L830.0 1148.9L831.0 1148.9L832.0 1149.0" fill="none" stroke="#30359a" stroke-width="2.80" stroke-linejoin="round" stroke-linecap="butt" />
<rect x="102.5" y="655.4" width="731.5" height="537.0" fill="none" stroke="#111" stroke-width="2.50"/>
<line x1="102.5" y1="1138.7" x2="109.5" y2="1138.7" stroke="#111" stroke-width="2.50"/>
<line x1="175.7" y1="1192.4" x2="175.7" y2="1185.4" stroke="#111" stroke-width="2.50"/>
<line x1="102.5" y1="1085.0" x2="113.5" y2="1085.0" stroke="#111" stroke-width="2.50"/>
<line x1="248.8" y1="1192.4" x2="248.8" y2="1181.4" stroke="#111" stroke-width="2.50"/>
<line x1="102.5" y1="1031.3" x2="109.5" y2="1031.3" stroke="#111" stroke-width="2.50"/>
<line x1="321.9" y1="1192.4" x2="321.9" y2="1185.4" stroke="#111" stroke-width="2.50"/>
<line x1="102.5" y1="977.6" x2="113.5" y2="977.6" stroke="#111" stroke-width="2.50"/>
<line x1="395.1" y1="1192.4" x2="395.1" y2="1181.4" stroke="#111" stroke-width="2.50"/>
<line x1="102.5" y1="923.9" x2="109.5" y2="923.9" stroke="#111" stroke-width="2.50"/>
<line x1="468.2" y1="1192.4" x2="468.2" y2="1185.4" stroke="#111" stroke-width="2.50"/>
<line x1="102.5" y1="870.2" x2="113.5" y2="870.2" stroke="#111" stroke-width="2.50"/>
<line x1="541.4" y1="1192.4" x2="541.4" y2="1181.4" stroke="#111" stroke-width="2.50"/>
<line x1="102.5" y1="816.5" x2="109.5" y2="816.5" stroke="#111" stroke-width="2.50"/>
<line x1="614.5" y1="1192.4" x2="614.5" y2="1185.4" stroke="#111" stroke-width="2.50"/>
<line x1="102.5" y1="762.8" x2="113.5" y2="762.8" stroke="#111" stroke-width="2.50"/>
<line x1="687.7" y1="1192.4" x2="687.7" y2="1181.4" stroke="#111" stroke-width="2.50"/>
<line x1="102.5" y1="709.1" x2="109.5" y2="709.1" stroke="#111" stroke-width="2.50"/>
<line x1="760.9" y1="1192.4" x2="760.9" y2="1185.4" stroke="#111" stroke-width="2.50"/>
<text x="89.5" y="1200.7" font-size="26.0" text-anchor="end" fill="#111" >0</text>
<text x="102.5" y="1225.3" font-size="26.0" text-anchor="middle" fill="#111" >0</text>
<text x="89.5" y="1093.3" font-size="26.0" text-anchor="end" fill="#111" >5</text>
<text x="248.8" y="1225.3" font-size="26.0" text-anchor="middle" fill="#111" >5</text>
<text x="89.5" y="985.9" font-size="26.0" text-anchor="end" fill="#111" >10</text>
<text x="395.1" y="1225.3" font-size="26.0" text-anchor="middle" fill="#111" >10</text>
<text x="89.5" y="878.5" font-size="26.0" text-anchor="end" fill="#111" >15</text>
<text x="541.4" y="1225.3" font-size="26.0" text-anchor="middle" fill="#111" >15</text>
<text x="89.5" y="771.1" font-size="26.0" text-anchor="end" fill="#111" >20</text>
<text x="687.7" y="1225.3" font-size="26.0" text-anchor="middle" fill="#111" >20</text>
<text x="89.5" y="663.7" font-size="26.0" text-anchor="end" fill="#111" >25</text>
<text x="834.0" y="1225.3" font-size="26.0" text-anchor="middle" fill="#111" >25</text>
<text x="468.0" y="1268.0" font-size="26.0" text-anchor="middle" fill="#111" >T (K)</text>
<text transform="translate(49.2,923.5) rotate(-90)" font-size="26.5" text-anchor="middle" fill="#111"><tspan font-family="Liberation Serif" font-size="27">&#967;</tspan> (10<tspan dy="-11" font-size="17">-3</tspan><tspan dy="11"> emu / mol)</tspan></text>
<text x="644.7" y="703.7" font-size="26.5" text-anchor="start" fill="#111" >ZFC 250 Oe</text>
<circle cx="622.6" cy="694.2" r="4.9" fill="none" stroke="#111" stroke-width="3.4"/>
<text x="645.3" y="733.0" font-size="26.5" text-anchor="start" fill="#111" >FC 250 Oe</text>
<line x1="576" y1="724.0" x2="627.7" y2="724.0" stroke="#111" stroke-width="3"/>
<text x="644.7" y="770.4" font-size="26.5" text-anchor="start" fill="#dc2320" >ZFC 1000 Oe</text>
<circle cx="622.6" cy="760.9" r="4.9" fill="none" stroke="#dc2320" stroke-width="3.4"/>
<text x="646.4" y="799.2" font-size="26.5" text-anchor="start" fill="#dc2320" >FC 1000 Oe</text>
<line x1="576" y1="790.2" x2="627.7" y2="790.2" stroke="#dc2320" stroke-width="3"/>
<text x="644.7" y="837.4" font-size="26.5" text-anchor="start" fill="#30359a" >ZFC 2500 Oe</text>
<circle cx="622.6" cy="827.9" r="4.9" fill="none" stroke="#30359a" stroke-width="3.4"/>
<text x="649.7" y="861.8" font-size="26.5" text-anchor="start" fill="#30359a" >FC 2500 Oe</text>
<line x1="576" y1="852.8" x2="627.7" y2="852.8" stroke="#30359a" stroke-width="3"/>
<clipPath id="cb"><rect x="102.3" y="1308.8" width="731.7" height="538.2"/></clipPath><g clip-path="url(#cb)">
<g fill="none" stroke="#161616" stroke-width="2.00"><circle cx="103.5" cy="1846.3" r="4.50"/><circle cx="105.1" cy="1846.2" r="4.50"/><circle cx="106.8" cy="1845.7" r="4.50"/><circle cx="108.7" cy="1845.5" r="4.50"/><circle cx="110.1" cy="1844.6" r="4.50"/><circle cx="111.3" cy="1844.1" r="4.50"/><circle cx="112.9" cy="1843.8" r="4.50"/><circle cx="114.3" cy="1843.1" r="4.50"/><circle cx="116.2" cy="1842.4" r="4.50"/><circle cx="117.6" cy="1842.6" r="4.50"/><circle cx="118.9" cy="1841.7" r="4.50"/><circle cx="120.5" cy="1841.8" r="4.50"/><circle cx="122.2" cy="1840.6" r="4.50"/><circle cx="123.6" cy="1841.0" r="4.50"/><circle cx="125.6" cy="1840.5" r="4.50"/><circle cx="126.8" cy="1839.3" r="4.50"/><circle cx="128.4" cy="1839.3" r="4.50"/><circle cx="129.9" cy="1839.4" r="4.50"/><circle cx="131.5" cy="1838.6" r="4.50"/><circle cx="133.2" cy="1837.9" r="4.50"/><circle cx="134.3" cy="1837.4" r="4.50"/><circle cx="136.3" cy="1837.3" r="4.50"/><circle cx="137.4" cy="1837.0" r="4.50"/><circle cx="139.2" cy="1835.8" r="4.50"/><circle cx="140.8" cy="1835.7" r="4.50"/><circle cx="141.8" cy="1835.5" r="4.50"/><circle cx="143.6" cy="1834.8" r="4.50"/><circle cx="145.4" cy="1833.8" r="4.50"/><circle cx="146.4" cy="1833.8" r="4.50"/><circle cx="148.4" cy="1833.3" r="4.50"/><circle cx="149.6" cy="1832.8" r="4.50"/><circle cx="151.4" cy="1832.8" r="4.50"/><circle cx="152.5" cy="1831.6" r="4.50"/><circle cx="154.4" cy="1831.6" r="4.50"/><circle cx="155.7" cy="1831.5" r="4.50"/><circle cx="157.8" cy="1830.7" r="4.50"/><circle cx="159.0" cy="1830.6" r="4.50"/><circle cx="160.5" cy="1829.5" r="4.50"/><circle cx="162.1" cy="1829.2" r="4.50"/><circle cx="163.8" cy="1828.9" r="4.50"/><circle cx="165.2" cy="1828.7" r="4.50"/><circle cx="166.7" cy="1827.9" r="4.50"/><circle cx="168.0" cy="1828.2" r="4.50"/><circle cx="170.2" cy="1826.8" r="4.50"/><circle cx="171.0" cy="1827.0" r="4.50"/><circle cx="172.7" cy="1826.3" r="4.50"/><circle cx="174.7" cy="1825.9" r="4.50"/><circle cx="175.9" cy="1825.3" r="4.50"/><circle cx="177.5" cy="1825.1" r="4.50"/><circle cx="179.6" cy="1824.9" r="4.50"/><circle cx="180.5" cy="1824.4" r="4.50"/><circle cx="182.1" cy="1823.2" r="4.50"/><circle cx="183.6" cy="1823.5" r="4.50"/><circle cx="185.0" cy="1823.0" r="4.50"/><circle cx="186.6" cy="1822.3" r="4.50"/><circle cx="187.9" cy="1822.5" r="4.50"/><circle cx="189.9" cy="1821.7" r="4.50"/><circle cx="191.2" cy="1820.5" r="4.50"/><circle cx="193.2" cy="1820.3" r="4.50"/><circle cx="194.9" cy="1820.0" r="4.50"/><circle cx="196.4" cy="1819.4" r="4.50"/><circle cx="196.9" cy="1819.4" r="4.50"/><circle cx="199.0" cy="1818.7" r="4.50"/><circle cx="200.9" cy="1818.0" r="4.50"/><circle cx="201.7" cy="1817.4" r="4.50"/><circle cx="203.1" cy="1816.8" r="4.50"/><circle cx="204.8" cy="1816.6" r="4.50"/><circle cx="206.5" cy="1816.1" r="4.50"/><circle cx="208.2" cy="1816.2" r="4.50"/><circle cx="209.7" cy="1815.7" r="4.50"/><circle cx="211.0" cy="1815.2" r="4.50"/><circle cx="212.9" cy="1814.4" r="4.50"/><circle cx="213.9" cy="1814.1" r="4.50"/><circle cx="215.9" cy="1814.1" r="4.50"/><circle cx="217.3" cy="1813.7" r="4.50"/><circle cx="218.2" cy="1812.7" r="4.50"/><circle cx="220.3" cy="1812.2" r="4.50"/><circle cx="221.8" cy="1811.9" r="4.50"/><circle cx="224.0" cy="1811.4" r="4.50"/><circle cx="225.4" cy="1811.0" r="4.50"/><circle cx="226.6" cy="1809.8" r="4.50"/><circle cx="228.1" cy="1810.3" r="4.50"/><circle cx="229.3" cy="1809.5" r="4.50"/><circle cx="230.9" cy="1809.8" r="4.50"/><circle cx="232.4" cy="1808.5" r="4.50"/><circle cx="233.5" cy="1807.8" r="4.50"/><circle cx="235.9" cy="1807.5" r="4.50"/><circle cx="236.5" cy="1807.3" r="4.50"/><circle cx="238.9" cy="1807.0" r="4.50"/><circle cx="240.5" cy="1806.3" r="4.50"/><circle cx="242.8" cy="1805.9" r="4.50"/><circle cx="243.6" cy="1805.2" r="4.50"/><circle cx="244.8" cy="1804.7" r="4.50"/><circle cx="246.6" cy="1804.6" r="4.50"/><circle cx="247.8" cy="1803.7" r="4.50"/><circle cx="249.8" cy="1804.0" r="4.50"/><circle cx="251.4" cy="1803.3" r="4.50"/><circle cx="252.9" cy="1803.2" r="4.50"/><circle cx="254.4" cy="1802.9" r="4.50"/><circle cx="255.7" cy="1802.1" r="4.50"/><circle cx="256.9" cy="1802.2" r="4.50"/><circle cx="258.6" cy="1801.2" r="4.50"/><circle cx="260.6" cy="1800.4" r="4.50"/><circle cx="261.9" cy="1800.4" r="4.50"/><circle cx="263.4" cy="1799.7" r="4.50"/><circle cx="264.9" cy="1799.1" r="4.50"/><circle cx="266.5" cy="1799.0" r="4.50"/><circle cx="268.2" cy="1798.8" r="4.50"/><circle cx="269.6" cy="1797.8" r="4.50"/><circle cx="271.4" cy="1797.6" r="4.50"/><circle cx="273.0" cy="1797.1" r="4.50"/><circle cx="274.4" cy="1796.8" r="4.50"/><circle cx="276.0" cy="1795.9" r="4.50"/><circle cx="277.3" cy="1795.8" r="4.50"/><circle cx="279.3" cy="1795.3" r="4.50"/><circle cx="280.5" cy="1794.8" r="4.50"/><circle cx="281.3" cy="1794.8" r="4.50"/><circle cx="283.6" cy="1794.3" r="4.50"/><circle cx="284.6" cy="1793.6" r="4.50"/><circle cx="286.6" cy="1792.6" r="4.50"/><circle cx="288.2" cy="1792.4" r="4.50"/><circle cx="289.7" cy="1791.7" r="4.50"/><circle cx="290.9" cy="1791.5" r="4.50"/><circle cx="292.2" cy="1791.3" r="4.50"/><circle cx="294.6" cy="1790.8" r="4.50"/><circle cx="295.9" cy="1790.8" r="4.50"/><circle cx="297.4" cy="1789.8" r="4.50"/><circle cx="298.2" cy="1789.6" r="4.50"/><circle cx="300.2" cy="1788.9" r="4.50"/><circle cx="302.1" cy="1788.7" r="4.50"/><circle cx="302.9" cy="1788.2" r="4.50"/><circle cx="304.8" cy="1787.9" r="4.50"/><circle cx="306.5" cy="1787.5" r="4.50"/><circle cx="307.8" cy="1786.6" r="4.50"/><circle cx="309.4" cy="1786.3" r="4.50"/><circle cx="311.0" cy="1786.2" r="4.50"/><circle cx="312.3" cy="1785.4" r="4.50"/><circle cx="313.8" cy="1784.5" r="4.50"/><circle cx="315.5" cy="1784.1" r="4.50"/><circle cx="317.3" cy="1783.8" r="4.50"/><circle cx="318.6" cy="1783.7" r="4.50"/><circle cx="320.8" cy="1783.0" r="4.50"/><circle cx="321.2" cy="1782.6" r="4.50"/><circle cx="323.4" cy="1782.6" r="4.50"/><circle cx="324.9" cy="1781.6" r="4.50"/><circle cx="326.7" cy="1781.7" r="4.50"/><circle cx="327.9" cy="1781.0" r="4.50"/><circle cx="329.6" cy="1781.2" r="4.50"/><circle cx="330.9" cy="1779.9" r="4.50"/><circle cx="332.6" cy="1779.8" r="4.50"/><circle cx="334.0" cy="1779.3" r="4.50"/><circle cx="335.9" cy="1779.3" r="4.50"/><circle cx="337.1" cy="1778.1" r="4.50"/><circle cx="338.6" cy="1777.2" r="4.50"/><circle cx="339.9" cy="1777.4" r="4.50"/><circle cx="341.8" cy="1777.7" r="4.50"/><circle cx="343.7" cy="1776.7" r="4.50"/><circle cx="345.3" cy="1775.8" r="4.50"/><circle cx="346.2" cy="1775.3" r="4.50"/><circle cx="347.9" cy="1775.7" r="4.50"/><circle cx="349.4" cy="1774.4" r="4.50"/><circle cx="351.0" cy="1774.4" r="4.50"/><circle cx="352.7" cy="1774.0" r="4.50"/><circle cx="353.7" cy="1773.0" r="4.50"/><circle cx="355.6" cy="1772.9" r="4.50"/><circle cx="357.6" cy="1772.0" r="4.50"/><circle cx="358.9" cy="1771.9" r="4.50"/><circle cx="360.4" cy="1771.3" r="4.50"/><circle cx="361.4" cy="1771.4" r="4.50"/><circle cx="363.4" cy="1770.0" r="4.50"/><circle cx="365.1" cy="1769.8" r="4.50"/><circle cx="366.3" cy="1769.7" r="4.50"/><circle cx="367.5" cy="1769.6" r="4.50"/><circle cx="369.3" cy="1769.3" r="4.50"/><circle cx="371.1" cy="1768.5" r="4.50"/><circle cx="372.6" cy="1768.5" r="4.50"/><circle cx="373.8" cy="1767.2" r="4.50"/><circle cx="375.4" cy="1767.3" r="4.50"/><circle cx="377.4" cy="1766.6" r="4.50"/><circle cx="378.7" cy="1765.6" r="4.50"/><circle cx="380.6" cy="1765.6" r="4.50"/><circle cx="381.8" cy="1765.1" r="4.50"/><circle cx="383.5" cy="1764.7" r="4.50"/><circle cx="384.8" cy="1764.3" r="4.50"/><circle cx="386.2" cy="1763.7" r="4.50"/><circle cx="388.0" cy="1763.5" r="4.50"/><circle cx="389.6" cy="1763.4" r="4.50"/><circle cx="390.6" cy="1762.0" r="4.50"/><circle cx="392.4" cy="1762.4" r="4.50"/><circle cx="394.0" cy="1761.1" r="4.50"/><circle cx="396.0" cy="1761.3" r="4.50"/><circle cx="396.6" cy="1760.5" r="4.50"/><circle cx="398.7" cy="1760.1" r="4.50"/><circle cx="400.1" cy="1760.0" r="4.50"/><circle cx="401.7" cy="1759.8" r="4.50"/><circle cx="403.2" cy="1759.4" r="4.50"/><circle cx="404.6" cy="1758.1" r="4.50"/><circle cx="405.7" cy="1757.8" r="4.50"/><circle cx="407.9" cy="1757.9" r="4.50"/><circle cx="408.3" cy="1757.1" r="4.50"/><circle cx="410.6" cy="1756.9" r="4.50"/><circle cx="412.3" cy="1756.3" r="4.50"/><circle cx="414.5" cy="1755.8" r="4.50"/><circle cx="415.5" cy="1755.6" r="4.50"/><circle cx="417.1" cy="1754.8" r="4.50"/><circle cx="418.1" cy="1754.3" r="4.50"/><circle cx="419.6" cy="1754.0" r="4.50"/><circle cx="421.8" cy="1753.5" r="4.50"/><circle cx="423.7" cy="1752.7" r="4.50"/><circle cx="424.9" cy="1752.6" r="4.50"/><circle cx="425.9" cy="1752.3" r="4.50"/><circle cx="428.0" cy="1752.1" r="4.50"/><circle cx="429.3" cy="1751.5" r="4.50"/><circle cx="430.7" cy="1751.3" r="4.50"/><circle cx="432.9" cy="1750.4" r="4.50"/><circle cx="434.0" cy="1749.6" r="4.50"/><circle cx="435.5" cy="1749.4" r="4.50"/><circle cx="437.1" cy="1748.6" r="4.50"/><circle cx="439.1" cy="1748.6" r="4.50"/><circle cx="440.4" cy="1748.3" r="4.50"/><circle cx="441.5" cy="1748.3" r="4.50"/><circle cx="443.5" cy="1746.8" r="4.50"/><circle cx="444.7" cy="1746.7" r="4.50"/><circle cx="446.0" cy="1747.0" r="4.50"/><circle cx="447.4" cy="1746.3" r="4.50"/><circle cx="448.8" cy="1745.8" r="4.50"/><circle cx="450.7" cy="1744.3" r="4.50"/><circle cx="452.5" cy="1744.7" r="4.50"/><circle cx="453.6" cy="1744.4" r="4.50"/><circle cx="454.9" cy="1744.0" r="4.50"/><circle cx="457.2" cy="1743.7" r="4.50"/><circle cx="458.4" cy="1743.0" r="4.50"/><circle cx="459.9" cy="1742.5" r="4.50"/><circle cx="461.7" cy="1742.1" r="4.50"/><circle cx="462.7" cy="1741.5" r="4.50"/><circle cx="464.8" cy="1741.4" r="4.50"/><circle cx="466.1" cy="1740.4" r="4.50"/><circle cx="467.9" cy="1740.2" r="4.50"/><circle cx="468.5" cy="1739.5" r="4.50"/><circle cx="471.1" cy="1739.0" r="4.50"/><circle cx="471.8" cy="1738.6" r="4.50"/><circle cx="473.9" cy="1738.0" r="4.50"/><circle cx="475.4" cy="1737.5" r="4.50"/><circle cx="476.9" cy="1737.4" r="4.50"/><circle cx="479.0" cy="1737.0" r="4.50"/><circle cx="480.4" cy="1736.5" r="4.50"/><circle cx="481.2" cy="1735.6" r="4.50"/><circle cx="483.3" cy="1735.1" r="4.50"/><circle cx="484.1" cy="1735.4" r="4.50"/><circle cx="485.9" cy="1734.3" r="4.50"/><circle cx="488.2" cy="1733.9" r="4.50"/><circle cx="489.4" cy="1733.7" r="4.50"/><circle cx="490.8" cy="1733.3" r="4.50"/><circle cx="492.6" cy="1733.3" r="4.50"/><circle cx="493.6" cy="1732.9" r="4.50"/><circle cx="495.3" cy="1731.9" r="4.50"/><circle cx="497.1" cy="1731.3" r="4.50"/><circle cx="498.2" cy="1731.5" r="4.50"/><circle cx="499.8" cy="1730.0" r="4.50"/><circle cx="500.5" cy="1730.2" r="4.50"/><circle cx="503.0" cy="1730.2" r="4.50"/><circle cx="504.2" cy="1728.9" r="4.50"/><circle cx="506.1" cy="1729.2" r="4.50"/><circle cx="508.1" cy="1728.4" r="4.50"/><circle cx="509.0" cy="1727.9" r="4.50"/><circle cx="511.2" cy="1727.4" r="4.50"/><circle cx="512.1" cy="1727.1" r="4.50"/><circle cx="513.9" cy="1726.6" r="4.50"/><circle cx="516.0" cy="1726.3" r="4.50"/><circle cx="516.9" cy="1725.6" r="4.50"/><circle cx="518.3" cy="1725.4" r="4.50"/><circle cx="520.2" cy="1724.6" r="4.50"/><circle cx="521.3" cy="1724.2" r="4.50"/><circle cx="522.7" cy="1724.2" r="4.50"/><circle cx="524.3" cy="1723.5" r="4.50"/><circle cx="526.4" cy="1722.7" r="4.50"/><circle cx="527.4" cy="1722.5" r="4.50"/><circle cx="529.3" cy="1722.1" r="4.50"/><circle cx="530.7" cy="1722.0" r="4.50"/><circle cx="532.1" cy="1721.0" r="4.50"/><circle cx="534.0" cy="1720.8" r="4.50"/><circle cx="535.6" cy="1720.6" r="4.50"/><circle cx="536.5" cy="1719.2" r="4.50"/><circle cx="538.5" cy="1719.4" r="4.50"/><circle cx="540.0" cy="1718.6" r="4.50"/><circle cx="541.7" cy="1718.4" r="4.50"/><circle cx="543.1" cy="1718.3" r="4.50"/><circle cx="544.5" cy="1717.5" r="4.50"/><circle cx="545.8" cy="1717.9" r="4.50"/><circle cx="547.2" cy="1716.9" r="4.50"/><circle cx="548.7" cy="1716.0" r="4.50"/><circle cx="551.1" cy="1715.6" r="4.50"/><circle cx="552.5" cy="1715.2" r="4.50"/><circle cx="554.0" cy="1714.5" r="4.50"/><circle cx="554.9" cy="1714.9" r="4.50"/><circle cx="556.9" cy="1713.7" r="4.50"/><circle cx="558.2" cy="1712.7" r="4.50"/><circle cx="559.8" cy="1712.7" r="4.50"/><circle cx="561.1" cy="1713.1" r="4.50"/><circle cx="562.8" cy="1712.0" r="4.50"/><circle cx="564.1" cy="1711.9" r="4.50"/><circle cx="566.2" cy="1711.0" r="4.50"/><circle cx="567.0" cy="1710.8" r="4.50"/><circle cx="569.1" cy="1709.8" r="4.50"/><circle cx="570.9" cy="1709.6" r="4.50"/><circle cx="572.2" cy="1709.2" r="4.50"/><circle cx="573.4" cy="1709.3" r="4.50"/><circle cx="575.2" cy="1708.1" r="4.50"/><circle cx="576.8" cy="1708.4" r="4.50"/><circle cx="578.2" cy="1708.0" r="4.50"/><circle cx="579.5" cy="1707.5" r="4.50"/><circle cx="581.4" cy="1706.8" r="4.50"/><circle cx="583.3" cy="1706.5" r="4.50"/><circle cx="584.3" cy="1706.0" r="4.50"/><circle cx="585.8" cy="1705.6" r="4.50"/><circle cx="587.9" cy="1705.3" r="4.50"/><circle cx="588.8" cy="1704.5" r="4.50"/><circle cx="590.8" cy="1704.2" r="4.50"/><circle cx="591.9" cy="1703.7" r="4.50"/><circle cx="593.8" cy="1703.6" r="4.50"/><circle cx="595.2" cy="1702.7" r="4.50"/><circle cx="596.4" cy="1701.9" r="4.50"/><circle cx="598.5" cy="1701.8" r="4.50"/><circle cx="599.6" cy="1701.7" r="4.50"/><circle cx="601.5" cy="1700.9" r="4.50"/><circle cx="603.1" cy="1700.4" r="4.50"/><circle cx="604.6" cy="1700.1" r="4.50"/><circle cx="605.8" cy="1699.5" r="4.50"/><circle cx="607.2" cy="1699.4" r="4.50"/><circle cx="609.0" cy="1698.4" r="4.50"/><circle cx="610.7" cy="1698.4" r="4.50"/><circle cx="612.1" cy="1697.8" r="4.50"/><circle cx="613.5" cy="1697.2" r="4.50"/><circle cx="615.4" cy="1696.5" r="4.50"/><circle cx="616.2" cy="1696.0" r="4.50"/><circle cx="618.5" cy="1695.7" r="4.50"/><circle cx="619.7" cy="1695.3" r="4.50"/><circle cx="621.0" cy="1695.0" r="4.50"/><circle cx="622.8" cy="1695.2" r="4.50"/><circle cx="624.2" cy="1694.3" r="4.50"/><circle cx="626.5" cy="1694.2" r="4.50"/><circle cx="627.6" cy="1693.6" r="4.50"/><circle cx="628.9" cy="1693.1" r="4.50"/><circle cx="630.6" cy="1692.1" r="4.50"/><circle cx="632.5" cy="1691.9" r="4.50"/><circle cx="633.7" cy="1691.3" r="4.50"/><circle cx="634.7" cy="1690.5" r="4.50"/><circle cx="635.7" cy="1690.8" r="4.50"/><circle cx="637.7" cy="1690.0" r="4.50"/><circle cx="639.7" cy="1689.2" r="4.50"/><circle cx="641.1" cy="1689.4" r="4.50"/><circle cx="642.7" cy="1689.0" r="4.50"/><circle cx="643.5" cy="1688.5" r="4.50"/><circle cx="646.1" cy="1687.5" r="4.50"/><circle cx="647.6" cy="1687.3" r="4.50"/><circle cx="648.8" cy="1687.2" r="4.50"/><circle cx="650.0" cy="1686.8" r="4.50"/><circle cx="651.8" cy="1686.3" r="4.50"/><circle cx="653.5" cy="1685.7" r="4.50"/><circle cx="654.8" cy="1685.2" r="4.50"/><circle cx="656.2" cy="1684.5" r="4.50"/><circle cx="657.7" cy="1684.3" r="4.50"/><circle cx="659.4" cy="1684.5" r="4.50"/><circle cx="660.9" cy="1682.7" r="4.50"/><circle cx="663.1" cy="1682.8" r="4.50"/><circle cx="664.4" cy="1682.5" r="4.50"/><circle cx="665.6" cy="1681.9" r="4.50"/><circle cx="667.0" cy="1682.0" r="4.50"/><circle cx="669.1" cy="1680.8" r="4.50"/><circle cx="670.7" cy="1680.9" r="4.50"/><circle cx="671.5" cy="1680.0" r="4.50"/><circle cx="673.6" cy="1679.9" r="4.50"/><circle cx="675.6" cy="1679.3" r="4.50"/><circle cx="676.8" cy="1678.7" r="4.50"/><circle cx="678.1" cy="1678.4" r="4.50"/><circle cx="679.6" cy="1678.1" r="4.50"/><circle cx="681.2" cy="1677.1" r="4.50"/><circle cx="682.9" cy="1676.8" r="4.50"/><circle cx="684.5" cy="1676.8" r="4.50"/><circle cx="686.0" cy="1676.0" r="4.50"/><circle cx="687.4" cy="1676.0" r="4.50"/><circle cx="688.7" cy="1674.9" r="4.50"/><circle cx="690.9" cy="1674.8" r="4.50"/><circle cx="691.8" cy="1674.1" r="4.50"/><circle cx="693.1" cy="1673.1" r="4.50"/><circle cx="694.7" cy="1673.2" r="4.50"/><circle cx="696.3" cy="1673.6" r="4.50"/><circle cx="698.0" cy="1672.5" r="4.50"/><circle cx="699.6" cy="1671.9" r="4.50"/><circle cx="701.5" cy="1672.1" r="4.50"/><circle cx="702.4" cy="1671.6" r="4.50"/><circle cx="704.4" cy="1671.6" r="4.50"/><circle cx="706.1" cy="1670.0" r="4.50"/><circle cx="707.2" cy="1670.2" r="4.50"/><circle cx="709.0" cy="1669.8" r="4.50"/><circle cx="710.3" cy="1669.1" r="4.50"/><circle cx="712.3" cy="1668.8" r="4.50"/><circle cx="713.4" cy="1668.8" r="4.50"/><circle cx="714.9" cy="1667.7" r="4.50"/><circle cx="716.2" cy="1667.3" r="4.50"/><circle cx="717.5" cy="1667.2" r="4.50"/><circle cx="718.9" cy="1666.6" r="4.50"/><circle cx="720.8" cy="1666.0" r="4.50"/><circle cx="723.1" cy="1665.4" r="4.50"/><circle cx="724.3" cy="1664.8" r="4.50"/><circle cx="725.6" cy="1664.9" r="4.50"/><circle cx="727.0" cy="1664.3" r="4.50"/><circle cx="728.8" cy="1663.5" r="4.50"/><circle cx="730.6" cy="1662.9" r="4.50"/><circle cx="731.9" cy="1662.3" r="4.50"/><circle cx="733.3" cy="1661.9" r="4.50"/><circle cx="735.0" cy="1662.1" r="4.50"/><circle cx="736.8" cy="1661.5" r="4.50"/><circle cx="738.1" cy="1660.8" r="4.50"/><circle cx="739.4" cy="1660.2" r="4.50"/><circle cx="741.7" cy="1660.0" r="4.50"/><circle cx="742.6" cy="1659.6" r="4.50"/><circle cx="743.9" cy="1659.6" r="4.50"/><circle cx="745.5" cy="1658.4" r="4.50"/><circle cx="747.7" cy="1658.6" r="4.50"/><circle cx="748.9" cy="1657.6" r="4.50"/><circle cx="750.7" cy="1657.3" r="4.50"/><circle cx="751.9" cy="1657.2" r="4.50"/></g>
<g fill="none" stroke="#161616" stroke-width="2.00"><circle cx="103.8" cy="1846.6" r="4.50"/><circle cx="105.6" cy="1845.2" r="4.50"/><circle cx="106.5" cy="1844.5" r="4.50"/><circle cx="108.2" cy="1843.8" r="4.50"/><circle cx="109.6" cy="1842.5" r="4.50"/><circle cx="111.3" cy="1842.3" r="4.50"/><circle cx="112.4" cy="1841.5" r="4.50"/><circle cx="113.5" cy="1840.9" r="4.50"/><circle cx="115.2" cy="1839.9" r="4.50"/><circle cx="116.3" cy="1839.4" r="4.50"/><circle cx="117.5" cy="1838.0" r="4.50"/><circle cx="119.3" cy="1837.4" r="4.50"/><circle cx="120.0" cy="1836.6" r="4.50"/><circle cx="121.9" cy="1835.7" r="4.50"/><circle cx="122.9" cy="1835.3" r="4.50"/><circle cx="125.1" cy="1834.5" r="4.50"/><circle cx="126.0" cy="1833.9" r="4.50"/><circle cx="127.8" cy="1832.9" r="4.50"/><circle cx="129.2" cy="1832.5" r="4.50"/><circle cx="130.3" cy="1831.2" r="4.50"/><circle cx="131.9" cy="1830.7" r="4.50"/><circle cx="133.5" cy="1829.5" r="4.50"/><circle cx="134.4" cy="1828.9" r="4.50"/><circle cx="135.5" cy="1828.4" r="4.50"/><circle cx="137.6" cy="1827.4" r="4.50"/><circle cx="139.2" cy="1827.1" r="4.50"/><circle cx="140.4" cy="1826.2" r="4.50"/><circle cx="141.9" cy="1824.9" r="4.50"/><circle cx="143.2" cy="1824.7" r="4.50"/><circle cx="143.9" cy="1823.8" r="4.50"/><circle cx="145.7" cy="1823.2" r="4.50"/><circle cx="147.1" cy="1822.2" r="4.50"/><circle cx="148.7" cy="1821.1" r="4.50"/><circle cx="150.2" cy="1820.6" r="4.50"/><circle cx="151.6" cy="1819.7" r="4.50"/><circle cx="153.1" cy="1819.3" r="4.50"/><circle cx="154.2" cy="1818.5" r="4.50"/><circle cx="156.0" cy="1818.1" r="4.50"/><circle cx="156.6" cy="1817.0" r="4.50"/><circle cx="158.6" cy="1816.0" r="4.50"/><circle cx="159.5" cy="1815.6" r="4.50"/><circle cx="160.9" cy="1814.6" r="4.50"/><circle cx="163.0" cy="1813.2" r="4.50"/><circle cx="163.9" cy="1812.5" r="4.50"/><circle cx="165.5" cy="1812.6" r="4.50"/><circle cx="167.4" cy="1810.8" r="4.50"/><circle cx="168.1" cy="1810.8" r="4.50"/><circle cx="170.1" cy="1810.0" r="4.50"/><circle cx="170.8" cy="1809.2" r="4.50"/><circle cx="172.4" cy="1808.2" r="4.50"/><circle cx="173.6" cy="1807.7" r="4.50"/><circle cx="175.4" cy="1806.7" r="4.50"/><circle cx="176.6" cy="1805.6" r="4.50"/><circle cx="177.9" cy="1805.6" r="4.50"/><circle cx="179.4" cy="1804.0" r="4.50"/><circle cx="181.3" cy="1803.9" r="4.50"/><circle cx="182.9" cy="1802.9" r="4.50"/><circle cx="183.5" cy="1801.7" r="4.50"/><circle cx="185.5" cy="1802.2" r="4.50"/><circle cx="186.2" cy="1800.4" r="4.50"/><circle cx="188.1" cy="1799.6" r="4.50"/><circle cx="189.2" cy="1799.0" r="4.50"/><circle cx="190.8" cy="1798.6" r="4.50"/><circle cx="192.1" cy="1797.8" r="4.50"/><circle cx="193.4" cy="1796.9" r="4.50"/><circle cx="194.3" cy="1795.6" r="4.50"/><circle cx="196.6" cy="1795.1" r="4.50"/><circle cx="197.9" cy="1794.6" r="4.50"/><circle cx="199.5" cy="1794.0" r="4.50"/><circle cx="200.8" cy="1792.9" r="4.50"/><circle cx="201.7" cy="1792.0" r="4.50"/><circle cx="203.2" cy="1791.1" r="4.50"/><circle cx="204.6" cy="1790.6" r="4.50"/><circle cx="206.2" cy="1789.8" r="4.50"/><circle cx="207.0" cy="1789.1" r="4.50"/><circle cx="209.0" cy="1788.7" r="4.50"/><circle cx="210.5" cy="1787.4" r="4.50"/><circle cx="211.6" cy="1787.4" r="4.50"/><circle cx="213.4" cy="1786.6" r="4.50"/><circle cx="215.2" cy="1785.1" r="4.50"/><circle cx="216.1" cy="1784.7" r="4.50"/><circle cx="217.6" cy="1783.9" r="4.50"/><circle cx="218.9" cy="1783.1" r="4.50"/><circle cx="219.8" cy="1782.2" r="4.50"/><circle cx="221.4" cy="1781.5" r="4.50"/><circle cx="222.9" cy="1780.9" r="4.50"/><circle cx="224.7" cy="1780.0" r="4.50"/><circle cx="225.9" cy="1779.2" r="4.50"/><circle cx="227.1" cy="1778.4" r="4.50"/><circle cx="228.5" cy="1777.8" r="4.50"/><circle cx="230.0" cy="1777.1" r="4.50"/><circle cx="231.1" cy="1776.4" r="4.50"/><circle cx="232.6" cy="1775.2" r="4.50"/><circle cx="234.2" cy="1774.4" r="4.50"/><circle cx="235.8" cy="1773.7" r="4.50"/><circle cx="236.8" cy="1772.8" r="4.50"/><circle cx="238.9" cy="1772.3" r="4.50"/><circle cx="239.5" cy="1771.6" r="4.50"/><circle cx="240.8" cy="1771.3" r="4.50"/><circle cx="242.2" cy="1770.2" r="4.50"/><circle cx="244.3" cy="1768.8" r="4.50"/><circle cx="245.6" cy="1768.8" r="4.50"/><circle cx="247.1" cy="1767.8" r="4.50"/><circle cx="248.6" cy="1767.0" r="4.50"/><circle cx="249.8" cy="1766.2" r="4.50"/><circle cx="251.3" cy="1765.2" r="4.50"/><circle cx="252.8" cy="1764.6" r="4.50"/><circle cx="253.6" cy="1764.1" r="4.50"/><circle cx="255.9" cy="1763.5" r="4.50"/><circle cx="256.6" cy="1762.6" r="4.50"/><circle cx="258.1" cy="1761.6" r="4.50"/><circle cx="259.6" cy="1760.2" r="4.50"/><circle cx="261.1" cy="1759.8" r="4.50"/><circle cx="262.2" cy="1758.9" r="4.50"/><circle cx="263.4" cy="1758.3" r="4.50"/><circle cx="265.5" cy="1758.4" r="4.50"/><circle cx="266.6" cy="1757.4" r="4.50"/><circle cx="268.0" cy="1755.8" r="4.50"/><circle cx="269.5" cy="1755.7" r="4.50"/><circle cx="270.7" cy="1754.9" r="4.50"/><circle cx="272.4" cy="1753.8" r="4.50"/><circle cx="273.2" cy="1753.2" r="4.50"/><circle cx="275.0" cy="1752.5" r="4.50"/><circle cx="276.8" cy="1752.3" r="4.50"/><circle cx="277.8" cy="1751.3" r="4.50"/><circle cx="279.6" cy="1750.5" r="4.50"/><circle cx="281.0" cy="1749.4" r="4.50"/><circle cx="282.4" cy="1749.4" r="4.50"/><circle cx="283.8" cy="1747.8" r="4.50"/><circle cx="285.1" cy="1747.6" r="4.50"/><circle cx="286.5" cy="1746.3" r="4.50"/><circle cx="288.2" cy="1745.4" r="4.50"/><circle cx="289.3" cy="1745.0" r="4.50"/><circle cx="290.2" cy="1744.6" r="4.50"/><circle cx="292.1" cy="1743.1" r="4.50"/><circle cx="293.6" cy="1742.6" r="4.50"/><circle cx="294.2" cy="1741.7" r="4.50"/><circle cx="296.3" cy="1741.4" r="4.50"/><circle cx="297.7" cy="1740.5" r="4.50"/><circle cx="299.2" cy="1739.6" r="4.50"/><circle cx="300.8" cy="1739.0" r="4.50"/><circle cx="302.0" cy="1738.3" r="4.50"/><circle cx="303.0" cy="1737.2" r="4.50"/><circle cx="305.2" cy="1736.8" r="4.50"/><circle cx="306.0" cy="1736.0" r="4.50"/><circle cx="307.4" cy="1735.2" r="4.50"/><circle cx="308.7" cy="1734.5" r="4.50"/><circle cx="309.9" cy="1734.0" r="4.50"/><circle cx="311.6" cy="1732.4" r="4.50"/><circle cx="313.1" cy="1732.0" r="4.50"/><circle cx="314.6" cy="1731.0" r="4.50"/><circle cx="316.1" cy="1731.7" r="4.50"/><circle cx="317.0" cy="1730.0" r="4.50"/><circle cx="318.7" cy="1729.2" r="4.50"/><circle cx="319.7" cy="1728.0" r="4.50"/><circle cx="321.8" cy="1727.6" r="4.50"/><circle cx="323.5" cy="1726.7" r="4.50"/><circle cx="324.5" cy="1727.0" r="4.50"/><circle cx="325.6" cy="1725.1" r="4.50"/><circle cx="327.3" cy="1724.6" r="4.50"/><circle cx="328.9" cy="1723.9" r="4.50"/><circle cx="329.9" cy="1723.2" r="4.50"/><circle cx="332.3" cy="1722.7" r="4.50"/><circle cx="332.1" cy="1721.6" r="4.50"/><circle cx="334.1" cy="1721.0" r="4.50"/><circle cx="335.7" cy="1720.7" r="4.50"/><circle cx="337.4" cy="1719.6" r="4.50"/><circle cx="338.6" cy="1718.6" r="4.50"/><circle cx="340.1" cy="1718.2" r="4.50"/><circle cx="341.6" cy="1717.0" r="4.50"/><circle cx="343.2" cy="1716.4" r="4.50"/><circle cx="344.2" cy="1715.3" r="4.50"/><circle cx="345.5" cy="1714.6" r="4.50"/><circle cx="346.2" cy="1714.4" r="4.50"/><circle cx="348.6" cy="1713.3" r="4.50"/><circle cx="350.2" cy="1712.7" r="4.50"/><circle cx="351.4" cy="1711.1" r="4.50"/><circle cx="352.6" cy="1711.2" r="4.50"/><circle cx="354.6" cy="1710.9" r="4.50"/><circle cx="356.0" cy="1709.2" r="4.50"/><circle cx="356.3" cy="1709.0" r="4.50"/><circle cx="358.4" cy="1708.4" r="4.50"/><circle cx="359.7" cy="1707.4" r="4.50"/><circle cx="360.7" cy="1706.7" r="4.50"/><circle cx="362.5" cy="1705.9" r="4.50"/><circle cx="364.1" cy="1705.1" r="4.50"/><circle cx="365.5" cy="1704.3" r="4.50"/><circle cx="367.1" cy="1703.7" r="4.50"/><circle cx="368.1" cy="1702.7" r="4.50"/><circle cx="370.2" cy="1702.1" r="4.50"/><circle cx="371.4" cy="1701.5" r="4.50"/><circle cx="372.3" cy="1700.4" r="4.50"/><circle cx="373.9" cy="1699.9" r="4.50"/><circle cx="375.5" cy="1698.7" r="4.50"/><circle cx="376.6" cy="1698.3" r="4.50"/><circle cx="378.6" cy="1696.9" r="4.50"/><circle cx="379.7" cy="1696.7" r="4.50"/><circle cx="381.1" cy="1696.0" r="4.50"/><circle cx="382.5" cy="1695.8" r="4.50"/><circle cx="383.9" cy="1694.7" r="4.50"/><circle cx="385.3" cy="1693.6" r="4.50"/><circle cx="386.8" cy="1693.1" r="4.50"/><circle cx="387.8" cy="1692.4" r="4.50"/><circle cx="389.4" cy="1691.9" r="4.50"/><circle cx="390.9" cy="1690.7" r="4.50"/><circle cx="392.7" cy="1690.4" r="4.50"/><circle cx="394.1" cy="1689.6" r="4.50"/><circle cx="395.1" cy="1688.5" r="4.50"/><circle cx="396.5" cy="1688.2" r="4.50"/><circle cx="398.0" cy="1686.7" r="4.50"/><circle cx="399.4" cy="1686.0" r="4.50"/><circle cx="400.9" cy="1685.3" r="4.50"/><circle cx="401.8" cy="1685.0" r="4.50"/><circle cx="403.6" cy="1683.7" r="4.50"/><circle cx="405.3" cy="1684.1" r="4.50"/><circle cx="406.0" cy="1683.2" r="4.50"/><circle cx="407.7" cy="1681.8" r="4.50"/><circle cx="409.2" cy="1680.8" r="4.50"/><circle cx="411.1" cy="1680.6" r="4.50"/><circle cx="411.9" cy="1679.6" r="4.50"/><circle cx="413.1" cy="1678.9" r="4.50"/><circle cx="415.2" cy="1677.7" r="4.50"/><circle cx="416.3" cy="1677.5" r="4.50"/><circle cx="418.1" cy="1677.1" r="4.50"/><circle cx="419.1" cy="1675.8" r="4.50"/><circle cx="420.8" cy="1675.2" r="4.50"/><circle cx="422.0" cy="1674.8" r="4.50"/><circle cx="424.0" cy="1673.9" r="4.50"/><circle cx="424.8" cy="1673.2" r="4.50"/><circle cx="425.7" cy="1672.3" r="4.50"/><circle cx="427.4" cy="1672.3" r="4.50"/><circle cx="429.4" cy="1670.8" r="4.50"/><circle cx="430.5" cy="1669.3" r="4.50"/><circle cx="432.2" cy="1669.8" r="4.50"/><circle cx="433.2" cy="1668.8" r="4.50"/><circle cx="435.0" cy="1667.4" r="4.50"/><circle cx="436.5" cy="1667.5" r="4.50"/><circle cx="437.7" cy="1666.3" r="4.50"/><circle cx="439.3" cy="1665.2" r="4.50"/><circle cx="440.5" cy="1665.2" r="4.50"/><circle cx="441.5" cy="1664.4" r="4.50"/><circle cx="443.2" cy="1662.8" r="4.50"/><circle cx="444.7" cy="1662.4" r="4.50"/><circle cx="446.3" cy="1661.6" r="4.50"/><circle cx="447.9" cy="1661.0" r="4.50"/><circle cx="449.1" cy="1660.3" r="4.50"/><circle cx="450.3" cy="1660.1" r="4.50"/><circle cx="451.9" cy="1658.8" r="4.50"/><circle cx="452.9" cy="1658.6" r="4.50"/><circle cx="454.9" cy="1657.4" r="4.50"/><circle cx="456.2" cy="1656.4" r="4.50"/><circle cx="457.2" cy="1655.8" r="4.50"/><circle cx="459.0" cy="1655.4" r="4.50"/><circle cx="460.1" cy="1654.7" r="4.50"/><circle cx="462.0" cy="1653.8" r="4.50"/><circle cx="463.5" cy="1653.0" r="4.50"/><circle cx="464.6" cy="1652.5" r="4.50"/><circle cx="466.0" cy="1651.8" r="4.50"/><circle cx="467.1" cy="1651.3" r="4.50"/><circle cx="468.6" cy="1650.0" r="4.50"/><circle cx="469.9" cy="1649.5" r="4.50"/><circle cx="472.1" cy="1648.9" r="4.50"/><circle cx="473.4" cy="1647.4" r="4.50"/><circle cx="474.3" cy="1647.0" r="4.50"/><circle cx="475.7" cy="1646.8" r="4.50"/><circle cx="477.4" cy="1645.7" r="4.50"/><circle cx="479.0" cy="1644.7" r="4.50"/><circle cx="480.0" cy="1643.9" r="4.50"/><circle cx="481.8" cy="1643.6" r="4.50"/><circle cx="483.2" cy="1643.1" r="4.50"/><circle cx="484.1" cy="1641.8" r="4.50"/><circle cx="486.0" cy="1640.9" r="4.50"/><circle cx="487.2" cy="1640.8" r="4.50"/><circle cx="489.1" cy="1640.1" r="4.50"/><circle cx="490.2" cy="1639.0" r="4.50"/><circle cx="491.9" cy="1638.2" r="4.50"/><circle cx="493.1" cy="1638.0" r="4.50"/><circle cx="494.3" cy="1636.7" r="4.50"/><circle cx="495.9" cy="1636.3" r="4.50"/><circle cx="497.4" cy="1635.4" r="4.50"/><circle cx="498.9" cy="1634.2" r="4.50"/><circle cx="499.9" cy="1634.0" r="4.50"/><circle cx="501.3" cy="1632.8" r="4.50"/><circle cx="502.6" cy="1632.2" r="4.50"/><circle cx="504.3" cy="1631.4" r="4.50"/><circle cx="505.9" cy="1631.5" r="4.50"/><circle cx="507.2" cy="1630.6" r="4.50"/><circle cx="508.7" cy="1629.2" r="4.50"/><circle cx="510.0" cy="1628.5" r="4.50"/><circle cx="511.7" cy="1627.7" r="4.50"/><circle cx="513.3" cy="1627.5" r="4.50"/><circle cx="513.7" cy="1626.8" r="4.50"/><circle cx="516.2" cy="1625.6" r="4.50"/><circle cx="517.5" cy="1624.6" r="4.50"/><circle cx="518.7" cy="1623.9" r="4.50"/><circle cx="520.2" cy="1623.1" r="4.50"/><circle cx="520.7" cy="1623.0" r="4.50"/><circle cx="523.6" cy="1622.0" r="4.50"/><circle cx="524.6" cy="1621.5" r="4.50"/><circle cx="525.6" cy="1620.9" r="4.50"/><circle cx="527.6" cy="1619.6" r="4.50"/><circle cx="528.7" cy="1619.4" r="4.50"/><circle cx="529.6" cy="1619.0" r="4.50"/><circle cx="532.0" cy="1617.5" r="4.50"/><circle cx="533.4" cy="1617.1" r="4.50"/><circle cx="534.2" cy="1616.8" r="4.50"/><circle cx="535.8" cy="1615.7" r="4.50"/><circle cx="537.6" cy="1615.3" r="4.50"/><circle cx="538.8" cy="1613.7" r="4.50"/><circle cx="539.5" cy="1613.8" r="4.50"/><circle cx="541.1" cy="1612.7" r="4.50"/><circle cx="542.5" cy="1611.9" r="4.50"/><circle cx="543.9" cy="1611.7" r="4.50"/><circle cx="545.4" cy="1610.5" r="4.50"/><circle cx="547.0" cy="1610.1" r="4.50"/><circle cx="548.1" cy="1609.0" r="4.50"/><circle cx="549.9" cy="1608.5" r="4.50"/><circle cx="551.5" cy="1607.5" r="4.50"/><circle cx="552.9" cy="1606.8" r="4.50"/><circle cx="554.3" cy="1606.1" r="4.50"/><circle cx="555.4" cy="1605.4" r="4.50"/><circle cx="557.2" cy="1605.4" r="4.50"/><circle cx="558.3" cy="1604.0" r="4.50"/><circle cx="560.3" cy="1602.6" r="4.50"/><circle cx="560.8" cy="1602.1" r="4.50"/><circle cx="562.7" cy="1602.5" r="4.50"/><circle cx="564.3" cy="1601.4" r="4.50"/><circle cx="565.5" cy="1599.6" r="4.50"/><circle cx="566.3" cy="1599.9" r="4.50"/><circle cx="568.5" cy="1598.5" r="4.50"/><circle cx="570.2" cy="1597.7" r="4.50"/><circle cx="571.7" cy="1597.8" r="4.50"/><circle cx="572.5" cy="1596.4" r="4.50"/><circle cx="574.4" cy="1595.6" r="4.50"/><circle cx="575.8" cy="1594.9" r="4.50"/><circle cx="577.3" cy="1594.5" r="4.50"/><circle cx="578.3" cy="1593.5" r="4.50"/><circle cx="579.9" cy="1592.5" r="4.50"/><circle cx="581.2" cy="1592.2" r="4.50"/><circle cx="582.9" cy="1591.2" r="4.50"/><circle cx="584.7" cy="1590.8" r="4.50"/><circle cx="585.2" cy="1590.6" r="4.50"/><circle cx="587.5" cy="1589.4" r="4.50"/><circle cx="588.2" cy="1588.7" r="4.50"/><circle cx="589.6" cy="1587.9" r="4.50"/><circle cx="591.7" cy="1587.4" r="4.50"/><circle cx="592.8" cy="1586.6" r="4.50"/><circle cx="594.1" cy="1586.1" r="4.50"/><circle cx="595.8" cy="1585.0" r="4.50"/><circle cx="597.0" cy="1585.1" r="4.50"/><circle cx="598.5" cy="1583.6" r="4.50"/><circle cx="600.5" cy="1582.9" r="4.50"/><circle cx="600.9" cy="1582.4" r="4.50"/><circle cx="602.4" cy="1581.3" r="4.50"/><circle cx="604.2" cy="1580.7" r="4.50"/><circle cx="605.3" cy="1579.9" r="4.50"/><circle cx="606.8" cy="1579.7" r="4.50"/><circle cx="608.2" cy="1578.4" r="4.50"/><circle cx="610.4" cy="1577.7" r="4.50"/><circle cx="611.7" cy="1577.5" r="4.50"/><circle cx="612.6" cy="1576.0" r="4.50"/><circle cx="614.3" cy="1575.9" r="4.50"/><circle cx="615.8" cy="1575.0" r="4.50"/><circle cx="617.3" cy="1574.7" r="4.50"/><circle cx="618.1" cy="1574.0" r="4.50"/><circle cx="619.9" cy="1572.6" r="4.50"/><circle cx="621.2" cy="1572.7" r="4.50"/><circle cx="623.0" cy="1570.8" r="4.50"/><circle cx="624.1" cy="1570.6" r="4.50"/><circle cx="625.5" cy="1569.8" r="4.50"/><circle cx="626.5" cy="1569.5" r="4.50"/><circle cx="628.1" cy="1568.4" r="4.50"/><circle cx="629.7" cy="1567.6" r="4.50"/><circle cx="631.5" cy="1567.2" r="4.50"/><circle cx="632.5" cy="1566.0" r="4.50"/><circle cx="634.0" cy="1565.9" r="4.50"/><circle cx="635.6" cy="1565.0" r="4.50"/><circle cx="636.9" cy="1564.1" r="4.50"/><circle cx="638.5" cy="1562.9" r="4.50"/><circle cx="640.3" cy="1562.5" r="4.50"/><circle cx="641.1" cy="1562.4" r="4.50"/><circle cx="642.8" cy="1561.3" r="4.50"/><circle cx="644.0" cy="1560.1" r="4.50"/><circle cx="645.6" cy="1560.2" r="4.50"/><circle cx="646.7" cy="1559.6" r="4.50"/><circle cx="648.1" cy="1558.2" r="4.50"/><circle cx="650.0" cy="1557.7" r="4.50"/><circle cx="651.5" cy="1556.8" r="4.50"/><circle cx="652.4" cy="1555.7" r="4.50"/><circle cx="653.8" cy="1555.2" r="4.50"/><circle cx="655.1" cy="1554.9" r="4.50"/><circle cx="656.8" cy="1553.5" r="4.50"/><circle cx="659.2" cy="1553.2" r="4.50"/><circle cx="659.5" cy="1553.1" r="4.50"/><circle cx="661.6" cy="1551.6" r="4.50"/><circle cx="662.3" cy="1551.0" r="4.50"/><circle cx="664.5" cy="1550.5" r="4.50"/><circle cx="665.3" cy="1549.8" r="4.50"/><circle cx="667.4" cy="1548.7" r="4.50"/><circle cx="668.3" cy="1548.0" r="4.50"/><circle cx="670.5" cy="1548.2" r="4.50"/><circle cx="671.6" cy="1546.9" r="4.50"/><circle cx="672.9" cy="1545.6" r="4.50"/><circle cx="674.3" cy="1545.1" r="4.50"/><circle cx="675.2" cy="1544.6" r="4.50"/><circle cx="676.9" cy="1544.3" r="4.50"/><circle cx="678.7" cy="1543.5" r="4.50"/><circle cx="679.6" cy="1542.9" r="4.50"/><circle cx="681.3" cy="1542.3" r="4.50"/><circle cx="682.5" cy="1540.4" r="4.50"/><circle cx="684.1" cy="1541.2" r="4.50"/><circle cx="685.8" cy="1539.8" r="4.50"/><circle cx="687.3" cy="1539.3" r="4.50"/><circle cx="688.6" cy="1538.2" r="4.50"/><circle cx="689.9" cy="1537.7" r="4.50"/><circle cx="691.2" cy="1536.6" r="4.50"/><circle cx="692.8" cy="1536.6" r="4.50"/><circle cx="694.4" cy="1535.7" r="4.50"/><circle cx="695.8" cy="1535.6" r="4.50"/><circle cx="697.2" cy="1534.4" r="4.50"/><circle cx="699.1" cy="1533.4" r="4.50"/><circle cx="700.0" cy="1533.0" r="4.50"/><circle cx="701.9" cy="1532.1" r="4.50"/><circle cx="702.9" cy="1531.3" r="4.50"/><circle cx="703.9" cy="1530.9" r="4.50"/><circle cx="705.6" cy="1529.3" r="4.50"/><circle cx="707.1" cy="1528.6" r="4.50"/><circle cx="708.2" cy="1528.4" r="4.50"/><circle cx="709.7" cy="1528.0" r="4.50"/><circle cx="711.0" cy="1527.1" r="4.50"/><circle cx="713.0" cy="1526.7" r="4.50"/><circle cx="714.6" cy="1525.7" r="4.50"/><circle cx="715.7" cy="1524.9" r="4.50"/><circle cx="717.5" cy="1524.0" r="4.50"/><circle cx="718.7" cy="1523.4" r="4.50"/><circle cx="720.1" cy="1522.7" r="4.50"/><circle cx="722.1" cy="1521.8" r="4.50"/><circle cx="723.0" cy="1521.4" r="4.50"/><circle cx="724.5" cy="1520.8" r="4.50"/><circle cx="725.9" cy="1520.2" r="4.50"/><circle cx="726.7" cy="1519.2" r="4.50"/><circle cx="728.3" cy="1518.6" r="4.50"/><circle cx="729.7" cy="1517.5" r="4.50"/><circle cx="731.5" cy="1517.5" r="4.50"/><circle cx="733.1" cy="1516.5" r="4.50"/><circle cx="734.8" cy="1515.4" r="4.50"/><circle cx="735.2" cy="1514.8" r="4.50"/><circle cx="737.2" cy="1514.6" r="4.50"/><circle cx="739.3" cy="1513.1" r="4.50"/><circle cx="740.9" cy="1513.3" r="4.50"/><circle cx="741.8" cy="1512.2" r="4.50"/><circle cx="743.7" cy="1511.4" r="4.50"/><circle cx="744.3" cy="1510.8" r="4.50"/><circle cx="745.4" cy="1510.1" r="4.50"/><circle cx="747.3" cy="1509.4" r="4.50"/><circle cx="748.8" cy="1508.3" r="4.50"/><circle cx="750.6" cy="1507.6" r="4.50"/><circle cx="751.9" cy="1506.7" r="4.50"/></g>
<g fill="none" stroke="#161616" stroke-width="2.00"><circle cx="104.0" cy="1845.1" r="4.50"/><circle cx="105.0" cy="1845.0" r="4.50"/><circle cx="106.3" cy="1844.0" r="4.50"/><circle cx="107.6" cy="1842.8" r="4.50"/><circle cx="108.1" cy="1841.9" r="4.50"/><circle cx="109.6" cy="1840.6" r="4.50"/><circle cx="110.6" cy="1839.8" r="4.50"/><circle cx="112.0" cy="1838.4" r="4.50"/><circle cx="112.9" cy="1836.9" r="4.50"/><circle cx="114.7" cy="1836.3" r="4.50"/><circle cx="115.8" cy="1835.4" r="4.50"/><circle cx="117.1" cy="1834.7" r="4.50"/><circle cx="117.8" cy="1833.6" r="4.50"/><circle cx="118.6" cy="1832.4" r="4.50"/><circle cx="119.6" cy="1831.0" r="4.50"/><circle cx="121.6" cy="1829.9" r="4.50"/><circle cx="122.3" cy="1828.5" r="4.50"/><circle cx="123.5" cy="1828.0" r="4.50"/><circle cx="125.0" cy="1826.5" r="4.50"/><circle cx="125.5" cy="1825.7" r="4.50"/><circle cx="126.6" cy="1824.2" r="4.50"/><circle cx="128.0" cy="1823.5" r="4.50"/><circle cx="129.5" cy="1822.3" r="4.50"/><circle cx="130.6" cy="1820.9" r="4.50"/><circle cx="131.9" cy="1820.4" r="4.50"/><circle cx="132.9" cy="1819.0" r="4.50"/><circle cx="134.0" cy="1818.0" r="4.50"/><circle cx="135.4" cy="1816.9" r="4.50"/><circle cx="136.4" cy="1816.0" r="4.50"/><circle cx="137.4" cy="1814.3" r="4.50"/><circle cx="138.4" cy="1813.5" r="4.50"/><circle cx="139.6" cy="1812.0" r="4.50"/><circle cx="141.1" cy="1811.4" r="4.50"/><circle cx="142.2" cy="1809.1" r="4.50"/><circle cx="142.9" cy="1808.5" r="4.50"/><circle cx="144.0" cy="1807.6" r="4.50"/><circle cx="146.0" cy="1806.5" r="4.50"/><circle cx="146.4" cy="1805.6" r="4.50"/><circle cx="147.7" cy="1804.3" r="4.50"/><circle cx="148.6" cy="1803.2" r="4.50"/><circle cx="150.1" cy="1801.4" r="4.50"/></g>
<g fill="none" stroke="#161616" stroke-width="2.00"><circle cx="102.5" cy="1838.2" r="4.50"/><circle cx="104.0" cy="1837.1" r="4.50"/><circle cx="105.6" cy="1835.6" r="4.50"/><circle cx="106.2" cy="1834.6" r="4.50"/><circle cx="107.7" cy="1834.4" r="4.50"/><circle cx="109.0" cy="1833.3" r="4.50"/><circle cx="109.7" cy="1832.2" r="4.50"/><circle cx="111.3" cy="1831.8" r="4.50"/><circle cx="113.1" cy="1830.6" r="4.50"/><circle cx="114.1" cy="1829.5" r="4.50"/><circle cx="115.6" cy="1828.3" r="4.50"/><circle cx="116.6" cy="1827.4" r="4.50"/><circle cx="117.8" cy="1826.3" r="4.50"/><circle cx="119.2" cy="1825.3" r="4.50"/><circle cx="120.8" cy="1824.1" r="4.50"/><circle cx="122.1" cy="1823.5" r="4.50"/><circle cx="123.0" cy="1822.3" r="4.50"/><circle cx="124.4" cy="1821.7" r="4.50"/><circle cx="125.8" cy="1820.7" r="4.50"/><circle cx="127.1" cy="1820.5" r="4.50"/><circle cx="128.5" cy="1818.8" r="4.50"/><circle cx="130.0" cy="1818.0" r="4.50"/><circle cx="131.2" cy="1817.3" r="4.50"/><circle cx="132.2" cy="1815.6" r="4.50"/><circle cx="133.5" cy="1815.4" r="4.50"/><circle cx="134.8" cy="1814.5" r="4.50"/><circle cx="136.5" cy="1813.2" r="4.50"/><circle cx="137.9" cy="1813.0" r="4.50"/><circle cx="139.1" cy="1811.9" r="4.50"/><circle cx="140.4" cy="1811.3" r="4.50"/><circle cx="141.5" cy="1809.7" r="4.50"/><circle cx="142.9" cy="1808.5" r="4.50"/><circle cx="143.5" cy="1807.6" r="4.50"/><circle cx="145.4" cy="1807.1" r="4.50"/><circle cx="146.2" cy="1805.4" r="4.50"/><circle cx="147.8" cy="1805.0" r="4.50"/><circle cx="149.2" cy="1804.4" r="4.50"/><circle cx="150.9" cy="1803.3" r="4.50"/><circle cx="152.0" cy="1802.0" r="4.50"/><circle cx="152.8" cy="1801.5" r="4.50"/><circle cx="154.7" cy="1800.7" r="4.50"/><circle cx="156.0" cy="1799.8" r="4.50"/><circle cx="157.3" cy="1798.1" r="4.50"/><circle cx="158.2" cy="1797.9" r="4.50"/><circle cx="159.9" cy="1796.4" r="4.50"/><circle cx="161.4" cy="1795.8" r="4.50"/><circle cx="162.3" cy="1795.1" r="4.50"/><circle cx="163.9" cy="1793.6" r="4.50"/><circle cx="165.3" cy="1793.2" r="4.50"/><circle cx="166.1" cy="1792.2" r="4.50"/><circle cx="167.0" cy="1791.2" r="4.50"/><circle cx="169.0" cy="1790.2" r="4.50"/><circle cx="170.1" cy="1789.5" r="4.50"/><circle cx="171.6" cy="1788.9" r="4.50"/><circle cx="172.9" cy="1787.6" r="4.50"/><circle cx="174.4" cy="1787.4" r="4.50"/><circle cx="175.4" cy="1786.1" r="4.50"/><circle cx="176.4" cy="1785.4" r="4.50"/><circle cx="178.4" cy="1784.5" r="4.50"/><circle cx="179.5" cy="1782.9" r="4.50"/><circle cx="181.1" cy="1782.5" r="4.50"/><circle cx="181.9" cy="1780.9" r="4.50"/><circle cx="183.6" cy="1780.4" r="4.50"/><circle cx="185.5" cy="1779.4" r="4.50"/><circle cx="185.9" cy="1778.6" r="4.50"/><circle cx="186.9" cy="1777.5" r="4.50"/><circle cx="189.2" cy="1776.8" r="4.50"/><circle cx="189.9" cy="1775.6" r="4.50"/><circle cx="191.6" cy="1775.3" r="4.50"/><circle cx="192.8" cy="1774.1" r="4.50"/><circle cx="194.1" cy="1773.4" r="4.50"/><circle cx="195.2" cy="1772.6" r="4.50"/><circle cx="196.0" cy="1771.1" r="4.50"/><circle cx="197.9" cy="1770.6" r="4.50"/><circle cx="199.0" cy="1769.8" r="4.50"/><circle cx="201.0" cy="1768.9" r="4.50"/><circle cx="202.1" cy="1768.2" r="4.50"/><circle cx="203.4" cy="1766.7" r="4.50"/><circle cx="204.6" cy="1766.5" r="4.50"/><circle cx="205.6" cy="1765.3" r="4.50"/><circle cx="207.2" cy="1764.1" r="4.50"/><circle cx="208.3" cy="1763.5" r="4.50"/><circle cx="210.1" cy="1762.7" r="4.50"/><circle cx="210.9" cy="1761.6" r="4.50"/><circle cx="212.7" cy="1761.1" r="4.50"/><circle cx="214.2" cy="1760.2" r="4.50"/><circle cx="215.6" cy="1759.3" r="4.50"/><circle cx="216.4" cy="1758.1" r="4.50"/><circle cx="217.7" cy="1756.5" r="4.50"/><circle cx="218.8" cy="1757.0" r="4.50"/><circle cx="220.3" cy="1754.8" r="4.50"/><circle cx="221.8" cy="1755.0" r="4.50"/><circle cx="223.3" cy="1753.8" r="4.50"/><circle cx="224.5" cy="1752.8" r="4.50"/><circle cx="226.3" cy="1752.2" r="4.50"/><circle cx="227.3" cy="1751.3" r="4.50"/><circle cx="228.9" cy="1750.1" r="4.50"/><circle cx="230.0" cy="1749.4" r="4.50"/><circle cx="231.1" cy="1748.7" r="4.50"/><circle cx="232.6" cy="1747.3" r="4.50"/><circle cx="233.5" cy="1746.3" r="4.50"/><circle cx="235.8" cy="1745.4" r="4.50"/><circle cx="236.8" cy="1744.8" r="4.50"/><circle cx="238.1" cy="1744.2" r="4.50"/><circle cx="239.1" cy="1743.0" r="4.50"/><circle cx="240.7" cy="1742.3" r="4.50"/><circle cx="242.0" cy="1741.3" r="4.50"/><circle cx="243.5" cy="1740.9" r="4.50"/><circle cx="244.8" cy="1739.4" r="4.50"/><circle cx="246.1" cy="1738.8" r="4.50"/><circle cx="247.5" cy="1738.4" r="4.50"/><circle cx="248.6" cy="1737.0" r="4.50"/><circle cx="249.7" cy="1736.0" r="4.50"/><circle cx="251.2" cy="1735.7" r="4.50"/><circle cx="252.8" cy="1734.2" r="4.50"/><circle cx="254.6" cy="1733.1" r="4.50"/><circle cx="255.6" cy="1732.9" r="4.50"/><circle cx="256.9" cy="1731.7" r="4.50"/><circle cx="258.0" cy="1730.8" r="4.50"/><circle cx="259.6" cy="1729.3" r="4.50"/><circle cx="260.6" cy="1729.2" r="4.50"/><circle cx="261.9" cy="1727.7" r="4.50"/><circle cx="263.3" cy="1727.2" r="4.50"/><circle cx="265.0" cy="1726.9" r="4.50"/><circle cx="266.1" cy="1725.1" r="4.50"/><circle cx="267.4" cy="1724.5" r="4.50"/><circle cx="269.0" cy="1724.4" r="4.50"/><circle cx="270.2" cy="1723.6" r="4.50"/><circle cx="271.9" cy="1722.4" r="4.50"/><circle cx="272.6" cy="1721.3" r="4.50"/><circle cx="273.8" cy="1720.8" r="4.50"/><circle cx="275.6" cy="1720.0" r="4.50"/><circle cx="277.0" cy="1718.1" r="4.50"/><circle cx="278.4" cy="1718.1" r="4.50"/><circle cx="280.1" cy="1716.7" r="4.50"/><circle cx="280.6" cy="1716.1" r="4.50"/><circle cx="282.0" cy="1714.8" r="4.50"/><circle cx="283.3" cy="1715.2" r="4.50"/><circle cx="284.8" cy="1713.2" r="4.50"/><circle cx="286.2" cy="1712.6" r="4.50"/><circle cx="288.0" cy="1712.1" r="4.50"/><circle cx="289.2" cy="1710.9" r="4.50"/><circle cx="290.4" cy="1709.8" r="4.50"/><circle cx="291.2" cy="1709.8" r="4.50"/><circle cx="292.9" cy="1708.6" r="4.50"/><circle cx="294.3" cy="1707.4" r="4.50"/><circle cx="295.7" cy="1706.2" r="4.50"/><circle cx="297.0" cy="1705.8" r="4.50"/><circle cx="298.6" cy="1705.0" r="4.50"/><circle cx="300.1" cy="1704.1" r="4.50"/><circle cx="301.1" cy="1702.5" r="4.50"/><circle cx="302.3" cy="1702.7" r="4.50"/><circle cx="303.8" cy="1701.6" r="4.50"/><circle cx="305.1" cy="1700.3" r="4.50"/><circle cx="307.1" cy="1699.8" r="4.50"/><circle cx="308.3" cy="1699.0" r="4.50"/><circle cx="309.1" cy="1697.3" r="4.50"/><circle cx="310.5" cy="1696.6" r="4.50"/><circle cx="311.2" cy="1696.6" r="4.50"/><circle cx="313.4" cy="1695.5" r="4.50"/><circle cx="314.6" cy="1694.5" r="4.50"/><circle cx="316.0" cy="1693.7" r="4.50"/><circle cx="317.3" cy="1693.0" r="4.50"/><circle cx="317.9" cy="1692.2" r="4.50"/><circle cx="319.8" cy="1691.3" r="4.50"/><circle cx="321.6" cy="1689.9" r="4.50"/><circle cx="322.9" cy="1689.5" r="4.50"/><circle cx="323.8" cy="1688.3" r="4.50"/><circle cx="325.4" cy="1686.9" r="4.50"/><circle cx="326.5" cy="1686.8" r="4.50"/><circle cx="327.9" cy="1685.4" r="4.50"/><circle cx="329.3" cy="1685.4" r="4.50"/><circle cx="331.1" cy="1684.1" r="4.50"/><circle cx="331.8" cy="1683.3" r="4.50"/><circle cx="333.4" cy="1682.2" r="4.50"/><circle cx="334.7" cy="1681.7" r="4.50"/><circle cx="336.4" cy="1679.9" r="4.50"/><circle cx="337.8" cy="1679.9" r="4.50"/><circle cx="339.2" cy="1679.0" r="4.50"/><circle cx="340.3" cy="1678.6" r="4.50"/><circle cx="340.6" cy="1677.7" r="4.50"/><circle cx="342.9" cy="1675.8" r="4.50"/><circle cx="343.4" cy="1675.6" r="4.50"/><circle cx="345.3" cy="1675.0" r="4.50"/><circle cx="347.0" cy="1673.8" r="4.50"/><circle cx="348.6" cy="1673.0" r="4.50"/><circle cx="349.8" cy="1672.3" r="4.50"/><circle cx="351.1" cy="1671.5" r="4.50"/><circle cx="352.5" cy="1670.0" r="4.50"/><circle cx="353.6" cy="1669.5" r="4.50"/><circle cx="354.9" cy="1668.2" r="4.50"/><circle cx="356.2" cy="1667.9" r="4.50"/><circle cx="357.8" cy="1667.4" r="4.50"/><circle cx="358.9" cy="1666.0" r="4.50"/><circle cx="360.2" cy="1665.1" r="4.50"/><circle cx="361.6" cy="1663.8" r="4.50"/><circle cx="363.2" cy="1663.8" r="4.50"/><circle cx="364.8" cy="1662.3" r="4.50"/><circle cx="365.8" cy="1662.4" r="4.50"/><circle cx="367.1" cy="1661.0" r="4.50"/><circle cx="368.5" cy="1660.4" r="4.50"/><circle cx="370.2" cy="1659.9" r="4.50"/><circle cx="371.4" cy="1658.5" r="4.50"/><circle cx="372.2" cy="1657.4" r="4.50"/><circle cx="373.7" cy="1656.6" r="4.50"/><circle cx="374.9" cy="1656.2" r="4.50"/><circle cx="376.3" cy="1655.0" r="4.50"/><circle cx="377.6" cy="1654.2" r="4.50"/><circle cx="379.8" cy="1653.0" r="4.50"/><circle cx="380.8" cy="1652.4" r="4.50"/><circle cx="382.1" cy="1651.7" r="4.50"/><circle cx="383.2" cy="1650.6" r="4.50"/><circle cx="384.6" cy="1649.6" r="4.50"/><circle cx="385.7" cy="1649.2" r="4.50"/><circle cx="387.2" cy="1648.3" r="4.50"/><circle cx="389.0" cy="1646.9" r="4.50"/><circle cx="390.5" cy="1646.1" r="4.50"/><circle cx="391.7" cy="1646.0" r="4.50"/><circle cx="392.6" cy="1644.4" r="4.50"/><circle cx="393.9" cy="1644.5" r="4.50"/><circle cx="395.5" cy="1642.6" r="4.50"/><circle cx="397.2" cy="1642.1" r="4.50"/><circle cx="398.3" cy="1641.0" r="4.50"/><circle cx="399.0" cy="1640.2" r="4.50"/><circle cx="400.7" cy="1639.1" r="4.50"/><circle cx="402.0" cy="1638.4" r="4.50"/><circle cx="403.9" cy="1638.1" r="4.50"/><circle cx="405.2" cy="1636.8" r="4.50"/><circle cx="406.0" cy="1636.2" r="4.50"/><circle cx="407.9" cy="1635.6" r="4.50"/><circle cx="409.1" cy="1634.4" r="4.50"/><circle cx="410.5" cy="1633.3" r="4.50"/><circle cx="411.6" cy="1632.9" r="4.50"/><circle cx="412.8" cy="1631.8" r="4.50"/><circle cx="414.7" cy="1631.1" r="4.50"/><circle cx="416.0" cy="1629.8" r="4.50"/><circle cx="417.2" cy="1629.2" r="4.50"/><circle cx="418.7" cy="1628.6" r="4.50"/><circle cx="419.9" cy="1628.2" r="4.50"/><circle cx="421.4" cy="1626.7" r="4.50"/><circle cx="422.4" cy="1625.9" r="4.50"/><circle cx="423.8" cy="1625.5" r="4.50"/><circle cx="425.5" cy="1624.1" r="4.50"/><circle cx="426.5" cy="1623.0" r="4.50"/><circle cx="428.0" cy="1622.9" r="4.50"/><circle cx="429.7" cy="1621.6" r="4.50"/><circle cx="430.8" cy="1620.2" r="4.50"/><circle cx="432.3" cy="1619.9" r="4.50"/><circle cx="433.9" cy="1619.0" r="4.50"/><circle cx="434.7" cy="1618.3" r="4.50"/><circle cx="436.0" cy="1617.8" r="4.50"/><circle cx="437.6" cy="1616.6" r="4.50"/><circle cx="439.0" cy="1615.6" r="4.50"/><circle cx="440.4" cy="1614.9" r="4.50"/><circle cx="442.1" cy="1614.0" r="4.50"/><circle cx="443.1" cy="1613.0" r="4.50"/><circle cx="444.2" cy="1612.2" r="4.50"/><circle cx="446.0" cy="1611.4" r="4.50"/><circle cx="447.3" cy="1610.5" r="4.50"/><circle cx="448.3" cy="1609.1" r="4.50"/><circle cx="450.0" cy="1609.5" r="4.50"/><circle cx="451.0" cy="1608.5" r="4.50"/><circle cx="452.7" cy="1607.0" r="4.50"/><circle cx="454.0" cy="1606.0" r="4.50"/><circle cx="455.1" cy="1605.8" r="4.50"/><circle cx="456.6" cy="1604.3" r="4.50"/><circle cx="458.3" cy="1603.4" r="4.50"/><circle cx="459.2" cy="1602.8" r="4.50"/><circle cx="460.5" cy="1601.8" r="4.50"/><circle cx="461.4" cy="1601.8" r="4.50"/><circle cx="463.0" cy="1600.1" r="4.50"/><circle cx="463.9" cy="1599.5" r="4.50"/><circle cx="466.4" cy="1599.1" r="4.50"/><circle cx="468.2" cy="1598.2" r="4.50"/><circle cx="468.8" cy="1597.0" r="4.50"/><circle cx="470.5" cy="1596.1" r="4.50"/><circle cx="471.5" cy="1595.0" r="4.50"/><circle cx="472.8" cy="1595.0" r="4.50"/><circle cx="474.1" cy="1593.7" r="4.50"/><circle cx="474.7" cy="1593.1" r="4.50"/><circle cx="476.9" cy="1592.3" r="4.50"/><circle cx="478.2" cy="1590.7" r="4.50"/><circle cx="479.1" cy="1590.3" r="4.50"/><circle cx="480.9" cy="1589.0" r="4.50"/><circle cx="482.2" cy="1588.2" r="4.50"/><circle cx="483.8" cy="1587.4" r="4.50"/><circle cx="484.6" cy="1586.7" r="4.50"/><circle cx="486.1" cy="1586.3" r="4.50"/><circle cx="487.5" cy="1584.6" r="4.50"/><circle cx="489.0" cy="1584.1" r="4.50"/><circle cx="490.4" cy="1583.3" r="4.50"/><circle cx="491.4" cy="1582.4" r="4.50"/><circle cx="493.0" cy="1581.2" r="4.50"/><circle cx="494.2" cy="1580.8" r="4.50"/><circle cx="495.3" cy="1579.5" r="4.50"/><circle cx="496.9" cy="1579.0" r="4.50"/><circle cx="498.6" cy="1577.7" r="4.50"/><circle cx="499.9" cy="1577.5" r="4.50"/><circle cx="501.6" cy="1576.3" r="4.50"/><circle cx="502.2" cy="1575.1" r="4.50"/><circle cx="504.0" cy="1575.1" r="4.50"/><circle cx="505.0" cy="1574.0" r="4.50"/><circle cx="506.8" cy="1573.3" r="4.50"/><circle cx="507.8" cy="1572.4" r="4.50"/><circle cx="509.3" cy="1571.1" r="4.50"/><circle cx="510.7" cy="1570.6" r="4.50"/><circle cx="511.7" cy="1569.8" r="4.50"/><circle cx="514.0" cy="1568.4" r="4.50"/><circle cx="514.9" cy="1568.2" r="4.50"/><circle cx="516.1" cy="1567.2" r="4.50"/><circle cx="517.3" cy="1566.7" r="4.50"/><circle cx="518.5" cy="1565.4" r="4.50"/><circle cx="519.5" cy="1564.6" r="4.50"/><circle cx="521.6" cy="1563.2" r="4.50"/><circle cx="522.6" cy="1563.0" r="4.50"/><circle cx="524.0" cy="1561.6" r="4.50"/><circle cx="524.8" cy="1561.2" r="4.50"/><circle cx="527.5" cy="1560.1" r="4.50"/><circle cx="528.4" cy="1559.5" r="4.50"/><circle cx="529.6" cy="1558.6" r="4.50"/><circle cx="531.0" cy="1557.4" r="4.50"/><circle cx="533.0" cy="1557.7" r="4.50"/><circle cx="533.7" cy="1556.5" r="4.50"/><circle cx="534.8" cy="1555.1" r="4.50"/><circle cx="536.7" cy="1553.9" r="4.50"/><circle cx="537.3" cy="1553.5" r="4.50"/><circle cx="538.5" cy="1553.1" r="4.50"/><circle cx="540.6" cy="1551.8" r="4.50"/><circle cx="542.0" cy="1550.6" r="4.50"/><circle cx="542.9" cy="1550.3" r="4.50"/><circle cx="544.8" cy="1549.2" r="4.50"/><circle cx="545.8" cy="1548.2" r="4.50"/><circle cx="547.6" cy="1547.0" r="4.50"/><circle cx="548.3" cy="1546.5" r="4.50"/><circle cx="549.4" cy="1545.4" r="4.50"/><circle cx="551.0" cy="1545.2" r="4.50"/><circle cx="553.2" cy="1544.2" r="4.50"/><circle cx="553.5" cy="1543.0" r="4.50"/><circle cx="555.3" cy="1542.3" r="4.50"/><circle cx="556.6" cy="1541.7" r="4.50"/><circle cx="557.4" cy="1540.5" r="4.50"/><circle cx="559.4" cy="1540.0" r="4.50"/><circle cx="560.8" cy="1539.0" r="4.50"/><circle cx="562.0" cy="1537.9" r="4.50"/><circle cx="563.5" cy="1537.2" r="4.50"/><circle cx="564.6" cy="1536.8" r="4.50"/><circle cx="566.5" cy="1535.4" r="4.50"/><circle cx="567.7" cy="1535.0" r="4.50"/><circle cx="568.9" cy="1533.9" r="4.50"/><circle cx="570.4" cy="1532.5" r="4.50"/><circle cx="571.1" cy="1532.3" r="4.50"/><circle cx="573.0" cy="1531.7" r="4.50"/><circle cx="574.1" cy="1530.7" r="4.50"/><circle cx="575.9" cy="1530.1" r="4.50"/><circle cx="576.7" cy="1528.6" r="4.50"/><circle cx="578.4" cy="1527.9" r="4.50"/><circle cx="579.4" cy="1526.8" r="4.50"/><circle cx="580.6" cy="1526.8" r="4.50"/><circle cx="582.4" cy="1525.3" r="4.50"/><circle cx="583.6" cy="1524.4" r="4.50"/><circle cx="585.3" cy="1523.5" r="4.50"/><circle cx="586.4" cy="1523.4" r="4.50"/><circle cx="588.1" cy="1521.9" r="4.50"/><circle cx="589.0" cy="1521.0" r="4.50"/><circle cx="590.3" cy="1520.2" r="4.50"/><circle cx="591.6" cy="1519.1" r="4.50"/><circle cx="593.1" cy="1518.1" r="4.50"/><circle cx="594.6" cy="1518.3" r="4.50"/><circle cx="595.7" cy="1516.2" r="4.50"/><circle cx="597.5" cy="1515.8" r="4.50"/><circle cx="599.2" cy="1515.1" r="4.50"/><circle cx="600.2" cy="1513.9" r="4.50"/><circle cx="600.8" cy="1513.2" r="4.50"/><circle cx="602.8" cy="1512.2" r="4.50"/><circle cx="603.5" cy="1511.4" r="4.50"/><circle cx="605.2" cy="1510.6" r="4.50"/><circle cx="606.7" cy="1510.5" r="4.50"/><circle cx="608.0" cy="1508.8" r="4.50"/><circle cx="609.1" cy="1508.3" r="4.50"/><circle cx="610.3" cy="1507.7" r="4.50"/><circle cx="612.1" cy="1505.9" r="4.50"/><circle cx="613.5" cy="1505.5" r="4.50"/><circle cx="615.1" cy="1504.2" r="4.50"/><circle cx="616.2" cy="1503.8" r="4.50"/><circle cx="617.7" cy="1502.6" r="4.50"/><circle cx="618.6" cy="1502.7" r="4.50"/><circle cx="620.3" cy="1500.8" r="4.50"/><circle cx="621.6" cy="1500.1" r="4.50"/><circle cx="622.7" cy="1499.2" r="4.50"/><circle cx="624.5" cy="1498.5" r="4.50"/><circle cx="625.6" cy="1497.8" r="4.50"/><circle cx="626.5" cy="1496.7" r="4.50"/><circle cx="628.5" cy="1495.6" r="4.50"/><circle cx="629.7" cy="1495.2" r="4.50"/><circle cx="631.2" cy="1494.6" r="4.50"/><circle cx="632.6" cy="1493.5" r="4.50"/><circle cx="633.7" cy="1492.4" r="4.50"/><circle cx="634.9" cy="1492.0" r="4.50"/><circle cx="636.2" cy="1491.2" r="4.50"/><circle cx="638.0" cy="1489.8" r="4.50"/><circle cx="639.2" cy="1489.0" r="4.50"/><circle cx="640.5" cy="1488.1" r="4.50"/><circle cx="641.9" cy="1487.5" r="4.50"/><circle cx="642.8" cy="1487.2" r="4.50"/><circle cx="644.7" cy="1485.3" r="4.50"/><circle cx="645.9" cy="1484.8" r="4.50"/><circle cx="647.8" cy="1484.0" r="4.50"/><circle cx="648.6" cy="1483.1" r="4.50"/><circle cx="650.0" cy="1482.1" r="4.50"/><circle cx="650.9" cy="1481.3" r="4.50"/><circle cx="652.4" cy="1480.8" r="4.50"/><circle cx="653.9" cy="1479.6" r="4.50"/><circle cx="655.1" cy="1478.6" r="4.50"/><circle cx="656.6" cy="1477.4" r="4.50"/><circle cx="657.9" cy="1477.5" r="4.50"/><circle cx="659.2" cy="1476.1" r="4.50"/><circle cx="660.6" cy="1475.1" r="4.50"/><circle cx="661.7" cy="1474.7" r="4.50"/><circle cx="663.1" cy="1474.3" r="4.50"/><circle cx="664.8" cy="1472.8" r="4.50"/><circle cx="665.8" cy="1471.9" r="4.50"/><circle cx="666.7" cy="1471.1" r="4.50"/><circle cx="669.0" cy="1470.4" r="4.50"/><circle cx="669.9" cy="1469.5" r="4.50"/><circle cx="671.6" cy="1468.4" r="4.50"/><circle cx="672.8" cy="1467.9" r="4.50"/><circle cx="674.2" cy="1466.6" r="4.50"/><circle cx="675.4" cy="1465.9" r="4.50"/><circle cx="676.3" cy="1465.1" r="4.50"/><circle cx="678.1" cy="1463.5" r="4.50"/><circle cx="679.0" cy="1463.8" r="4.50"/><circle cx="680.8" cy="1462.8" r="4.50"/><circle cx="682.0" cy="1462.0" r="4.50"/><circle cx="683.7" cy="1460.5" r="4.50"/><circle cx="684.9" cy="1460.3" r="4.50"/><circle cx="686.9" cy="1459.1" r="4.50"/><circle cx="687.4" cy="1457.8" r="4.50"/><circle cx="689.1" cy="1457.5" r="4.50"/><circle cx="690.3" cy="1456.3" r="4.50"/><circle cx="691.8" cy="1455.6" r="4.50"/><circle cx="693.0" cy="1454.2" r="4.50"/><circle cx="694.2" cy="1454.3" r="4.50"/><circle cx="695.6" cy="1453.6" r="4.50"/><circle cx="697.1" cy="1451.9" r="4.50"/><circle cx="698.4" cy="1451.3" r="4.50"/><circle cx="699.4" cy="1450.3" r="4.50"/><circle cx="700.9" cy="1449.8" r="4.50"/><circle cx="702.2" cy="1448.6" r="4.50"/><circle cx="703.2" cy="1447.2" r="4.50"/><circle cx="705.0" cy="1446.5" r="4.50"/><circle cx="706.3" cy="1446.0" r="4.50"/><circle cx="707.9" cy="1444.6" r="4.50"/><circle cx="709.0" cy="1444.4" r="4.50"/><circle cx="710.2" cy="1442.9" r="4.50"/><circle cx="711.5" cy="1442.9" r="4.50"/><circle cx="713.1" cy="1442.0" r="4.50"/><circle cx="714.3" cy="1441.0" r="4.50"/><circle cx="715.3" cy="1439.7" r="4.50"/><circle cx="717.1" cy="1439.5" r="4.50"/><circle cx="718.6" cy="1438.4" r="4.50"/><circle cx="719.6" cy="1437.1" r="4.50"/><circle cx="721.5" cy="1436.7" r="4.50"/><circle cx="722.8" cy="1435.8" r="4.50"/><circle cx="723.6" cy="1435.2" r="4.50"/><circle cx="725.2" cy="1434.1" r="4.50"/><circle cx="726.7" cy="1432.3" r="4.50"/><circle cx="727.2" cy="1431.5" r="4.50"/><circle cx="729.1" cy="1431.4" r="4.50"/><circle cx="730.4" cy="1430.4" r="4.50"/><circle cx="731.4" cy="1429.1" r="4.50"/><circle cx="732.9" cy="1428.4" r="4.50"/><circle cx="734.2" cy="1427.5" r="4.50"/><circle cx="736.0" cy="1426.5" r="4.50"/><circle cx="736.9" cy="1425.7" r="4.50"/><circle cx="738.1" cy="1424.6" r="4.50"/><circle cx="740.1" cy="1424.2" r="4.50"/><circle cx="740.8" cy="1423.1" r="4.50"/><circle cx="742.7" cy="1422.5" r="4.50"/><circle cx="744.1" cy="1421.7" r="4.50"/><circle cx="745.2" cy="1420.5" r="4.50"/><circle cx="746.5" cy="1420.0" r="4.50"/><circle cx="748.1" cy="1419.3" r="4.50"/><circle cx="749.5" cy="1417.7" r="4.50"/><circle cx="750.1" cy="1416.6" r="4.50"/><circle cx="751.6" cy="1416.3" r="4.50"/></g>
</g>
<rect x="102.3" y="1308.8" width="731.7" height="538.2" fill="none" stroke="#111" stroke-width="2.50"/>
<line x1="102.3" y1="1802.2" x2="109.3" y2="1802.2" stroke="#111" stroke-width="2.50"/>
<line x1="102.3" y1="1757.3" x2="113.3" y2="1757.3" stroke="#111" stroke-width="2.50"/>
<line x1="102.3" y1="1712.5" x2="109.3" y2="1712.5" stroke="#111" stroke-width="2.50"/>
<line x1="102.3" y1="1667.6" x2="113.3" y2="1667.6" stroke="#111" stroke-width="2.50"/>
<line x1="102.3" y1="1622.8" x2="109.3" y2="1622.8" stroke="#111" stroke-width="2.50"/>
<line x1="102.3" y1="1577.9" x2="113.3" y2="1577.9" stroke="#111" stroke-width="2.50"/>
<line x1="102.3" y1="1533.0" x2="109.3" y2="1533.0" stroke="#111" stroke-width="2.50"/>
<line x1="102.3" y1="1488.2" x2="113.3" y2="1488.2" stroke="#111" stroke-width="2.50"/>
<line x1="102.3" y1="1443.3" x2="109.3" y2="1443.3" stroke="#111" stroke-width="2.50"/>
<line x1="102.3" y1="1398.5" x2="113.3" y2="1398.5" stroke="#111" stroke-width="2.50"/>
<line x1="102.3" y1="1353.6" x2="109.3" y2="1353.6" stroke="#111" stroke-width="2.50"/>
<line x1="183.6" y1="1847.0" x2="183.6" y2="1840.0" stroke="#111" stroke-width="2.50"/>
<line x1="264.9" y1="1847.0" x2="264.9" y2="1836.0" stroke="#111" stroke-width="2.50"/>
<line x1="346.2" y1="1847.0" x2="346.2" y2="1840.0" stroke="#111" stroke-width="2.50"/>
<line x1="427.5" y1="1847.0" x2="427.5" y2="1836.0" stroke="#111" stroke-width="2.50"/>
<line x1="508.8" y1="1847.0" x2="508.8" y2="1840.0" stroke="#111" stroke-width="2.50"/>
<line x1="590.1" y1="1847.0" x2="590.1" y2="1836.0" stroke="#111" stroke-width="2.50"/>
<line x1="671.4" y1="1847.0" x2="671.4" y2="1840.0" stroke="#111" stroke-width="2.50"/>
<line x1="752.7" y1="1847.0" x2="752.7" y2="1836.0" stroke="#111" stroke-width="2.50"/>
<text x="89.5" y="1855.3" font-size="26.0" text-anchor="end" fill="#111" >0.00</text>
<text x="89.5" y="1765.6" font-size="26.0" text-anchor="end" fill="#111" >0.01</text>
<text x="89.5" y="1675.9" font-size="26.0" text-anchor="end" fill="#111" >0.02</text>
<text x="89.5" y="1586.2" font-size="26.0" text-anchor="end" fill="#111" >0.03</text>
<text x="89.5" y="1496.5" font-size="26.0" text-anchor="end" fill="#111" >0.04</text>
<text x="89.5" y="1406.8" font-size="26.0" text-anchor="end" fill="#111" >0.05</text>
<text x="89.5" y="1317.1" font-size="26.0" text-anchor="end" fill="#111" >0.06</text>
<text x="102.3" y="1879.8" font-size="26.0" text-anchor="middle" fill="#111" >0</text>
<text x="264.9" y="1879.8" font-size="26.0" text-anchor="middle" fill="#111" >20</text>
<text x="427.5" y="1879.8" font-size="26.0" text-anchor="middle" fill="#111" >40</text>
<text x="590.1" y="1879.8" font-size="26.0" text-anchor="middle" fill="#111" >60</text>
<text x="752.7" y="1879.8" font-size="26.0" text-anchor="middle" fill="#111" >80</text>
<text x="468.0" y="1923.4" font-size="26.0" text-anchor="middle" fill="#111" >H (kOe)</text>
<text transform="translate(19.3,1577.6) rotate(-90)" font-size="26" text-anchor="middle" fill="#111">M (&#956;<tspan dy="8" font-size="17">B</tspan><tspan dy="-8"> / f.u.)</tspan></text>
<text x="751.4" y="1455.7" font-size="26.0" text-anchor="start" fill="#111" >3 K</text>
<text x="751.4" y="1552.0" font-size="26.0" text-anchor="start" fill="#111" >10 K</text>
<text x="751.4" y="1692.3" font-size="26.0" text-anchor="start" fill="#111" >50 K</text>
<rect x="190.5" y="1329.0" width="293.5" height="214.3" fill="#fff"/>
<clipPath id="ci"><rect x="190.5" y="1329.0" width="293.5" height="214.3"/></clipPath><g clip-path="url(#ci)">
<g fill="none" stroke="#161616" stroke-width="1.50"><circle cx="191.3" cy="1526.4" r="3.00"/><circle cx="194.4" cy="1524.6" r="3.00"/><circle cx="197.5" cy="1522.7" r="3.00"/><circle cx="200.6" cy="1520.9" r="3.00"/><circle cx="203.6" cy="1519.0" r="3.00"/><circle cx="206.7" cy="1517.1" r="3.00"/><circle cx="209.8" cy="1515.2" r="3.00"/><circle cx="212.8" cy="1513.3" r="3.00"/><circle cx="215.9" cy="1511.4" r="3.00"/><circle cx="218.9" cy="1509.5" r="3.00"/><circle cx="222.0" cy="1507.5" r="3.00"/><circle cx="225.0" cy="1505.6" r="3.00"/><circle cx="228.1" cy="1503.7" r="3.00"/><circle cx="231.1" cy="1501.8" r="3.00"/><circle cx="234.2" cy="1499.9" r="3.00"/><circle cx="237.2" cy="1498.0" r="3.00"/><circle cx="240.3" cy="1496.1" r="3.00"/><circle cx="243.3" cy="1494.2" r="3.00"/><circle cx="246.4" cy="1492.3" r="3.00"/><circle cx="249.5" cy="1490.4" r="3.00"/><circle cx="252.5" cy="1488.6" r="3.00"/><circle cx="255.6" cy="1486.7" r="3.00"/><circle cx="258.7" cy="1484.8" r="3.00"/><circle cx="261.8" cy="1482.9" r="3.00"/><circle cx="264.8" cy="1481.1" r="3.00"/><circle cx="267.9" cy="1479.2" r="3.00"/><circle cx="271.0" cy="1477.3" r="3.00"/><circle cx="274.1" cy="1475.4" r="3.00"/><circle cx="277.1" cy="1473.6" r="3.00"/><circle cx="280.2" cy="1471.7" r="3.00"/><circle cx="283.3" cy="1469.8" r="3.00"/><circle cx="286.3" cy="1467.9" r="3.00"/><circle cx="289.4" cy="1466.0" r="3.00"/><circle cx="292.5" cy="1464.1" r="3.00"/><circle cx="295.5" cy="1462.3" r="3.00"/><circle cx="298.6" cy="1460.4" r="3.00"/><circle cx="301.7" cy="1458.5" r="3.00"/><circle cx="304.7" cy="1456.6" r="3.00"/><circle cx="307.8" cy="1454.7" r="3.00"/><circle cx="310.9" cy="1452.8" r="3.00"/><circle cx="313.9" cy="1450.9" r="3.00"/><circle cx="317.0" cy="1449.0" r="3.00"/><circle cx="320.1" cy="1447.2" r="3.00"/><circle cx="323.1" cy="1445.3" r="3.00"/><circle cx="326.2" cy="1443.4" r="3.00"/><circle cx="329.3" cy="1441.5" r="3.00"/><circle cx="332.3" cy="1439.6" r="3.00"/><circle cx="335.4" cy="1437.7" r="3.00"/><circle cx="338.5" cy="1435.9" r="3.00"/><circle cx="341.6" cy="1434.0" r="3.00"/><circle cx="344.6" cy="1432.1" r="3.00"/><circle cx="347.7" cy="1430.2" r="3.00"/><circle cx="350.8" cy="1428.4" r="3.00"/><circle cx="353.9" cy="1426.5" r="3.00"/><circle cx="356.9" cy="1424.6" r="3.00"/><circle cx="360.0" cy="1422.8" r="3.00"/><circle cx="363.1" cy="1420.9" r="3.00"/><circle cx="366.2" cy="1419.1" r="3.00"/><circle cx="369.3" cy="1417.2" r="3.00"/><circle cx="372.4" cy="1415.4" r="3.00"/><circle cx="375.5" cy="1413.5" r="3.00"/><circle cx="378.6" cy="1411.7" r="3.00"/><circle cx="381.7" cy="1409.9" r="3.00"/><circle cx="384.8" cy="1408.0" r="3.00"/><circle cx="387.9" cy="1406.2" r="3.00"/><circle cx="391.0" cy="1404.4" r="3.00"/><circle cx="394.1" cy="1402.5" r="3.00"/><circle cx="397.2" cy="1400.7" r="3.00"/><circle cx="400.3" cy="1398.9" r="3.00"/><circle cx="403.4" cy="1397.1" r="3.00"/><circle cx="406.5" cy="1395.3" r="3.00"/><circle cx="409.6" cy="1393.5" r="3.00"/><circle cx="412.7" cy="1391.7" r="3.00"/><circle cx="415.8" cy="1389.8" r="3.00"/><circle cx="418.9" cy="1388.0" r="3.00"/><circle cx="422.1" cy="1386.2" r="3.00"/><circle cx="425.2" cy="1384.5" r="3.00"/><circle cx="428.3" cy="1382.7" r="3.00"/><circle cx="431.4" cy="1380.9" r="3.00"/><circle cx="434.6" cy="1379.1" r="3.00"/><circle cx="437.7" cy="1377.3" r="3.00"/><circle cx="440.8" cy="1375.5" r="3.00"/><circle cx="443.9" cy="1373.7" r="3.00"/><circle cx="447.1" cy="1372.0" r="3.00"/><circle cx="450.2" cy="1370.2" r="3.00"/><circle cx="453.3" cy="1368.4" r="3.00"/><circle cx="456.5" cy="1366.7" r="3.00"/><circle cx="459.6" cy="1364.9" r="3.00"/><circle cx="462.8" cy="1363.2" r="3.00"/><circle cx="465.9" cy="1361.4" r="3.00"/><circle cx="469.1" cy="1359.6" r="3.00"/><circle cx="472.2" cy="1357.9" r="3.00"/><circle cx="475.4" cy="1356.2" r="3.00"/><circle cx="478.5" cy="1354.4" r="3.00"/><circle cx="481.7" cy="1352.7" r="3.00"/></g>
<g fill="none" stroke="#161616" stroke-width="1.50"><circle cx="192.8" cy="1543.2" r="3.00"/><circle cx="195.9" cy="1541.3" r="3.00"/><circle cx="198.9" cy="1539.3" r="3.00"/><circle cx="201.9" cy="1537.3" r="3.00"/><circle cx="204.8" cy="1535.3" r="3.00"/><circle cx="207.7" cy="1533.1" r="3.00"/><circle cx="210.6" cy="1530.9" r="3.00"/><circle cx="213.4" cy="1528.7" r="3.00"/><circle cx="216.2" cy="1526.4" r="3.00"/><circle cx="219.0" cy="1524.1" r="3.00"/><circle cx="221.7" cy="1521.8" r="3.00"/><circle cx="224.4" cy="1519.5" r="3.00"/><circle cx="227.2" cy="1517.1" r="3.00"/><circle cx="229.9" cy="1514.7" r="3.00"/><circle cx="232.5" cy="1512.3" r="3.00"/><circle cx="235.2" cy="1509.9" r="3.00"/><circle cx="237.9" cy="1507.5" r="3.00"/><circle cx="240.6" cy="1505.1" r="3.00"/><circle cx="243.3" cy="1502.8" r="3.00"/><circle cx="246.1" cy="1500.4" r="3.00"/><circle cx="248.8" cy="1498.1" r="3.00"/><circle cx="251.6" cy="1495.8" r="3.00"/><circle cx="254.4" cy="1493.5" r="3.00"/><circle cx="257.2" cy="1491.3" r="3.00"/><circle cx="260.0" cy="1489.0" r="3.00"/><circle cx="262.9" cy="1486.8" r="3.00"/><circle cx="265.7" cy="1484.7" r="3.00"/><circle cx="268.6" cy="1482.5" r="3.00"/><circle cx="271.5" cy="1480.4" r="3.00"/><circle cx="274.4" cy="1478.3" r="3.00"/><circle cx="277.4" cy="1476.2" r="3.00"/><circle cx="280.3" cy="1474.1" r="3.00"/><circle cx="283.2" cy="1472.0" r="3.00"/><circle cx="286.2" cy="1470.0" r="3.00"/><circle cx="289.2" cy="1467.9" r="3.00"/><circle cx="292.1" cy="1465.9" r="3.00"/><circle cx="295.1" cy="1463.9" r="3.00"/><circle cx="298.1" cy="1461.9" r="3.00"/><circle cx="301.1" cy="1459.9" r="3.00"/><circle cx="304.1" cy="1457.9" r="3.00"/><circle cx="307.1" cy="1456.0" r="3.00"/><circle cx="310.2" cy="1454.0" r="3.00"/><circle cx="313.2" cy="1452.1" r="3.00"/><circle cx="316.2" cy="1450.1" r="3.00"/><circle cx="319.3" cy="1448.2" r="3.00"/><circle cx="322.3" cy="1446.3" r="3.00"/><circle cx="325.4" cy="1444.4" r="3.00"/><circle cx="328.4" cy="1442.5" r="3.00"/><circle cx="331.5" cy="1440.6" r="3.00"/><circle cx="334.6" cy="1438.7" r="3.00"/><circle cx="337.6" cy="1436.8" r="3.00"/><circle cx="340.7" cy="1434.9" r="3.00"/><circle cx="343.8" cy="1433.1" r="3.00"/><circle cx="346.9" cy="1431.2" r="3.00"/><circle cx="350.0" cy="1429.4" r="3.00"/><circle cx="353.0" cy="1427.5" r="3.00"/><circle cx="356.1" cy="1425.7" r="3.00"/><circle cx="359.2" cy="1423.9" r="3.00"/><circle cx="362.3" cy="1422.0" r="3.00"/><circle cx="365.5" cy="1420.2" r="3.00"/><circle cx="368.6" cy="1418.4" r="3.00"/><circle cx="371.7" cy="1416.6" r="3.00"/><circle cx="374.8" cy="1414.8" r="3.00"/><circle cx="377.9" cy="1413.0" r="3.00"/><circle cx="381.0" cy="1411.2" r="3.00"/><circle cx="384.1" cy="1409.4" r="3.00"/><circle cx="387.3" cy="1407.6" r="3.00"/><circle cx="390.4" cy="1405.8" r="3.00"/><circle cx="393.5" cy="1404.0" r="3.00"/><circle cx="396.7" cy="1402.3" r="3.00"/><circle cx="399.8" cy="1400.5" r="3.00"/><circle cx="402.9" cy="1398.7" r="3.00"/><circle cx="406.0" cy="1396.9" r="3.00"/><circle cx="409.2" cy="1395.1" r="3.00"/><circle cx="412.3" cy="1393.4" r="3.00"/><circle cx="415.4" cy="1391.6" r="3.00"/><circle cx="418.6" cy="1389.8" r="3.00"/><circle cx="421.7" cy="1388.0" r="3.00"/><circle cx="424.8" cy="1386.3" r="3.00"/><circle cx="428.0" cy="1384.5" r="3.00"/><circle cx="431.1" cy="1382.7" r="3.00"/><circle cx="434.2" cy="1380.9" r="3.00"/><circle cx="437.4" cy="1379.2" r="3.00"/><circle cx="440.5" cy="1377.4" r="3.00"/><circle cx="443.6" cy="1375.6" r="3.00"/><circle cx="446.7" cy="1373.8" r="3.00"/><circle cx="449.9" cy="1372.0" r="3.00"/><circle cx="453.0" cy="1370.2" r="3.00"/><circle cx="456.1" cy="1368.4" r="3.00"/><circle cx="459.2" cy="1366.6" r="3.00"/><circle cx="462.3" cy="1364.8" r="3.00"/><circle cx="465.5" cy="1363.0" r="3.00"/><circle cx="468.6" cy="1361.2" r="3.00"/><circle cx="471.7" cy="1359.4" r="3.00"/><circle cx="474.8" cy="1357.6" r="3.00"/><circle cx="477.9" cy="1355.8" r="3.00"/><circle cx="481.0" cy="1353.9" r="3.00"/></g>
</g>
<rect x="190.5" y="1329.0" width="293.5" height="214.3" fill="none" stroke="#111" stroke-width="1.60"/>
<line x1="190.5" y1="1507.6" x2="196.5" y2="1507.6" stroke="#111" stroke-width="1.6"/>
<line x1="190.5" y1="1471.9" x2="196.5" y2="1471.9" stroke="#111" stroke-width="1.6"/>
<line x1="190.5" y1="1436.2" x2="196.5" y2="1436.2" stroke="#111" stroke-width="1.6"/>
<line x1="190.5" y1="1400.4" x2="196.5" y2="1400.4" stroke="#111" stroke-width="1.6"/>
<line x1="190.5" y1="1364.7" x2="196.5" y2="1364.7" stroke="#111" stroke-width="1.6"/>
<line x1="227.2" y1="1543.3" x2="227.2" y2="1539.3" stroke="#111" stroke-width="1.6"/>
<line x1="263.9" y1="1543.3" x2="263.9" y2="1537.3" stroke="#111" stroke-width="1.6"/>
<line x1="300.6" y1="1543.3" x2="300.6" y2="1539.3" stroke="#111" stroke-width="1.6"/>
<line x1="337.2" y1="1543.3" x2="337.2" y2="1537.3" stroke="#111" stroke-width="1.6"/>
<line x1="373.9" y1="1543.3" x2="373.9" y2="1539.3" stroke="#111" stroke-width="1.6"/>
<line x1="410.6" y1="1543.3" x2="410.6" y2="1537.3" stroke="#111" stroke-width="1.6"/>
<line x1="447.3" y1="1543.3" x2="447.3" y2="1539.3" stroke="#111" stroke-width="1.6"/>
<text x="187.5" y="1550.3" font-size="19.5" text-anchor="end" fill="#111" >0</text>
<text x="186.0" y="1407.4" font-size="19.5" text-anchor="end" fill="#111" >0.01</text>
<text x="190.5" y="1566.7" font-size="19.5" text-anchor="middle" fill="#111" >0</text>
<text x="263.9" y="1566.7" font-size="19.5" text-anchor="middle" fill="#111" >5</text>
<text x="337.2" y="1566.7" font-size="19.5" text-anchor="middle" fill="#111" >10</text>
<text x="410.6" y="1566.7" font-size="19.5" text-anchor="middle" fill="#111" >15</text>
<text x="484.0" y="1566.7" font-size="19.5" text-anchor="middle" fill="#111" >20</text>
<text x="337.0" y="1593.5" font-size="20.5" text-anchor="middle" fill="#111" >H (kOe)</text>
<text x="208.5" y="1364.4" font-size="26.0" text-anchor="start" fill="#111" >3 K</text>
<text transform="translate(141.5,1435) rotate(-90)" font-size="20" text-anchor="middle" fill="#111">M (&#956;<tspan dy="6" font-size="13.5">B</tspan><tspan dy="-6"> / f.u.)</tspan></text>
</svg></body></html>
